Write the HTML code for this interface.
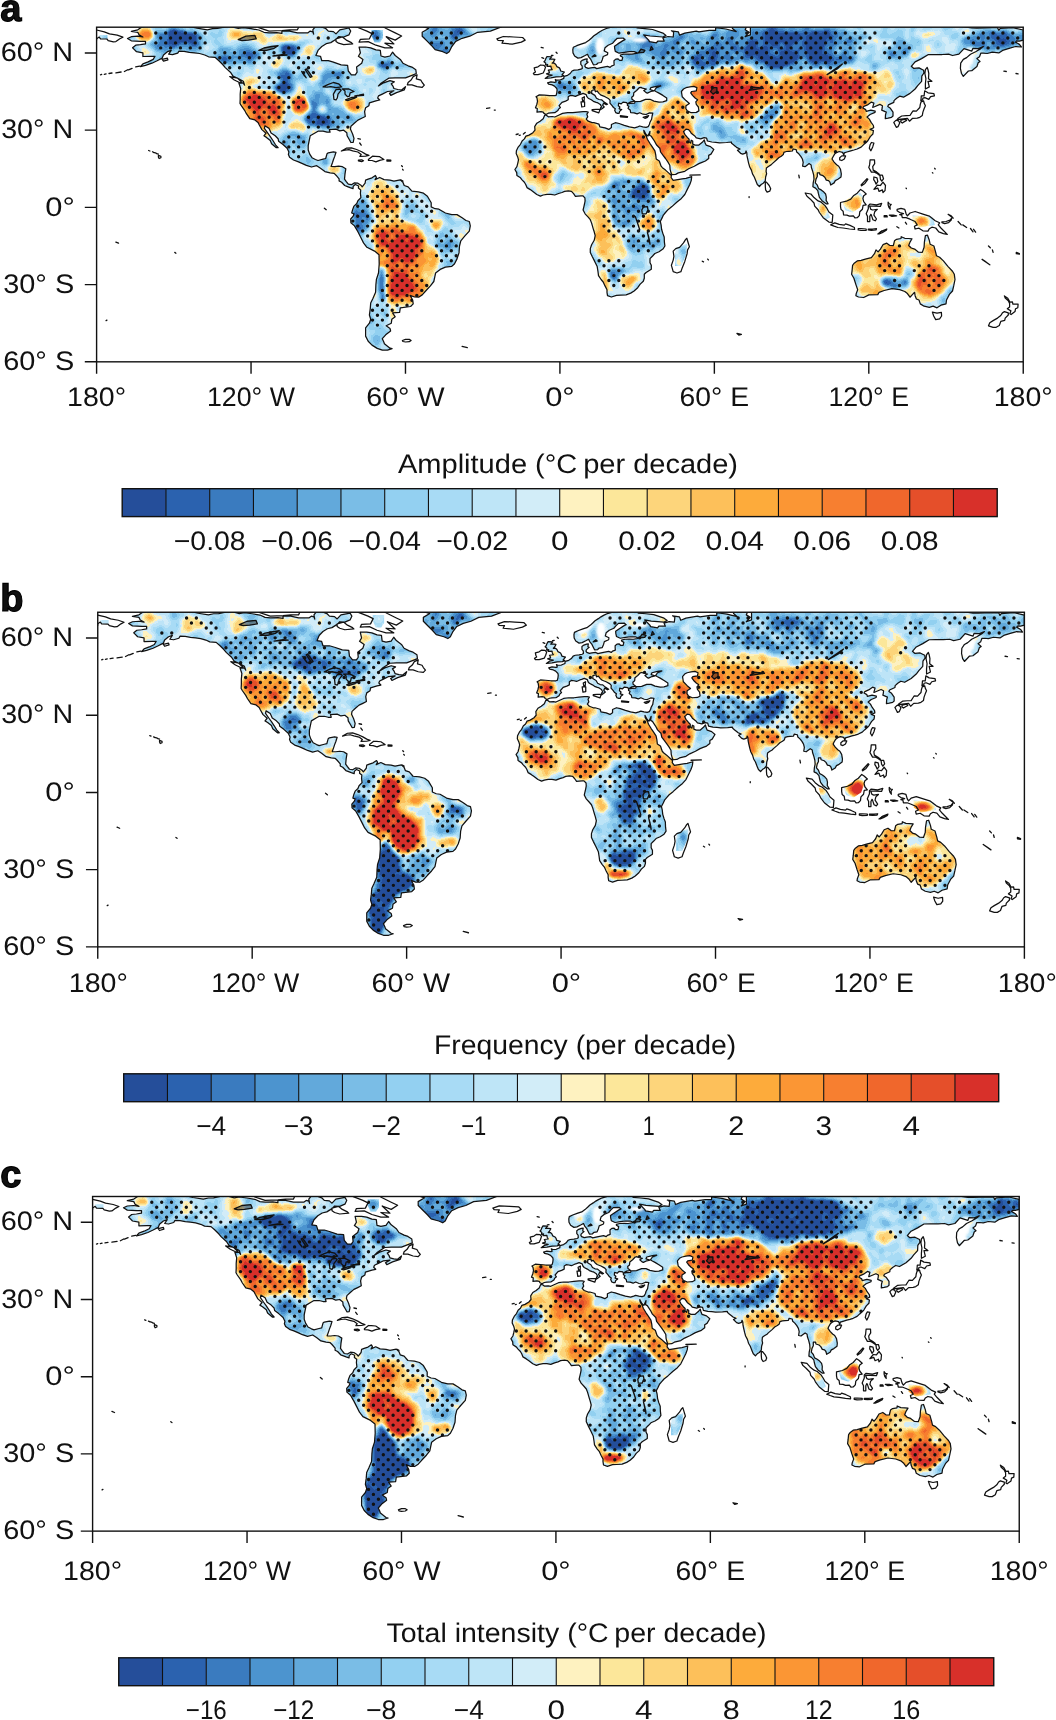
<!DOCTYPE html><html><head><meta charset="utf-8"><title>fig</title><style>html,body{margin:0;padding:0;background:#fff}svg{display:block}text{font-family:"Liberation Sans",sans-serif;fill:#111;text-rendering:geometricPrecision}</style></head><body>
<svg width="1056" height="1720" viewBox="0 0 1056 1720">
<defs>
<path id="landp" d="M60.5,-3.3 L72.1,-2.1 L82.4,-1.0 L95.2,-0.3 L100.4,1.0 L110.7,2.6 L115.8,1.5 L121.0,1.3 L128.7,-0.3 L133.8,-0.8 L141.6,1.3 L146.7,0.5 L154.4,1.5 L162.2,2.8 L167.3,5.1 L172.5,5.7 L180.2,5.4 L185.3,6.2 L185.3,3.6 L193.0,3.9 L200.8,5.7 L211.1,5.7 L213.6,3.9 L216.2,4.6 L217.0,6.9 L216.2,2.6 L221.4,-3.9 L225.2,0.0 L229.1,1.3 L231.7,3.9 L236.8,4.4 L239.4,6.7 L243.2,2.6 L252.3,0.8 L254.1,3.9 L252.3,7.7 L247.1,9.8 L242.0,9.5 L239.4,12.1 L234.2,15.4 L229.6,16.5 L225.2,19.3 L221.4,23.2 L219.3,28.3 L223.9,29.1 L225.2,33.5 L231.7,33.5 L236.8,35.0 L244.5,37.6 L251.0,38.1 L251.7,43.8 L254.8,47.6 L258.7,47.6 L260.5,45.0 L260.0,39.9 L265.1,36.0 L266.4,32.2 L261.8,29.1 L263.8,25.7 L262.5,19.8 L269.0,19.8 L274.1,20.6 L279.3,22.7 L283.7,23.2 L284.4,28.8 L288.3,29.9 L293.4,28.8 L296.0,25.0 L298.6,28.3 L303.7,32.2 L306.3,36.0 L311.5,38.6 L315.3,39.9 L319.2,42.5 L319.7,46.3 L316.6,47.6 L308.9,50.7 L298.6,50.7 L292.1,51.0 L284.4,56.1 L281.9,58.7 L287.0,55.6 L293.4,53.5 L297.8,54.6 L294.7,56.6 L296.5,59.2 L297.3,61.3 L301.2,62.3 L305.0,62.8 L308.9,59.5 L307.6,62.8 L299.9,65.4 L294.2,68.2 L292.9,66.2 L297.3,63.6 L290.9,64.3 L285.7,66.9 L281.9,68.7 L281.1,70.8 L283.1,72.8 L279.3,73.6 L272.8,75.7 L272.3,78.5 L269.0,80.6 L268.0,84.4 L268.7,89.3 L265.1,91.1 L261.3,92.9 L257.4,96.3 L254.3,99.1 L253.8,101.9 L256.1,107.1 L257.4,111.2 L256.6,115.1 L254.3,115.3 L252.8,112.5 L250.5,108.6 L250.2,105.5 L247.1,103.0 L243.2,103.7 L239.4,101.9 L235.5,102.2 L232.7,102.4 L233.5,105.0 L230.4,105.0 L226.5,104.0 L221.4,104.0 L218.8,105.5 L213.6,108.6 L212.6,113.3 L211.6,118.4 L211.6,122.8 L213.1,126.9 L215.4,130.5 L218.8,132.3 L221.4,133.3 L226.5,132.0 L229.1,131.3 L230.4,126.6 L231.7,125.6 L236.8,124.6 L239.4,125.1 L238.1,129.2 L236.8,132.6 L236.0,135.1 L234.5,139.3 L238.1,139.5 L242.0,139.0 L245.8,139.5 L249.2,141.6 L248.4,146.7 L247.9,151.9 L249.7,154.4 L251.7,157.0 L254.8,157.5 L257.9,155.7 L261.3,156.0 L264.3,158.0 L265.6,159.6 L268.5,156.0 L269.0,152.9 L271.6,151.9 L275.4,150.6 L278.8,148.3 L279.8,150.1 L278.5,152.4 L283.1,150.3 L287.5,152.4 L293.4,152.9 L297.3,153.9 L303.7,152.6 L306.3,155.0 L307.6,158.3 L311.5,159.6 L315.3,164.0 L321.8,164.7 L326.9,166.0 L330.8,169.1 L334.6,175.5 L334.6,179.7 L338.5,181.5 L342.3,182.0 L348.8,185.8 L355.2,187.4 L360.4,187.4 L365.5,190.5 L369.4,193.3 L372.7,194.3 L373.7,198.7 L372.7,203.9 L368.1,209.0 L364.2,213.6 L362.9,218.8 L362.4,225.7 L360.4,231.7 L357.8,236.8 L355.2,239.1 L348.8,239.9 L343.6,242.2 L339.0,245.8 L338.2,249.7 L337.2,254.3 L333.8,258.7 L329.5,263.3 L325.6,267.7 L322.0,270.0 L317.9,269.8 L313.5,268.2 L316.1,272.8 L316.6,276.7 L314.0,279.3 L303.7,280.6 L303.0,285.2 L296.0,285.7 L298.6,289.6 L295.2,292.1 L294.7,296.0 L289.6,298.6 L293.4,301.2 L294.0,303.7 L289.1,307.6 L285.7,311.5 L287.3,315.1 L287.8,316.6 L293.4,321.0 L295.5,321.5 L290.9,323.0 L285.7,323.0 L280.6,321.2 L275.4,317.9 L271.6,314.0 L269.0,308.9 L269.0,303.7 L269.0,300.6 L272.8,296.0 L274.1,292.1 L272.8,287.8 L273.6,281.9 L274.1,275.9 L276.2,271.6 L279.0,265.1 L279.3,257.4 L279.8,252.3 L281.9,245.8 L282.6,236.8 L282.4,227.5 L278.0,223.9 L270.3,220.1 L266.9,215.7 L264.6,211.1 L261.3,204.6 L257.9,198.7 L254.3,195.6 L254.1,191.8 L256.6,188.9 L257.4,186.6 L255.1,185.8 L256.1,182.2 L257.4,178.9 L260.2,176.3 L261.3,173.5 L264.3,170.4 L263.8,166.0 L264.1,162.7 L261.8,160.9 L262.0,158.8 L258.7,157.3 L256.6,159.1 L256.4,161.4 L253.5,160.4 L250.2,159.1 L248.1,158.3 L245.0,155.0 L242.5,153.7 L242.5,151.6 L239.4,148.0 L237.6,146.2 L233.5,145.7 L228.3,144.4 L223.9,141.1 L220.1,138.5 L214.9,139.8 L209.8,138.2 L205.9,136.4 L201.3,134.4 L196.9,132.8 L193.0,130.0 L191.8,127.2 L192.3,124.8 L190.5,121.0 L186.1,117.1 L182.0,114.0 L181.5,111.5 L178.6,108.6 L174.5,105.8 L172.5,101.2 L168.3,98.6 L167.8,101.2 L171.2,106.0 L173.7,109.4 L176.3,113.3 L178.9,117.6 L181.5,120.5 L179.7,120.5 L175.0,116.6 L173.7,113.3 L169.9,110.2 L167.3,108.6 L169.4,106.0 L165.3,102.4 L162.7,97.8 L161.4,95.2 L158.3,92.7 L153.2,91.4 L149.8,86.5 L148.0,83.1 L144.7,78.5 L143.4,76.2 L143.6,72.1 L143.6,66.9 L144.1,61.3 L142.3,55.9 L146.7,55.9 L148.0,57.9 L146.7,54.1 L142.1,51.5 L136.4,48.9 L133.8,45.0 L128.7,40.4 L126.1,37.3 L122.3,33.5 L118.4,30.1 L112.0,29.6 L108.1,27.8 L103.0,26.3 L97.8,25.7 L92.7,25.2 L87.5,24.2 L82.4,23.9 L81.1,26.0 L75.9,27.5 L72.1,27.0 L74.6,23.2 L70.8,24.5 L66.9,27.8 L65.6,30.9 L60.5,33.5 L55.3,36.0 L48.9,38.1 L43.8,39.4 L46.3,36.6 L51.5,34.7 L56.6,32.2 L58.4,29.1 L54.1,29.1 L46.3,29.3 L46.3,25.7 L39.9,24.5 L37.3,21.9 L36.0,20.6 L39.1,18.0 L43.8,17.5 L48.9,16.7 L48.9,14.2 L43.8,14.2 L34.7,13.6 L30.9,11.3 L34.7,9.5 L41.2,9.0 L46.3,9.8 L42.5,7.7 L41.2,5.1 L34.7,4.1 L41.2,2.6 L45.0,0.0 L51.5,-1.5ZM305.0,8.8 L298.6,12.9 L289.6,9.5 L297.3,16.7 L288.3,16.0 L296.0,20.6 L288.3,20.6 L279.3,18.0 L271.6,14.4 L262.5,14.9 L263.8,12.1 L272.8,11.6 L275.4,6.4 L270.3,3.9 L261.3,0.3 L257.4,-1.3 L244.5,-3.9 L244.5,-9.0 L257.4,-10.3 L270.3,-7.2 L283.1,-2.6 L289.6,1.3 L298.6,5.7ZM239.4,11.6 L245.8,9.8 L249.7,12.9 L254.8,15.4 L256.1,16.7 L247.1,17.5 L242.0,16.0 L239.4,14.2ZM162.2,0.5 L167.3,2.1 L172.5,3.9 L185.3,3.3 L193.0,2.6 L200.8,2.6 L202.1,0.0 L200.8,-7.7 L159.6,-7.7ZM350.1,26.3 L346.2,24.5 L338.5,22.4 L334.6,18.0 L330.8,14.2 L325.6,9.0 L325.6,5.1 L332.0,1.3 L324.3,-1.3 L324.3,-12.9 L406.7,-12.9 L406.7,-1.3 L404.1,0.0 L393.8,3.9 L381.0,5.1 L373.2,9.0 L365.5,11.1 L359.1,14.2 L355.2,19.3 L352.6,24.5ZM400.3,11.6 L406.7,9.3 L417.0,9.8 L426.0,10.3 L428.6,12.9 L424.7,14.9 L415.7,17.0 L405.4,16.0 L406.7,13.4 L401.5,13.1ZM529.5,-2.8 L543.1,-0.8 L540.5,0.8 L548.3,1.5 L556.0,2.3 L566.3,5.9 L569.4,8.2 L566.3,9.8 L553.4,8.8 L547.0,7.7 L552.1,12.9 L552.9,14.4 L559.8,15.7 L561.1,13.9 L567.6,13.9 L566.3,10.8 L571.4,9.3 L576.6,9.8 L577.1,5.1 L574.8,3.6 L581.7,4.6 L583.0,8.0 L588.2,5.9 L599.7,3.9 L602.3,4.6 L612.6,3.1 L619.0,3.1 L619.0,0.5 L629.3,1.8 L633.2,2.8 L639.6,4.4 L635.8,1.3 L635.8,-2.6 L638.4,-6.4 L649.9,-7.2 L650.7,-2.6 L648.6,2.6 L652.5,5.1 L648.6,9.5 L653.8,7.7 L653.8,0.0 L656.4,-5.1 L664.1,-5.1 L670.5,-9.0 L687.3,-10.3 L687.3,-12.9 L720.7,-16.7 L731.0,-19.3 L754.2,-15.4 L754.2,-9.8 L767.1,-8.2 L779.9,-8.5 L790.2,-6.4 L797.9,-2.6 L805.7,-3.9 L823.7,-6.4 L826.3,-6.9 L849.4,-4.4 L854.6,-2.3 L875.2,0.8 L880.3,1.0 L895.8,0.5 L900.9,0.5 L902.2,3.1 L903.5,1.3 L916.3,0.5 L926.6,2.8 L926.6,12.9 L922.8,13.9 L920.2,13.6 L918.9,14.9 L922.8,17.2 L924.8,19.8 L918.9,19.3 L912.5,21.1 L906.0,23.2 L902.2,25.7 L895.8,25.0 L890.6,26.3 L886.7,26.0 L884.2,26.0 L882.9,29.6 L880.3,31.4 L883.4,34.2 L881.6,35.5 L880.3,39.4 L875.2,43.5 L871.8,43.8 L866.7,49.2 L864.9,46.3 L863.8,41.2 L864.1,36.0 L866.7,32.2 L870.0,30.4 L873.9,27.0 L879.0,24.5 L884.2,21.4 L886.7,19.3 L881.6,21.4 L876.4,21.1 L875.2,23.9 L867.4,21.4 L862.3,27.0 L855.9,28.3 L852.0,27.0 L845.6,27.3 L837.8,27.3 L831.4,27.5 L825.0,31.4 L818.5,34.7 L814.7,39.1 L817.2,41.2 L822.4,40.7 L827.0,43.0 L827.3,45.8 L825.2,48.9 L825.0,54.1 L821.1,58.4 L818.5,61.8 L813.4,66.2 L806.9,70.0 L803.1,69.0 L800.0,71.0 L797.4,73.4 L797.2,75.2 L791.8,77.7 L791.2,79.3 L793.8,81.1 L796.4,84.9 L796.4,88.8 L794.9,90.1 L791.5,90.9 L788.7,91.4 L788.9,87.5 L789.7,84.9 L785.1,82.9 L785.6,80.8 L785.8,78.5 L783.3,77.2 L777.3,79.8 L776.1,80.1 L777.3,75.9 L774.8,74.9 L770.9,77.7 L767.1,79.3 L766.3,80.8 L769.1,82.4 L769.6,84.2 L774.3,82.9 L778.6,83.9 L778.4,85.2 L773.5,87.3 L770.4,89.8 L772.7,91.9 L774.5,95.2 L776.8,98.3 L777.1,100.6 L773.5,102.2 L776.8,103.5 L776.3,106.8 L773.7,109.4 L771.4,113.3 L769.6,115.3 L767.1,117.4 L764.5,119.9 L760.6,121.8 L757.3,122.8 L754.2,123.6 L750.3,124.8 L747.7,125.6 L747.2,127.9 L745.9,125.1 L742.6,124.3 L740.0,125.4 L738.0,126.9 L736.2,130.0 L735.4,131.8 L737.5,134.9 L740.0,137.5 L742.1,139.0 L743.9,142.1 L744.7,146.7 L744.4,149.8 L741.3,152.1 L738.7,153.4 L737.5,155.7 L734.1,157.8 L733.3,155.0 L732.0,153.4 L729.7,152.9 L728.2,150.1 L726.4,148.5 L723.3,147.5 L723.0,145.7 L720.7,145.7 L720.7,149.3 L719.4,151.9 L718.7,155.7 L720.7,158.0 L722.0,161.4 L724.6,162.7 L726.6,164.2 L729.0,166.8 L729.7,169.9 L729.5,173.2 L731.5,176.6 L729.5,176.6 L725.4,173.5 L722.8,170.1 L721.7,166.0 L721.2,163.4 L718.9,160.9 L716.3,159.6 L716.6,155.7 L717.4,151.9 L717.1,148.0 L716.1,144.1 L714.8,140.3 L714.5,137.7 L712.5,136.4 L710.4,138.0 L708.4,139.5 L706.0,139.0 L706.6,135.1 L705.8,131.8 L704.2,129.2 L702.2,126.6 L700.1,124.8 L699.6,122.5 L696.5,121.8 L695.8,123.8 L692.4,124.1 L689.8,124.3 L687.3,125.1 L686.7,127.4 L684.7,129.0 L682.1,130.5 L679.5,133.1 L675.7,136.4 L674.4,137.7 L671.8,139.3 L669.8,140.8 L669.5,144.1 L670.0,146.5 L669.0,149.8 L668.7,153.7 L666.7,156.0 L664.6,157.3 L662.8,159.3 L660.7,157.3 L659.5,154.4 L657.7,149.8 L655.9,146.7 L654.8,142.9 L653.0,139.5 L652.0,135.9 L651.0,131.5 L650.4,128.7 L650.2,125.6 L649.4,123.8 L648.9,125.9 L646.1,126.9 L644.0,126.1 L640.9,123.0 L643.5,121.8 L640.4,120.5 L638.9,119.2 L636.6,117.4 L635.0,116.1 L634.7,114.8 L629.9,115.3 L622.9,115.6 L619.3,115.1 L615.2,114.8 L610.8,113.8 L610.0,110.9 L607.5,110.4 L604.1,111.7 L599.7,110.7 L598.5,109.1 L594.6,106.0 L594.1,105.0 L592.0,102.4 L589.4,101.9 L588.2,103.2 L586.9,104.2 L588.2,107.1 L590.7,110.2 L592.5,112.0 L592.5,114.5 L594.1,115.8 L594.6,113.0 L596.1,113.8 L596.1,116.9 L598.5,117.9 L602.3,117.9 L605.7,115.1 L607.7,112.7 L608.5,115.8 L609.5,117.9 L613.9,119.4 L617.2,122.3 L614.4,126.9 L612.1,128.2 L612.1,131.3 L608.8,133.8 L605.4,135.1 L602.3,136.4 L597.7,139.0 L592.0,141.6 L588.2,144.1 L581.7,145.7 L579.1,147.2 L575.3,147.5 L574.5,145.9 L573.5,142.1 L573.2,138.0 L571.4,134.9 L568.9,131.3 L566.3,127.9 L564.0,124.8 L563.2,121.0 L559.8,117.6 L557.8,113.8 L554.7,109.1 L552.9,108.1 L553.4,104.2 L551.9,107.6 L551.4,108.9 L549.5,107.3 L547.2,103.2 L547.5,105.5 L549.5,108.6 L550.8,112.0 L553.4,116.3 L555.0,118.7 L558.3,123.6 L559.1,127.4 L559.6,131.8 L562.7,133.8 L564.5,139.0 L565.8,140.5 L568.9,142.9 L572.5,146.2 L574.8,148.3 L574.5,150.3 L576.6,153.2 L581.2,152.4 L585.6,151.6 L589.4,151.1 L595.1,149.5 L594.6,153.4 L593.3,157.0 L590.7,162.2 L588.2,167.3 L584.8,171.2 L580.4,174.8 L575.3,179.4 L571.4,182.5 L568.9,185.3 L566.8,187.9 L565.5,190.7 L563.7,194.3 L564.5,197.7 L565.0,202.1 L566.3,206.4 L567.6,209.8 L567.8,214.9 L568.3,218.8 L566.3,221.9 L562.4,224.5 L558.3,226.3 L556.0,228.8 L553.4,231.4 L553.4,235.5 L554.7,238.1 L554.7,242.0 L549.5,245.3 L547.7,247.1 L547.7,251.0 L546.7,254.1 L543.6,256.9 L541.1,260.5 L537.5,263.8 L534.1,265.9 L529.5,267.7 L523.8,268.0 L519.9,268.2 L514.8,269.8 L510.9,268.5 L510.4,265.1 L510.4,262.5 L508.4,258.7 L506.6,254.8 L504.5,252.3 L501.9,248.4 L501.4,244.5 L500.6,239.4 L498.1,234.2 L495.5,229.1 L493.7,225.2 L493.7,221.4 L495.0,217.5 L497.6,213.1 L498.6,208.5 L497.6,204.6 L496.8,202.1 L495.0,195.9 L493.7,192.5 L491.6,190.0 L488.5,186.6 L486.5,182.8 L487.3,179.4 L488.0,176.3 L488.5,173.7 L488.3,170.7 L486.2,168.6 L484.4,168.6 L481.3,168.9 L478.8,169.1 L477.0,166.5 L474.9,164.2 L471.8,163.7 L468.0,164.2 L465.4,165.3 L462.0,166.3 L458.2,167.8 L454.3,167.1 L450.4,167.1 L446.6,167.8 L443.8,168.9 L440.2,167.3 L436.3,164.2 L433.7,162.4 L430.4,160.4 L429.1,157.3 L427.8,155.0 L425.2,152.4 L423.9,150.6 L420.3,148.3 L420.1,145.4 L418.3,142.3 L420.3,139.5 L421.1,136.4 L421.9,132.6 L421.1,129.7 L419.6,126.4 L419.8,123.6 L421.6,119.9 L423.9,117.1 L425.5,113.8 L427.8,111.7 L429.3,108.9 L432.4,107.9 L436.3,105.5 L438.4,103.0 L438.1,99.4 L440.2,96.0 L443.5,94.0 L446.6,91.6 L448.1,88.0 L449.7,88.0 L451.7,89.6 L455.6,89.3 L458.2,89.8 L462.0,88.0 L465.9,86.2 L471.0,85.5 L476.2,85.5 L481.3,84.9 L486.5,84.4 L489.6,84.4 L491.6,84.9 L490.3,87.0 L491.1,89.6 L489.6,91.9 L491.6,94.0 L495.5,95.5 L497.3,95.5 L502.4,97.0 L503.2,99.6 L508.4,100.6 L512.2,102.2 L514.8,100.4 L514.8,97.3 L518.7,95.5 L522.5,96.3 L527.7,98.1 L532.8,99.6 L538.0,100.6 L541.1,99.6 L543.1,98.8 L546.2,99.6 L549.5,100.1 L551.6,99.4 L552.9,97.0 L553.4,95.0 L555.0,92.1 L555.5,88.8 L556.2,86.0 L552.9,85.7 L549.5,87.3 L546.5,87.0 L543.1,85.5 L540.5,86.7 L537.5,85.7 L534.1,85.5 L533.6,82.9 L531.5,81.3 L532.3,79.0 L530.8,78.2 L531.0,76.7 L534.1,76.2 L538.0,75.9 L538.5,74.4 L543.9,74.1 L549.0,72.1 L553.4,72.1 L557.3,73.9 L562.4,74.9 L566.3,74.6 L570.1,73.4 L570.1,70.8 L566.3,68.2 L562.4,65.9 L559.3,64.3 L557.8,63.3 L559.8,60.5 L561.9,59.7 L564.2,58.7 L559.8,59.2 L554.2,60.5 L553.4,62.3 L557.3,63.6 L554.2,64.3 L550.8,65.9 L549.5,65.4 L547.2,63.3 L549.8,61.8 L545.7,61.0 L544.4,60.2 L542.6,60.5 L540.0,63.3 L537.2,65.6 L536.9,68.5 L535.1,70.0 L535.4,72.1 L538.0,73.9 L534.1,74.6 L532.0,75.9 L530.8,77.0 L530.2,75.4 L526.4,74.9 L524.6,76.7 L522.0,75.9 L521.7,78.5 L523.3,79.8 L522.5,81.6 L525.1,82.4 L523.8,83.4 L523.0,84.2 L522.5,86.2 L521.0,86.2 L519.2,85.5 L518.1,83.1 L518.7,81.6 L516.9,80.3 L515.3,78.2 L513.3,75.9 L513.5,73.1 L512.2,71.6 L508.4,69.5 L504.5,68.0 L502.4,66.2 L500.6,63.8 L498.8,64.6 L498.3,62.5 L495.2,63.3 L495.0,66.2 L498.3,68.2 L499.9,71.0 L502.4,72.3 L505.0,72.6 L507.6,74.9 L510.9,77.0 L509.7,77.5 L507.1,75.9 L506.0,78.0 L507.6,79.8 L505.8,81.3 L503.7,82.6 L504.0,80.6 L505.0,79.8 L503.7,77.2 L501.4,75.7 L499.6,75.2 L496.8,74.1 L494.7,72.6 L491.6,71.0 L490.3,69.5 L489.6,67.4 L486.5,66.2 L483.9,67.2 L482.1,67.7 L478.8,69.2 L476.2,68.5 L473.6,68.2 L471.6,69.5 L471.6,71.3 L471.6,72.6 L469.0,73.9 L465.4,75.2 L462.5,78.5 L463.8,80.3 L462.0,81.9 L461.3,83.4 L458.2,85.5 L454.3,85.7 L451.7,86.0 L449.4,87.3 L447.4,86.2 L446.6,84.9 L444.3,84.4 L440.4,84.9 L440.7,81.3 L438.9,80.6 L440.2,77.2 L440.9,74.1 L440.4,70.8 L439.4,69.5 L442.7,67.7 L447.9,68.0 L453.0,68.5 L458.2,68.5 L459.5,68.2 L460.2,65.6 L460.5,62.8 L460.2,61.3 L457.9,58.9 L455.6,57.7 L452.0,56.9 L451.0,55.6 L454.3,54.6 L458.2,55.1 L459.5,54.8 L458.7,52.3 L460.2,53.0 L463.6,52.8 L467.2,51.2 L467.4,49.2 L471.0,48.1 L473.6,46.3 L475.4,43.8 L477.5,43.0 L481.3,42.7 L484.4,42.0 L485.7,41.2 L485.5,38.6 L484.2,37.1 L484.2,34.2 L485.5,33.2 L488.8,31.9 L490.6,31.7 L490.1,34.5 L491.4,35.0 L489.6,36.6 L488.5,37.6 L488.3,39.1 L489.1,40.2 L491.6,41.2 L494.2,40.7 L498.1,40.2 L500.1,41.4 L504.5,40.4 L510.9,39.1 L513.5,40.2 L514.8,38.9 L517.6,37.8 L517.4,35.5 L517.4,33.5 L519.2,31.9 L521.5,31.7 L523.0,33.2 L525.4,33.2 L526.1,30.1 L523.8,28.8 L523.8,27.8 L527.2,27.0 L531.5,26.8 L535.4,27.0 L541.1,26.0 L537.5,24.5 L532.8,24.5 L527.7,25.2 L522.5,26.0 L518.7,24.2 L518.1,21.4 L517.9,19.0 L521.2,16.7 L526.4,13.4 L528.4,12.4 L526.4,10.8 L520.7,11.1 L518.1,13.6 L516.1,16.0 L511.5,18.0 L508.4,20.6 L507.6,23.7 L511.2,25.5 L510.9,27.5 L506.6,29.3 L505.8,32.2 L504.5,35.3 L501.4,35.8 L499.9,37.3 L496.8,37.6 L495.8,35.5 L494.2,32.2 L492.1,29.6 L490.9,27.0 L488.5,28.3 L484.4,30.4 L481.3,30.9 L478.0,28.8 L476.4,25.7 L476.2,22.4 L476.7,20.1 L480.1,18.5 L485.2,16.7 L489.1,15.4 L492.4,13.1 L495.0,10.8 L497.3,8.5 L500.6,6.4 L503.2,4.6 L505.8,3.1 L509.7,1.3 L514.8,0.0 L522.5,-1.5ZM0.0,2.8 L7.7,4.6 L12.9,6.7 L20.6,8.0 L26.3,10.0 L23.2,11.6 L19.3,14.4 L16.7,14.7 L11.6,13.4 L10.3,11.8 L3.9,11.6 L2.6,9.8 L0.0,11.6 L0.0,12.9 L-2.6,12.9 L-2.6,2.8ZM448.6,51.2 L454.3,50.7 L459.5,49.7 L464.6,49.4 L466.9,48.4 L465.4,47.6 L467.7,44.8 L464.1,43.8 L463.6,42.2 L462.8,40.7 L460.2,39.4 L459.2,37.3 L457.7,36.0 L455.6,36.0 L456.9,34.7 L458.2,32.2 L454.3,31.7 L453.0,31.9 L455.1,29.6 L450.4,29.3 L449.2,31.4 L448.4,33.5 L447.4,34.5 L449.2,36.0 L448.9,37.8 L451.0,37.3 L450.4,39.1 L454.3,38.9 L454.6,40.7 L455.6,42.5 L451.7,43.0 L452.5,44.3 L452.8,45.6 L449.9,46.6 L452.5,47.4 L455.6,47.9 L454.3,48.4 L451.7,48.9ZM437.6,47.4 L441.4,47.4 L446.6,45.8 L447.9,43.0 L448.9,39.9 L447.4,38.1 L444.0,37.8 L441.4,39.6 L437.6,40.7 L438.1,43.0 L438.9,44.8 L436.8,46.1ZM800.3,92.7 L804.4,91.9 L810.8,91.1 L812.9,94.0 L816.0,91.1 L820.6,90.9 L823.2,90.1 L825.7,88.3 L826.3,84.9 L827.5,81.6 L828.8,78.5 L827.5,75.9 L827.0,73.6 L824.5,74.6 L823.7,77.2 L823.2,80.3 L819.8,83.9 L816.5,83.7 L815.2,85.5 L813.4,88.3 L809.5,88.5 L805.1,88.8 L801.3,91.4ZM800.3,92.9 L802.3,94.0 L803.1,95.8 L801.5,99.4 L799.7,100.1 L798.5,97.8 L797.2,95.2 L799.0,93.4ZM804.4,92.9 L808.8,91.9 L810.0,93.2 L808.2,94.2 L805.7,95.8 L804.1,94.5ZM824.2,73.4 L824.5,71.3 L824.7,68.7 L827.5,68.7 L828.1,63.6 L831.4,65.6 L837.3,66.4 L837.8,68.7 L834.0,69.5 L832.2,72.1 L828.3,70.5 L826.3,71.0 L826.0,72.6ZM828.8,61.8 L832.7,59.7 L831.4,54.1 L835.3,54.1 L831.9,51.5 L832.2,46.3 L831.4,42.5 L830.6,40.2 L828.8,42.5 L828.3,46.3 L829.3,51.5 L828.8,56.6ZM774.8,115.3 L777.3,115.8 L776.1,119.7 L774.3,123.6 L772.7,121.0 L773.5,117.6ZM743.1,130.5 L745.2,128.7 L749.0,128.7 L747.7,131.8 L745.2,133.3 L743.1,132.6ZM668.7,155.0 L669.8,155.0 L672.6,158.3 L674.1,161.6 L673.1,164.0 L670.5,165.0 L669.0,162.7 L668.7,159.1ZM773.5,132.6 L777.9,132.6 L778.1,136.4 L776.1,139.5 L776.6,142.9 L779.9,144.7 L782.5,146.7 L782.8,148.0 L779.9,145.9 L777.3,144.7 L774.8,144.9 L773.7,142.9 L772.2,140.3 L773.0,137.7ZM777.3,162.2 L780.7,158.0 L783.8,158.3 L786.4,155.0 L788.9,158.3 L788.4,163.4 L786.4,165.3 L785.8,162.7 L782.5,164.2 L781.2,160.9ZM783.3,148.0 L785.8,148.0 L786.9,151.6 L785.1,153.9 L783.8,151.9ZM777.3,149.8 L780.4,150.6 L781.2,154.4 L779.4,156.8 L778.4,154.4 L777.1,152.4ZM765.0,158.6 L768.3,156.2 L771.2,152.1 L770.4,151.4 L767.1,155.0 L764.5,157.8ZM743.9,179.4 L743.9,175.3 L749.8,174.0 L754.2,171.9 L756.8,168.6 L760.6,166.0 L764.0,162.2 L766.3,163.7 L769.6,166.8 L767.1,168.6 L766.3,171.2 L767.1,174.5 L769.6,177.6 L766.5,178.1 L765.8,182.0 L763.2,184.6 L762.7,188.4 L760.6,190.5 L758.3,190.7 L756.8,188.7 L752.9,188.9 L750.3,187.9 L747.0,187.6 L746.5,184.0 L744.4,182.2ZM708.6,165.8 L714.3,166.8 L717.4,170.4 L721.5,173.7 L724.6,175.0 L728.4,178.4 L730.5,181.5 L732.3,184.8 L736.2,187.9 L735.6,195.1 L732.3,194.9 L726.6,190.5 L722.8,185.3 L721.5,182.5 L718.1,178.9 L717.4,175.8 L713.5,171.7 L710.4,169.1ZM734.1,197.7 L738.2,195.6 L742.6,197.2 L747.7,197.9 L749.0,196.7 L753.4,198.2 L757.8,200.3 L758.0,202.3 L752.9,201.8 L746.5,200.8 L741.3,200.3 L737.5,199.0ZM771.7,178.4 L773.5,176.8 L779.9,177.6 L785.1,176.1 L783.8,179.2 L777.3,178.9 L773.0,178.9 L774.3,182.2 L776.1,182.8 L780.7,182.2 L778.1,184.6 L777.3,187.9 L779.9,191.8 L778.6,193.6 L776.3,192.5 L774.8,187.9 L774.3,187.1 L773.2,189.2 L773.2,194.3 L770.9,194.3 L770.9,189.2 L769.6,186.6 L771.7,181.5ZM761.6,201.5 L764.5,201.5 L769.6,201.8 L769.6,203.1 L764.5,203.3 L761.6,202.8ZM771.7,201.8 L776.1,201.8 L779.9,201.5 L779.4,202.8 L774.8,203.1 L771.7,202.8ZM781.2,206.7 L785.1,203.9 L790.2,201.8 L789.7,203.1 L785.6,205.4 L782.5,206.7ZM791.5,175.0 L792.8,176.8 L794.6,177.1 L793.3,178.9 L793.6,182.0 L792.3,180.2 L791.5,177.6ZM800.5,182.2 L804.4,181.2 L808.2,182.2 L809.5,186.6 L810.8,188.7 L813.4,185.8 L818.5,184.3 L826.3,186.9 L832.7,188.9 L838.6,193.6 L843.0,195.6 L841.7,197.7 L844.3,200.8 L850.7,207.2 L846.8,206.4 L842.2,204.6 L839.1,200.8 L835.3,200.0 L832.7,201.5 L831.4,203.9 L826.3,203.6 L822.4,201.0 L818.5,201.8 L817.8,199.0 L820.6,197.7 L818.5,194.3 L813.4,192.0 L809.5,190.5 L805.7,190.5 L805.1,187.9 L803.1,187.4 L806.9,186.4 L803.1,185.3 L800.5,183.5ZM845.3,194.6 L849.4,194.3 L853.3,193.0 L855.1,191.0 L854.6,192.8 L852.0,195.4 L848.1,196.4 L845.3,195.4ZM756.0,238.1 L757.3,236.3 L760.6,233.7 L764.5,233.2 L769.6,231.7 L774.8,230.4 L777.9,226.5 L779.4,222.7 L781.5,224.7 L783.8,221.9 L786.4,217.5 L790.2,216.0 L793.3,218.3 L796.7,218.5 L797.9,213.6 L800.0,212.1 L804.4,211.3 L804.6,209.5 L808.2,211.1 L812.1,211.3 L815.4,211.6 L813.4,214.9 L812.1,218.3 L814.7,220.8 L818.0,221.9 L821.9,225.0 L825.7,225.2 L827.5,220.1 L827.8,214.9 L828.8,208.5 L830.9,208.0 L832.7,213.1 L833.5,217.0 L837.3,218.8 L839.1,225.2 L839.9,228.6 L843.0,230.1 L846.8,233.7 L851.5,239.4 L855.9,244.0 L857.7,247.1 L858.4,252.3 L857.1,258.7 L855.9,263.8 L852.8,267.2 L849.9,272.8 L849.4,276.7 L844.3,278.0 L840.4,280.6 L836.5,279.0 L832.7,280.1 L827.5,279.0 L823.7,276.7 L822.4,272.8 L819.8,271.8 L818.5,268.5 L818.0,265.1 L816.0,267.2 L813.4,270.0 L810.8,266.4 L808.2,264.3 L803.1,262.5 L795.4,261.5 L787.6,263.3 L782.5,265.1 L781.2,267.4 L772.2,267.7 L767.1,270.3 L761.9,269.8 L759.3,268.5 L759.6,266.4 L761.1,262.5 L759.3,257.4 L757.3,251.0 L755.0,247.1 L755.5,243.2ZM835.8,284.9 L840.4,286.0 L844.8,285.2 L845.0,288.8 L843.0,291.6 L839.1,292.4 L837.1,288.8ZM907.8,268.7 L911.2,271.0 L913.3,274.9 L915.8,274.6 L916.3,277.0 L921.5,277.0 L921.2,280.6 L918.9,281.6 L918.4,284.4 L914.5,287.3 L913.3,286.5 L914.3,283.7 L910.7,281.6 L913.0,279.8 L913.0,276.2 L911.7,273.6 L908.6,270.8ZM907.8,284.4 L911.7,285.7 L911.7,287.8 L908.6,290.9 L908.1,293.2 L904.2,294.2 L902.7,298.3 L899.6,300.1 L896.5,300.1 L891.9,298.6 L893.2,295.5 L896.5,293.4 L900.9,290.9 L904.2,288.3 L906.0,285.5ZM590.2,211.1 L592.8,219.6 L591.0,222.7 L590.5,226.5 L588.2,234.2 L585.6,240.7 L584.3,244.5 L580.4,245.8 L576.6,244.5 L574.8,238.1 L576.6,232.9 L577.3,229.1 L576.6,223.9 L579.1,221.4 L583.0,220.1 L586.9,215.7 L588.9,212.4ZM244.8,123.8 L249.7,121.0 L254.8,120.7 L260.0,122.3 L265.1,124.6 L269.0,126.9 L272.3,128.2 L269.0,129.0 L263.3,129.2 L264.6,127.2 L261.3,124.8 L256.1,123.6 L252.3,122.5 L248.4,123.0ZM271.8,132.3 L275.9,129.0 L278.8,129.2 L283.1,129.5 L287.3,132.3 L283.1,133.1 L279.3,134.6 L275.4,133.3 L271.8,133.1ZM261.8,132.8 L265.1,132.6 L266.9,133.6 L265.1,134.4 L261.8,133.6ZM290.3,132.6 L294.2,132.8 L294.2,133.8 L290.3,133.8ZM310.7,57.7 L315.3,57.7 L320.5,59.5 L325.6,60.2 L327.7,57.9 L325.6,55.3 L324.3,53.0 L319.7,51.7 L320.5,47.6 L316.6,49.4 L314.5,52.8 L311.5,55.3ZM133.1,49.4 L141.1,51.0 L145.4,55.3 L142.9,55.3 L137.7,52.8ZM305.8,313.3 L308.9,312.2 L312.7,312.2 L314.5,313.3 L312.7,314.5 L308.9,314.8 L306.3,314.3ZM65.6,32.2 L70.8,30.9 L71.3,32.7 L66.9,34.0ZM495.5,82.4 L503.5,81.9 L502.2,85.7 L495.5,83.4ZM484.4,74.6 L488.0,74.6 L488.0,79.3 L485.2,79.8ZM485.5,70.8 L487.8,69.5 L487.5,73.4 L486.0,73.4ZM523.8,88.5 L531.0,89.3 L530.8,90.1 L523.8,89.6ZM546.5,90.1 L552.1,88.5 L550.8,90.1 L548.3,91.1ZM61.8,128.2 L64.3,129.2 L64.3,130.5 L62.5,131.3 L61.8,129.7Z"/>
<path id="waterp" d="M589.4,60.5 L586.9,61.8 L584.8,64.3 L585.6,69.5 L589.4,73.4 L592.8,76.2 L589.4,78.5 L589.2,81.3 L590.7,83.7 L594.6,85.5 L599.7,85.2 L602.3,83.7 L601.8,79.8 L599.7,77.2 L599.2,74.6 L601.0,72.6 L598.5,70.8 L595.9,68.2 L594.1,65.6 L595.1,64.3 L599.7,63.6 L600.3,60.5 L597.2,59.2 L593.3,59.7Z"/>
<path id="lakes" d="M141.6,12.4 L149.3,9.0 L158.3,8.2 L159.6,11.6 L151.9,12.9 L145.4,13.4ZM162.2,23.2 L167.3,20.8 L175.0,19.3 L181.5,18.5 L177.6,21.1 L169.9,23.2ZM176.3,28.8 L185.3,27.5 L190.5,27.8ZM208.5,42.5 L211.1,46.3 L213.6,50.2 L215.4,49.4 L212.4,45.0 L209.8,41.7ZM205.1,44.3 L207.7,48.4 L209.5,50.5ZM248.9,72.6 L254.8,70.3 L260.0,70.0 L257.4,71.3 L251.0,73.4ZM258.2,68.7 L262.5,68.0 L266.9,66.9 L266.9,68.2 L261.3,68.7ZM730.5,47.4 L734.9,45.0 L741.3,41.2 L745.7,36.8ZM652.5,63.1 L656.4,60.0 L661.5,60.5 L666.7,61.0ZM613.9,64.3 L616.5,60.5 L620.3,60.5 L620.3,64.3 L616.5,66.9ZM541.8,25.7 L544.4,21.9 L548.3,23.2 L547.0,25.2ZM553.4,23.2 L554.7,19.3 L556.5,21.9ZM495.5,29.6 L498.1,27.5 L499.4,28.8Z"/>
<path id="lakes2" d="M226.5,59.7 L231.7,57.1 L236.8,55.3 L242.0,56.6 L245.0,59.7 L239.4,60.5 L234.2,59.5 L230.4,60.0ZM237.3,72.1 L236.8,66.9 L239.4,62.5 L243.2,61.8 L244.5,63.1 L241.4,66.9 L240.7,70.8 L239.4,72.8ZM245.8,61.8 L252.3,61.8 L257.4,64.3 L253.5,65.6 L252.8,69.0 L251.0,69.5 L248.4,66.9 L248.4,63.8ZM545.2,182.8 L547.0,179.7 L550.8,179.4 L551.4,182.8 L549.5,186.6 L545.7,186.6ZM538.7,189.2 L540.0,193.0 L541.8,198.2 L543.1,202.6ZM550.8,205.1 L552.1,209.8 L552.9,213.6 L553.4,217.0ZM39.1,39.6 L43.0,38.9ZM31.9,42.7 L35.5,41.2ZM27.8,44.3 L31.1,42.5ZM19.3,45.6 L24.5,44.8ZM12.4,46.3 L15.4,45.8ZM7.7,47.1 L9.5,46.6ZM3.9,47.6 L5.1,47.1ZM907.3,44.0 L909.7,44.3ZM919.4,46.3 L921.5,46.6ZM57.9,125.4 L59.5,125.9ZM55.9,124.6 L57.4,125.4ZM52.0,123.3 L53.3,123.8ZM60.0,126.4 L61.8,126.9ZM227.8,181.0 L229.6,182.5ZM885.5,232.2 L889.3,234.7 L893.2,237.6ZM919.7,225.2 L922.8,226.3 L922.8,227.0 L919.7,226.5ZM891.9,218.8 L893.7,220.6ZM895.8,222.7 L896.5,225.2ZM873.9,201.3 L876.4,204.6ZM877.0,202.1 L879.0,204.9ZM866.2,197.7 L870.0,200.3ZM861.5,194.3 L864.6,197.7ZM640.4,306.3 L644.8,307.1 L642.2,307.9ZM605.7,234.0 L606.9,234.7ZM611.1,231.9 L611.8,232.7ZM397.7,82.9 L398.7,82.9ZM390.0,81.1 L393.3,80.6ZM419.6,107.3 L421.6,106.8ZM422.7,108.1 L423.7,107.9ZM426.8,106.8 L428.6,105.3ZM444.5,20.1 L446.6,20.6ZM459.5,25.0 L460.5,26.0ZM454.8,28.3 L456.4,28.1ZM445.3,30.4 L447.1,31.1ZM305.0,138.5 L305.8,139.3ZM306.0,142.1 L306.6,142.9ZM304.5,152.9 L306.3,153.9ZM263.1,115.8 L264.6,117.9ZM261.3,111.5 L263.8,112.0ZM78.2,225.2 L79.3,226.0ZM19.3,214.9 L21.9,216.0ZM10.3,292.9 L9.5,293.4ZM365.5,319.2 L370.7,320.5ZM593.3,148.0 L603.6,147.7ZM702.2,148.0 L702.7,150.6ZM652.5,169.4 L652.5,170.4ZM838.1,141.1 L838.6,141.8ZM835.8,145.4 L836.3,145.9ZM809.5,160.9 L809.8,161.4ZM792.8,187.9 L796.7,187.9 L800.0,188.7 L795.4,189.2ZM787.6,188.4 L790.2,188.4 L790.7,189.7 L787.6,189.7ZM783.3,205.4 L785.1,204.1ZM800.3,199.5 L802.3,200.8ZM808.8,195.1 L810.0,196.9ZM851.5,187.1 L854.6,188.7 L856.6,191.0Z"/>
<clipPath id="land"><path d="M60.5,-3.3 L72.1,-2.1 L82.4,-1.0 L95.2,-0.3 L100.4,1.0 L110.7,2.6 L115.8,1.5 L121.0,1.3 L128.7,-0.3 L133.8,-0.8 L141.6,1.3 L146.7,0.5 L154.4,1.5 L162.2,2.8 L167.3,5.1 L172.5,5.7 L180.2,5.4 L185.3,6.2 L185.3,3.6 L193.0,3.9 L200.8,5.7 L211.1,5.7 L213.6,3.9 L216.2,4.6 L217.0,6.9 L216.2,2.6 L221.4,-3.9 L225.2,0.0 L229.1,1.3 L231.7,3.9 L236.8,4.4 L239.4,6.7 L243.2,2.6 L252.3,0.8 L254.1,3.9 L252.3,7.7 L247.1,9.8 L242.0,9.5 L239.4,12.1 L234.2,15.4 L229.6,16.5 L225.2,19.3 L221.4,23.2 L219.3,28.3 L223.9,29.1 L225.2,33.5 L231.7,33.5 L236.8,35.0 L244.5,37.6 L251.0,38.1 L251.7,43.8 L254.8,47.6 L258.7,47.6 L260.5,45.0 L260.0,39.9 L265.1,36.0 L266.4,32.2 L261.8,29.1 L263.8,25.7 L262.5,19.8 L269.0,19.8 L274.1,20.6 L279.3,22.7 L283.7,23.2 L284.4,28.8 L288.3,29.9 L293.4,28.8 L296.0,25.0 L298.6,28.3 L303.7,32.2 L306.3,36.0 L311.5,38.6 L315.3,39.9 L319.2,42.5 L319.7,46.3 L316.6,47.6 L308.9,50.7 L298.6,50.7 L292.1,51.0 L284.4,56.1 L281.9,58.7 L287.0,55.6 L293.4,53.5 L297.8,54.6 L294.7,56.6 L296.5,59.2 L297.3,61.3 L301.2,62.3 L305.0,62.8 L308.9,59.5 L307.6,62.8 L299.9,65.4 L294.2,68.2 L292.9,66.2 L297.3,63.6 L290.9,64.3 L285.7,66.9 L281.9,68.7 L281.1,70.8 L283.1,72.8 L279.3,73.6 L272.8,75.7 L272.3,78.5 L269.0,80.6 L268.0,84.4 L268.7,89.3 L265.1,91.1 L261.3,92.9 L257.4,96.3 L254.3,99.1 L253.8,101.9 L256.1,107.1 L257.4,111.2 L256.6,115.1 L254.3,115.3 L252.8,112.5 L250.5,108.6 L250.2,105.5 L247.1,103.0 L243.2,103.7 L239.4,101.9 L235.5,102.2 L232.7,102.4 L233.5,105.0 L230.4,105.0 L226.5,104.0 L221.4,104.0 L218.8,105.5 L213.6,108.6 L212.6,113.3 L211.6,118.4 L211.6,122.8 L213.1,126.9 L215.4,130.5 L218.8,132.3 L221.4,133.3 L226.5,132.0 L229.1,131.3 L230.4,126.6 L231.7,125.6 L236.8,124.6 L239.4,125.1 L238.1,129.2 L236.8,132.6 L236.0,135.1 L234.5,139.3 L238.1,139.5 L242.0,139.0 L245.8,139.5 L249.2,141.6 L248.4,146.7 L247.9,151.9 L249.7,154.4 L251.7,157.0 L254.8,157.5 L257.9,155.7 L261.3,156.0 L264.3,158.0 L265.6,159.6 L268.5,156.0 L269.0,152.9 L271.6,151.9 L275.4,150.6 L278.8,148.3 L279.8,150.1 L278.5,152.4 L283.1,150.3 L287.5,152.4 L293.4,152.9 L297.3,153.9 L303.7,152.6 L306.3,155.0 L307.6,158.3 L311.5,159.6 L315.3,164.0 L321.8,164.7 L326.9,166.0 L330.8,169.1 L334.6,175.5 L334.6,179.7 L338.5,181.5 L342.3,182.0 L348.8,185.8 L355.2,187.4 L360.4,187.4 L365.5,190.5 L369.4,193.3 L372.7,194.3 L373.7,198.7 L372.7,203.9 L368.1,209.0 L364.2,213.6 L362.9,218.8 L362.4,225.7 L360.4,231.7 L357.8,236.8 L355.2,239.1 L348.8,239.9 L343.6,242.2 L339.0,245.8 L338.2,249.7 L337.2,254.3 L333.8,258.7 L329.5,263.3 L325.6,267.7 L322.0,270.0 L317.9,269.8 L313.5,268.2 L316.1,272.8 L316.6,276.7 L314.0,279.3 L303.7,280.6 L303.0,285.2 L296.0,285.7 L298.6,289.6 L295.2,292.1 L294.7,296.0 L289.6,298.6 L293.4,301.2 L294.0,303.7 L289.1,307.6 L285.7,311.5 L287.3,315.1 L287.8,316.6 L293.4,321.0 L295.5,321.5 L290.9,323.0 L285.7,323.0 L280.6,321.2 L275.4,317.9 L271.6,314.0 L269.0,308.9 L269.0,303.7 L269.0,300.6 L272.8,296.0 L274.1,292.1 L272.8,287.8 L273.6,281.9 L274.1,275.9 L276.2,271.6 L279.0,265.1 L279.3,257.4 L279.8,252.3 L281.9,245.8 L282.6,236.8 L282.4,227.5 L278.0,223.9 L270.3,220.1 L266.9,215.7 L264.6,211.1 L261.3,204.6 L257.9,198.7 L254.3,195.6 L254.1,191.8 L256.6,188.9 L257.4,186.6 L255.1,185.8 L256.1,182.2 L257.4,178.9 L260.2,176.3 L261.3,173.5 L264.3,170.4 L263.8,166.0 L264.1,162.7 L261.8,160.9 L262.0,158.8 L258.7,157.3 L256.6,159.1 L256.4,161.4 L253.5,160.4 L250.2,159.1 L248.1,158.3 L245.0,155.0 L242.5,153.7 L242.5,151.6 L239.4,148.0 L237.6,146.2 L233.5,145.7 L228.3,144.4 L223.9,141.1 L220.1,138.5 L214.9,139.8 L209.8,138.2 L205.9,136.4 L201.3,134.4 L196.9,132.8 L193.0,130.0 L191.8,127.2 L192.3,124.8 L190.5,121.0 L186.1,117.1 L182.0,114.0 L181.5,111.5 L178.6,108.6 L174.5,105.8 L172.5,101.2 L168.3,98.6 L167.8,101.2 L171.2,106.0 L173.7,109.4 L176.3,113.3 L178.9,117.6 L181.5,120.5 L179.7,120.5 L175.0,116.6 L173.7,113.3 L169.9,110.2 L167.3,108.6 L169.4,106.0 L165.3,102.4 L162.7,97.8 L161.4,95.2 L158.3,92.7 L153.2,91.4 L149.8,86.5 L148.0,83.1 L144.7,78.5 L143.4,76.2 L143.6,72.1 L143.6,66.9 L144.1,61.3 L142.3,55.9 L146.7,55.9 L148.0,57.9 L146.7,54.1 L142.1,51.5 L136.4,48.9 L133.8,45.0 L128.7,40.4 L126.1,37.3 L122.3,33.5 L118.4,30.1 L112.0,29.6 L108.1,27.8 L103.0,26.3 L97.8,25.7 L92.7,25.2 L87.5,24.2 L82.4,23.9 L81.1,26.0 L75.9,27.5 L72.1,27.0 L74.6,23.2 L70.8,24.5 L66.9,27.8 L65.6,30.9 L60.5,33.5 L55.3,36.0 L48.9,38.1 L43.8,39.4 L46.3,36.6 L51.5,34.7 L56.6,32.2 L58.4,29.1 L54.1,29.1 L46.3,29.3 L46.3,25.7 L39.9,24.5 L37.3,21.9 L36.0,20.6 L39.1,18.0 L43.8,17.5 L48.9,16.7 L48.9,14.2 L43.8,14.2 L34.7,13.6 L30.9,11.3 L34.7,9.5 L41.2,9.0 L46.3,9.8 L42.5,7.7 L41.2,5.1 L34.7,4.1 L41.2,2.6 L45.0,0.0 L51.5,-1.5ZM350.1,26.3 L346.2,24.5 L338.5,22.4 L334.6,18.0 L330.8,14.2 L325.6,9.0 L325.6,5.1 L332.0,1.3 L324.3,-1.3 L324.3,-12.9 L406.7,-12.9 L406.7,-1.3 L404.1,0.0 L393.8,3.9 L381.0,5.1 L373.2,9.0 L365.5,11.1 L359.1,14.2 L355.2,19.3 L352.6,24.5ZM529.5,-2.8 L543.1,-0.8 L540.5,0.8 L548.3,1.5 L556.0,2.3 L566.3,5.9 L569.4,8.2 L566.3,9.8 L553.4,8.8 L547.0,7.7 L552.1,12.9 L552.9,14.4 L559.8,15.7 L561.1,13.9 L567.6,13.9 L566.3,10.8 L571.4,9.3 L576.6,9.8 L577.1,5.1 L574.8,3.6 L581.7,4.6 L583.0,8.0 L588.2,5.9 L599.7,3.9 L602.3,4.6 L612.6,3.1 L619.0,3.1 L619.0,0.5 L629.3,1.8 L633.2,2.8 L639.6,4.4 L635.8,1.3 L635.8,-2.6 L638.4,-6.4 L649.9,-7.2 L650.7,-2.6 L648.6,2.6 L652.5,5.1 L648.6,9.5 L653.8,7.7 L653.8,0.0 L656.4,-5.1 L664.1,-5.1 L670.5,-9.0 L687.3,-10.3 L687.3,-12.9 L720.7,-16.7 L731.0,-19.3 L754.2,-15.4 L754.2,-9.8 L767.1,-8.2 L779.9,-8.5 L790.2,-6.4 L797.9,-2.6 L805.7,-3.9 L823.7,-6.4 L826.3,-6.9 L849.4,-4.4 L854.6,-2.3 L875.2,0.8 L880.3,1.0 L895.8,0.5 L900.9,0.5 L902.2,3.1 L903.5,1.3 L916.3,0.5 L926.6,2.8 L926.6,12.9 L922.8,13.9 L920.2,13.6 L918.9,14.9 L922.8,17.2 L924.8,19.8 L918.9,19.3 L912.5,21.1 L906.0,23.2 L902.2,25.7 L895.8,25.0 L890.6,26.3 L886.7,26.0 L884.2,26.0 L882.9,29.6 L880.3,31.4 L883.4,34.2 L881.6,35.5 L880.3,39.4 L875.2,43.5 L871.8,43.8 L866.7,49.2 L864.9,46.3 L863.8,41.2 L864.1,36.0 L866.7,32.2 L870.0,30.4 L873.9,27.0 L879.0,24.5 L884.2,21.4 L886.7,19.3 L881.6,21.4 L876.4,21.1 L875.2,23.9 L867.4,21.4 L862.3,27.0 L855.9,28.3 L852.0,27.0 L845.6,27.3 L837.8,27.3 L831.4,27.5 L825.0,31.4 L818.5,34.7 L814.7,39.1 L817.2,41.2 L822.4,40.7 L827.0,43.0 L827.3,45.8 L825.2,48.9 L825.0,54.1 L821.1,58.4 L818.5,61.8 L813.4,66.2 L806.9,70.0 L803.1,69.0 L800.0,71.0 L797.4,73.4 L797.2,75.2 L791.8,77.7 L791.2,79.3 L793.8,81.1 L796.4,84.9 L796.4,88.8 L794.9,90.1 L791.5,90.9 L788.7,91.4 L788.9,87.5 L789.7,84.9 L785.1,82.9 L785.6,80.8 L785.8,78.5 L783.3,77.2 L777.3,79.8 L776.1,80.1 L777.3,75.9 L774.8,74.9 L770.9,77.7 L767.1,79.3 L766.3,80.8 L769.1,82.4 L769.6,84.2 L774.3,82.9 L778.6,83.9 L778.4,85.2 L773.5,87.3 L770.4,89.8 L772.7,91.9 L774.5,95.2 L776.8,98.3 L777.1,100.6 L773.5,102.2 L776.8,103.5 L776.3,106.8 L773.7,109.4 L771.4,113.3 L769.6,115.3 L767.1,117.4 L764.5,119.9 L760.6,121.8 L757.3,122.8 L754.2,123.6 L750.3,124.8 L747.7,125.6 L747.2,127.9 L745.9,125.1 L742.6,124.3 L740.0,125.4 L738.0,126.9 L736.2,130.0 L735.4,131.8 L737.5,134.9 L740.0,137.5 L742.1,139.0 L743.9,142.1 L744.7,146.7 L744.4,149.8 L741.3,152.1 L738.7,153.4 L737.5,155.7 L734.1,157.8 L733.3,155.0 L732.0,153.4 L729.7,152.9 L728.2,150.1 L726.4,148.5 L723.3,147.5 L723.0,145.7 L720.7,145.7 L720.7,149.3 L719.4,151.9 L718.7,155.7 L720.7,158.0 L722.0,161.4 L724.6,162.7 L726.6,164.2 L729.0,166.8 L729.7,169.9 L729.5,173.2 L731.5,176.6 L729.5,176.6 L725.4,173.5 L722.8,170.1 L721.7,166.0 L721.2,163.4 L718.9,160.9 L716.3,159.6 L716.6,155.7 L717.4,151.9 L717.1,148.0 L716.1,144.1 L714.8,140.3 L714.5,137.7 L712.5,136.4 L710.4,138.0 L708.4,139.5 L706.0,139.0 L706.6,135.1 L705.8,131.8 L704.2,129.2 L702.2,126.6 L700.1,124.8 L699.6,122.5 L696.5,121.8 L695.8,123.8 L692.4,124.1 L689.8,124.3 L687.3,125.1 L686.7,127.4 L684.7,129.0 L682.1,130.5 L679.5,133.1 L675.7,136.4 L674.4,137.7 L671.8,139.3 L669.8,140.8 L669.5,144.1 L670.0,146.5 L669.0,149.8 L668.7,153.7 L666.7,156.0 L664.6,157.3 L662.8,159.3 L660.7,157.3 L659.5,154.4 L657.7,149.8 L655.9,146.7 L654.8,142.9 L653.0,139.5 L652.0,135.9 L651.0,131.5 L650.4,128.7 L650.2,125.6 L649.4,123.8 L648.9,125.9 L646.1,126.9 L644.0,126.1 L640.9,123.0 L643.5,121.8 L640.4,120.5 L638.9,119.2 L636.6,117.4 L635.0,116.1 L634.7,114.8 L629.9,115.3 L622.9,115.6 L619.3,115.1 L615.2,114.8 L610.8,113.8 L610.0,110.9 L607.5,110.4 L604.1,111.7 L599.7,110.7 L598.5,109.1 L594.6,106.0 L594.1,105.0 L592.0,102.4 L589.4,101.9 L588.2,103.2 L586.9,104.2 L588.2,107.1 L590.7,110.2 L592.5,112.0 L592.5,114.5 L594.1,115.8 L594.6,113.0 L596.1,113.8 L596.1,116.9 L598.5,117.9 L602.3,117.9 L605.7,115.1 L607.7,112.7 L608.5,115.8 L609.5,117.9 L613.9,119.4 L617.2,122.3 L614.4,126.9 L612.1,128.2 L612.1,131.3 L608.8,133.8 L605.4,135.1 L602.3,136.4 L597.7,139.0 L592.0,141.6 L588.2,144.1 L581.7,145.7 L579.1,147.2 L575.3,147.5 L574.5,145.9 L573.5,142.1 L573.2,138.0 L571.4,134.9 L568.9,131.3 L566.3,127.9 L564.0,124.8 L563.2,121.0 L559.8,117.6 L557.8,113.8 L554.7,109.1 L552.9,108.1 L553.4,104.2 L551.9,107.6 L551.4,108.9 L549.5,107.3 L547.2,103.2 L547.5,105.5 L549.5,108.6 L550.8,112.0 L553.4,116.3 L555.0,118.7 L558.3,123.6 L559.1,127.4 L559.6,131.8 L562.7,133.8 L564.5,139.0 L565.8,140.5 L568.9,142.9 L572.5,146.2 L574.8,148.3 L574.5,150.3 L576.6,153.2 L581.2,152.4 L585.6,151.6 L589.4,151.1 L595.1,149.5 L594.6,153.4 L593.3,157.0 L590.7,162.2 L588.2,167.3 L584.8,171.2 L580.4,174.8 L575.3,179.4 L571.4,182.5 L568.9,185.3 L566.8,187.9 L565.5,190.7 L563.7,194.3 L564.5,197.7 L565.0,202.1 L566.3,206.4 L567.6,209.8 L567.8,214.9 L568.3,218.8 L566.3,221.9 L562.4,224.5 L558.3,226.3 L556.0,228.8 L553.4,231.4 L553.4,235.5 L554.7,238.1 L554.7,242.0 L549.5,245.3 L547.7,247.1 L547.7,251.0 L546.7,254.1 L543.6,256.9 L541.1,260.5 L537.5,263.8 L534.1,265.9 L529.5,267.7 L523.8,268.0 L519.9,268.2 L514.8,269.8 L510.9,268.5 L510.4,265.1 L510.4,262.5 L508.4,258.7 L506.6,254.8 L504.5,252.3 L501.9,248.4 L501.4,244.5 L500.6,239.4 L498.1,234.2 L495.5,229.1 L493.7,225.2 L493.7,221.4 L495.0,217.5 L497.6,213.1 L498.6,208.5 L497.6,204.6 L496.8,202.1 L495.0,195.9 L493.7,192.5 L491.6,190.0 L488.5,186.6 L486.5,182.8 L487.3,179.4 L488.0,176.3 L488.5,173.7 L488.3,170.7 L486.2,168.6 L484.4,168.6 L481.3,168.9 L478.8,169.1 L477.0,166.5 L474.9,164.2 L471.8,163.7 L468.0,164.2 L465.4,165.3 L462.0,166.3 L458.2,167.8 L454.3,167.1 L450.4,167.1 L446.6,167.8 L443.8,168.9 L440.2,167.3 L436.3,164.2 L433.7,162.4 L430.4,160.4 L429.1,157.3 L427.8,155.0 L425.2,152.4 L423.9,150.6 L420.3,148.3 L420.1,145.4 L418.3,142.3 L420.3,139.5 L421.1,136.4 L421.9,132.6 L421.1,129.7 L419.6,126.4 L419.8,123.6 L421.6,119.9 L423.9,117.1 L425.5,113.8 L427.8,111.7 L429.3,108.9 L432.4,107.9 L436.3,105.5 L438.4,103.0 L438.1,99.4 L440.2,96.0 L443.5,94.0 L446.6,91.6 L448.1,88.0 L449.7,88.0 L451.7,89.6 L455.6,89.3 L458.2,89.8 L462.0,88.0 L465.9,86.2 L471.0,85.5 L476.2,85.5 L481.3,84.9 L486.5,84.4 L489.6,84.4 L491.6,84.9 L490.3,87.0 L491.1,89.6 L489.6,91.9 L491.6,94.0 L495.5,95.5 L497.3,95.5 L502.4,97.0 L503.2,99.6 L508.4,100.6 L512.2,102.2 L514.8,100.4 L514.8,97.3 L518.7,95.5 L522.5,96.3 L527.7,98.1 L532.8,99.6 L538.0,100.6 L541.1,99.6 L543.1,98.8 L546.2,99.6 L549.5,100.1 L551.6,99.4 L552.9,97.0 L553.4,95.0 L555.0,92.1 L555.5,88.8 L556.2,86.0 L552.9,85.7 L549.5,87.3 L546.5,87.0 L543.1,85.5 L540.5,86.7 L537.5,85.7 L534.1,85.5 L533.6,82.9 L531.5,81.3 L532.3,79.0 L530.8,78.2 L531.0,76.7 L534.1,76.2 L538.0,75.9 L538.5,74.4 L543.9,74.1 L549.0,72.1 L553.4,72.1 L557.3,73.9 L562.4,74.9 L566.3,74.6 L570.1,73.4 L570.1,70.8 L566.3,68.2 L562.4,65.9 L559.3,64.3 L557.8,63.3 L559.8,60.5 L561.9,59.7 L564.2,58.7 L559.8,59.2 L554.2,60.5 L553.4,62.3 L557.3,63.6 L554.2,64.3 L550.8,65.9 L549.5,65.4 L547.2,63.3 L549.8,61.8 L545.7,61.0 L544.4,60.2 L542.6,60.5 L540.0,63.3 L537.2,65.6 L536.9,68.5 L535.1,70.0 L535.4,72.1 L538.0,73.9 L534.1,74.6 L532.0,75.9 L530.8,77.0 L530.2,75.4 L526.4,74.9 L524.6,76.7 L522.0,75.9 L521.7,78.5 L523.3,79.8 L522.5,81.6 L525.1,82.4 L523.8,83.4 L523.0,84.2 L522.5,86.2 L521.0,86.2 L519.2,85.5 L518.1,83.1 L518.7,81.6 L516.9,80.3 L515.3,78.2 L513.3,75.9 L513.5,73.1 L512.2,71.6 L508.4,69.5 L504.5,68.0 L502.4,66.2 L500.6,63.8 L498.8,64.6 L498.3,62.5 L495.2,63.3 L495.0,66.2 L498.3,68.2 L499.9,71.0 L502.4,72.3 L505.0,72.6 L507.6,74.9 L510.9,77.0 L509.7,77.5 L507.1,75.9 L506.0,78.0 L507.6,79.8 L505.8,81.3 L503.7,82.6 L504.0,80.6 L505.0,79.8 L503.7,77.2 L501.4,75.7 L499.6,75.2 L496.8,74.1 L494.7,72.6 L491.6,71.0 L490.3,69.5 L489.6,67.4 L486.5,66.2 L483.9,67.2 L482.1,67.7 L478.8,69.2 L476.2,68.5 L473.6,68.2 L471.6,69.5 L471.6,71.3 L471.6,72.6 L469.0,73.9 L465.4,75.2 L462.5,78.5 L463.8,80.3 L462.0,81.9 L461.3,83.4 L458.2,85.5 L454.3,85.7 L451.7,86.0 L449.4,87.3 L447.4,86.2 L446.6,84.9 L444.3,84.4 L440.4,84.9 L440.7,81.3 L438.9,80.6 L440.2,77.2 L440.9,74.1 L440.4,70.8 L439.4,69.5 L442.7,67.7 L447.9,68.0 L453.0,68.5 L458.2,68.5 L459.5,68.2 L460.2,65.6 L460.5,62.8 L460.2,61.3 L457.9,58.9 L455.6,57.7 L452.0,56.9 L451.0,55.6 L454.3,54.6 L458.2,55.1 L459.5,54.8 L458.7,52.3 L460.2,53.0 L463.6,52.8 L467.2,51.2 L467.4,49.2 L471.0,48.1 L473.6,46.3 L475.4,43.8 L477.5,43.0 L481.3,42.7 L484.4,42.0 L485.7,41.2 L485.5,38.6 L484.2,37.1 L484.2,34.2 L485.5,33.2 L488.8,31.9 L490.6,31.7 L490.1,34.5 L491.4,35.0 L489.6,36.6 L488.5,37.6 L488.3,39.1 L489.1,40.2 L491.6,41.2 L494.2,40.7 L498.1,40.2 L500.1,41.4 L504.5,40.4 L510.9,39.1 L513.5,40.2 L514.8,38.9 L517.6,37.8 L517.4,35.5 L517.4,33.5 L519.2,31.9 L521.5,31.7 L523.0,33.2 L525.4,33.2 L526.1,30.1 L523.8,28.8 L523.8,27.8 L527.2,27.0 L531.5,26.8 L535.4,27.0 L541.1,26.0 L537.5,24.5 L532.8,24.5 L527.7,25.2 L522.5,26.0 L518.7,24.2 L518.1,21.4 L517.9,19.0 L521.2,16.7 L526.4,13.4 L528.4,12.4 L526.4,10.8 L520.7,11.1 L518.1,13.6 L516.1,16.0 L511.5,18.0 L508.4,20.6 L507.6,23.7 L511.2,25.5 L510.9,27.5 L506.6,29.3 L505.8,32.2 L504.5,35.3 L501.4,35.8 L499.9,37.3 L496.8,37.6 L495.8,35.5 L494.2,32.2 L492.1,29.6 L490.9,27.0 L488.5,28.3 L484.4,30.4 L481.3,30.9 L478.0,28.8 L476.4,25.7 L476.2,22.4 L476.7,20.1 L480.1,18.5 L485.2,16.7 L489.1,15.4 L492.4,13.1 L495.0,10.8 L497.3,8.5 L500.6,6.4 L503.2,4.6 L505.8,3.1 L509.7,1.3 L514.8,0.0 L522.5,-1.5ZM448.6,51.2 L454.3,50.7 L459.5,49.7 L464.6,49.4 L466.9,48.4 L465.4,47.6 L467.7,44.8 L464.1,43.8 L463.6,42.2 L462.8,40.7 L460.2,39.4 L459.2,37.3 L457.7,36.0 L455.6,36.0 L456.9,34.7 L458.2,32.2 L454.3,31.7 L453.0,31.9 L455.1,29.6 L450.4,29.3 L449.2,31.4 L448.4,33.5 L447.4,34.5 L449.2,36.0 L448.9,37.8 L451.0,37.3 L450.4,39.1 L454.3,38.9 L454.6,40.7 L455.6,42.5 L451.7,43.0 L452.5,44.3 L452.8,45.6 L449.9,46.6 L452.5,47.4 L455.6,47.9 L454.3,48.4 L451.7,48.9ZM756.0,238.1 L757.3,236.3 L760.6,233.7 L764.5,233.2 L769.6,231.7 L774.8,230.4 L777.9,226.5 L779.4,222.7 L781.5,224.7 L783.8,221.9 L786.4,217.5 L790.2,216.0 L793.3,218.3 L796.7,218.5 L797.9,213.6 L800.0,212.1 L804.4,211.3 L804.6,209.5 L808.2,211.1 L812.1,211.3 L815.4,211.6 L813.4,214.9 L812.1,218.3 L814.7,220.8 L818.0,221.9 L821.9,225.0 L825.7,225.2 L827.5,220.1 L827.8,214.9 L828.8,208.5 L830.9,208.0 L832.7,213.1 L833.5,217.0 L837.3,218.8 L839.1,225.2 L839.9,228.6 L843.0,230.1 L846.8,233.7 L851.5,239.4 L855.9,244.0 L857.7,247.1 L858.4,252.3 L857.1,258.7 L855.9,263.8 L852.8,267.2 L849.9,272.8 L849.4,276.7 L844.3,278.0 L840.4,280.6 L836.5,279.0 L832.7,280.1 L827.5,279.0 L823.7,276.7 L822.4,272.8 L819.8,271.8 L818.5,268.5 L818.0,265.1 L816.0,267.2 L813.4,270.0 L810.8,266.4 L808.2,264.3 L803.1,262.5 L795.4,261.5 L787.6,263.3 L782.5,265.1 L781.2,267.4 L772.2,267.7 L767.1,270.3 L761.9,269.8 L759.3,268.5 L759.6,266.4 L761.1,262.5 L759.3,257.4 L757.3,251.0 L755.0,247.1 L755.5,243.2ZM274.9,2.8 L286.4,2.8 L286.4,10.8 L283.4,15.3 L277.9,15.3 L274.9,8.8ZM2.4,7.8 L10.9,7.8 L10.9,11.6 L2.4,11.6ZM745.9,175.3 L753.4,170.3 L763.4,165.3 L767.1,170.3 L763.4,180.3 L755.9,185.3 L748.4,182.8ZM720.9,175.3 L728.4,177.8 L733.4,190.3 L728.4,192.8 L723.4,185.3ZM815.9,187.8 L835.9,190.3 L838.4,197.8 L823.4,200.3 L815.9,195.3ZM579.4,220.3 L590.9,216.6 L589.4,227.8 L584.4,238.8 L578.4,238.8 L578.4,227.8ZM589.4,60.5 L586.9,61.8 L584.8,64.3 L585.6,69.5 L589.4,73.4 L592.8,76.2 L589.4,78.5 L589.2,81.3 L590.7,83.7 L594.6,85.5 L599.7,85.2 L602.3,83.7 L601.8,79.8 L599.7,77.2 L599.2,74.6 L601.0,72.6 L598.5,70.8 L595.9,68.2 L594.1,65.6 L595.1,64.3 L599.7,63.6 L600.3,60.5 L597.2,59.2 L593.3,59.7Z" clip-rule="evenodd"/></clipPath>
<clipPath id="box"><rect x="0" y="0" width="926.64" height="334.62"/></clipPath>
<filter id="cm" filterUnits="userSpaceOnUse" x="-20" y="-20" width="967" height="375" color-interpolation-filters="sRGB"><feGaussianBlur stdDeviation="1.9" result="bl"/><feTurbulence type="fractalNoise" baseFrequency="0.07" numOctaves="2" seed="4" result="nz"/><feColorMatrix in="nz" type="matrix" values="1 0 0 0 0 1 0 0 0 0 1 0 0 0 0 0 0 0 0 1" result="ng"/><feComposite in="bl" in2="ng" operator="arithmetic" k1="0" k2="1.12" k3="0.45" k4="-0.2850"/><feComponentTransfer><feFuncR type="discrete" tableValues="0.145 0.169 0.227 0.298 0.384 0.478 0.576 0.659 0.745 0.824 0.996 0.988 0.992 0.992 0.992 0.984 0.969 0.941 0.898 0.847"/><feFuncG type="discrete" tableValues="0.306 0.384 0.482 0.580 0.663 0.741 0.816 0.859 0.898 0.929 0.949 0.906 0.835 0.753 0.671 0.588 0.498 0.404 0.310 0.188"/><feFuncB type="discrete" tableValues="0.604 0.686 0.749 0.812 0.859 0.902 0.945 0.961 0.969 0.973 0.753 0.604 0.482 0.353 0.231 0.204 0.188 0.173 0.165 0.165"/></feComponentTransfer></filter>
<filter id="wb" filterUnits="userSpaceOnUse" x="-20" y="-20" width="970" height="380"><feGaussianBlur stdDeviation="1.2"/></filter>
<pattern id="st" patternUnits="userSpaceOnUse" x="65.78" y="3.57" width="9.66" height="9.90"><circle cx="2.42" cy="2.48" r="1.55" fill="#111"/><circle cx="7.25" cy="7.43" r="1.55" fill="#111"/></pattern>
</defs>
<g transform="translate(96.6,27.2)">
<g clip-path="url(#box)">
<g clip-path="url(#land)">
<g filter="url(#cm)">
<rect x="-30" y="-30" width="987" height="395" fill="rgb(106,106,106)"/>
<path fill="rgb(153,153,153)" d="M418.4,115.3 L440.9,96.5 L460.9,90.8 L488.4,91.5 L508.4,102.8 L548.4,105.3 L558.4,117.8 L573.4,145.3 L588.4,157.8 L578.4,167.8 L563.4,160.3 L543.4,147.8 L513.4,147.8 L503.4,160.3 L485.9,167.8 L458.4,162.8 L440.9,167.8 L423.4,147.8Z"/>
<ellipse cx="78.4" cy="14.1" rx="32.5" ry="12.5" fill="rgb(70,70,70)"/>
<ellipse cx="48.4" cy="7.8" rx="8.8" ry="6.2" fill="rgb(178,178,178)"/>
<ellipse cx="80.9" cy="10.3" rx="18.8" ry="7.5" fill="rgb(19,19,19)"/>
<ellipse cx="150.9" cy="7.8" rx="17.5" ry="5.0" fill="rgb(178,178,178)"/>
<ellipse cx="183.4" cy="11.6" rx="22.5" ry="3.8" fill="rgb(153,153,153)"/>
<ellipse cx="213.4" cy="22.8" rx="5.0" ry="6.2" fill="rgb(153,153,153)"/>
<ellipse cx="140.9" cy="27.8" rx="25.0" ry="10.0" fill="rgb(57,57,57)"/>
<ellipse cx="153.4" cy="27.8" rx="6.2" ry="5.0" fill="rgb(32,32,32)"/>
<ellipse cx="133.4" cy="30.3" rx="7.5" ry="5.5" fill="rgb(45,45,45)"/>
<ellipse cx="193.4" cy="22.8" rx="10.0" ry="6.2" fill="rgb(32,32,32)"/>
<ellipse cx="178.4" cy="37.8" rx="5.0" ry="3.0" fill="rgb(159,159,159)"/>
<ellipse cx="188.4" cy="47.8" rx="7.5" ry="6.2" fill="rgb(32,32,32)"/>
<ellipse cx="188.4" cy="60.3" rx="10.0" ry="6.2" fill="rgb(19,19,19)"/>
<ellipse cx="158.4" cy="55.3" rx="12.5" ry="2.5" fill="rgb(159,159,159)"/>
<ellipse cx="165.9" cy="80.3" rx="22.5" ry="17.5" fill="rgb(191,191,191)"/>
<ellipse cx="158.4" cy="72.8" rx="13.8" ry="11.2" fill="rgb(238,238,238)"/>
<ellipse cx="203.4" cy="77.8" rx="7.0" ry="5.5" fill="rgb(242,242,242)"/>
<ellipse cx="173.4" cy="95.3" rx="12.5" ry="7.5" fill="rgb(198,198,198)"/>
<ellipse cx="200.9" cy="100.3" rx="10.0" ry="6.2" fill="rgb(159,159,159)"/>
<ellipse cx="218.4" cy="72.8" rx="15.0" ry="12.5" fill="rgb(64,64,64)"/>
<ellipse cx="230.9" cy="90.3" rx="25.0" ry="11.2" fill="rgb(64,64,64)"/>
<ellipse cx="220.9" cy="92.8" rx="12.5" ry="7.5" fill="rgb(19,19,19)"/>
<ellipse cx="258.4" cy="77.8" rx="11.2" ry="8.8" fill="rgb(153,153,153)"/>
<ellipse cx="258.4" cy="77.8" rx="7.0" ry="5.5" fill="rgb(185,185,185)"/>
<ellipse cx="225.9" cy="81.5" rx="5.0" ry="3.8" fill="rgb(159,159,159)"/>
<ellipse cx="233.4" cy="52.8" rx="15.0" ry="10.0" fill="rgb(64,64,64)"/>
<ellipse cx="240.9" cy="47.8" rx="6.2" ry="4.0" fill="rgb(38,38,38)"/>
<ellipse cx="218.4" cy="50.3" rx="6.2" ry="3.0" fill="rgb(159,159,159)"/>
<ellipse cx="288.4" cy="37.8" rx="8.8" ry="3.8" fill="rgb(19,19,19)"/>
<ellipse cx="270.9" cy="42.8" rx="7.5" ry="3.8" fill="rgb(159,159,159)"/>
<ellipse cx="279.6" cy="7.8" rx="5.0" ry="6.2" fill="rgb(26,26,26)"/>
<ellipse cx="195.9" cy="115.3" rx="12.5" ry="12.5" fill="rgb(76,76,76)"/>
<ellipse cx="169.7" cy="105.3" rx="3.0" ry="5.0" fill="rgb(159,159,159)"/>
<ellipse cx="228.4" cy="135.3" rx="4.0" ry="4.0" fill="rgb(51,51,51)"/>
<ellipse cx="238.4" cy="142.8" rx="6.0" ry="3.0" fill="rgb(178,178,178)"/>
<ellipse cx="283.4" cy="165.3" rx="11.2" ry="13.8" fill="rgb(153,153,153)"/>
<ellipse cx="292.1" cy="176.6" rx="6.2" ry="6.2" fill="rgb(191,191,191)"/>
<ellipse cx="264.6" cy="190.3" rx="8.8" ry="17.5" fill="rgb(51,51,51)"/>
<ellipse cx="260.9" cy="184.1" rx="5.0" ry="6.2" fill="rgb(32,32,32)"/>
<ellipse cx="315.9" cy="190.3" rx="12.5" ry="10.0" fill="rgb(89,89,89)"/>
<ellipse cx="305.9" cy="235.3" rx="27.5" ry="42.5" fill="rgb(185,185,185)"/>
<ellipse cx="330.9" cy="232.8" rx="10.0" ry="15.0" fill="rgb(159,159,159)"/>
<ellipse cx="339.6" cy="197.8" rx="5.5" ry="5.5" fill="rgb(185,185,185)"/>
<ellipse cx="350.9" cy="212.8" rx="12.5" ry="12.5" fill="rgb(76,76,76)"/>
<ellipse cx="300.9" cy="212.8" rx="20.0" ry="12.0" fill="rgb(242,242,242)" transform="rotate(-25 300.9 212.8)"/>
<ellipse cx="309.6" cy="227.8" rx="13.8" ry="10.0" fill="rgb(242,242,242)"/>
<ellipse cx="300.9" cy="242.8" rx="8.0" ry="10.5" fill="rgb(238,238,238)"/>
<ellipse cx="303.4" cy="260.3" rx="13.8" ry="11.2" fill="rgb(242,242,242)"/>
<ellipse cx="284.6" cy="257.8" rx="3.8" ry="15.0" fill="rgb(38,38,38)"/>
<ellipse cx="280.9" cy="297.8" rx="10.0" ry="20.0" fill="rgb(89,89,89)"/>
<ellipse cx="295.9" cy="282.8" rx="3.8" ry="7.5" fill="rgb(166,166,166)"/>
<ellipse cx="578.4" cy="22.8" rx="55.0" ry="17.5" fill="rgb(64,64,64)"/>
<ellipse cx="603.4" cy="36.5" rx="10.0" ry="6.2" fill="rgb(26,26,26)"/>
<ellipse cx="660.9" cy="12.8" rx="7.5" ry="12.5" fill="rgb(26,26,26)"/>
<ellipse cx="508.4" cy="17.8" rx="20.0" ry="15.0" fill="rgb(96,96,96)"/>
<ellipse cx="508.4" cy="57.3" rx="28.8" ry="9.5" fill="rgb(171,171,171)"/>
<ellipse cx="517.1" cy="65.8" rx="5.5" ry="5.5" fill="rgb(210,210,210)"/>
<ellipse cx="495.9" cy="51.5" rx="7.5" ry="5.0" fill="rgb(185,185,185)"/>
<ellipse cx="538.4" cy="49.0" rx="15.0" ry="10.0" fill="rgb(159,159,159)"/>
<ellipse cx="470.9" cy="59.0" rx="12.5" ry="5.0" fill="rgb(57,57,57)"/>
<ellipse cx="450.9" cy="75.3" rx="11.2" ry="7.5" fill="rgb(153,153,153)"/>
<ellipse cx="445.9" cy="75.3" rx="6.2" ry="6.2" fill="rgb(185,185,185)"/>
<ellipse cx="457.1" cy="39.0" rx="3.8" ry="6.2" fill="rgb(166,166,166)"/>
<ellipse cx="553.4" cy="77.8" rx="10.0" ry="6.2" fill="rgb(153,153,153)"/>
<ellipse cx="553.4" cy="77.8" rx="5.0" ry="3.8" fill="rgb(185,185,185)"/>
<ellipse cx="563.4" cy="56.5" rx="10.0" ry="3.8" fill="rgb(64,64,64)"/>
<ellipse cx="478.4" cy="110.3" rx="28.8" ry="18.8" fill="rgb(191,191,191)"/>
<ellipse cx="473.4" cy="95.8" rx="12.5" ry="6.2" fill="rgb(236,236,236)"/>
<ellipse cx="530.9" cy="115.3" rx="20.0" ry="12.5" fill="rgb(191,191,191)"/>
<ellipse cx="538.4" cy="107.8" rx="6.2" ry="3.8" fill="rgb(230,230,230)"/>
<ellipse cx="435.9" cy="120.3" rx="10.5" ry="10.5" fill="rgb(64,64,64)"/>
<ellipse cx="468.4" cy="137.8" rx="31.2" ry="10.0" fill="rgb(153,153,153)"/>
<ellipse cx="440.9" cy="142.8" rx="15.0" ry="6.2" fill="rgb(191,191,191)" transform="rotate(30 440.9 142.8)"/>
<ellipse cx="470.9" cy="150.3" rx="17.5" ry="7.5" fill="rgb(102,102,102)"/>
<ellipse cx="498.4" cy="140.3" rx="10.0" ry="7.5" fill="rgb(185,185,185)"/>
<ellipse cx="523.4" cy="137.8" rx="15.0" ry="10.0" fill="rgb(149,149,149)"/>
<ellipse cx="563.4" cy="152.8" rx="10.0" ry="10.0" fill="rgb(178,178,178)"/>
<ellipse cx="533.4" cy="170.3" rx="27.5" ry="18.8" fill="rgb(57,57,57)"/>
<ellipse cx="543.4" cy="165.3" rx="8.8" ry="6.2" fill="rgb(26,26,26)"/>
<ellipse cx="498.4" cy="187.8" rx="7.5" ry="12.5" fill="rgb(153,153,153)"/>
<ellipse cx="550.9" cy="195.3" rx="7.5" ry="10.0" fill="rgb(185,185,185)"/>
<ellipse cx="575.9" cy="110.3" rx="22.5" ry="27.5" fill="rgb(185,185,185)" transform="rotate(-20 575.9 110.3)"/>
<ellipse cx="573.4" cy="105.3" rx="12.5" ry="9.5" fill="rgb(236,236,236)" transform="rotate(-30 573.4 105.3)"/>
<ellipse cx="585.9" cy="130.3" rx="8.8" ry="8.8" fill="rgb(242,242,242)"/>
<ellipse cx="618.4" cy="102.8" rx="20.0" ry="10.0" fill="rgb(83,83,83)"/>
<ellipse cx="603.4" cy="122.8" rx="10.0" ry="7.5" fill="rgb(102,102,102)"/>
<ellipse cx="635.9" cy="65.3" rx="40.0" ry="22.5" fill="rgb(191,191,191)"/>
<ellipse cx="628.4" cy="70.3" rx="25.0" ry="12.5" fill="rgb(236,236,236)"/>
<ellipse cx="658.4" cy="65.3" rx="12.5" ry="10.0" fill="rgb(236,236,236)"/>
<ellipse cx="643.4" cy="42.8" rx="10.0" ry="10.0" fill="rgb(191,191,191)"/>
<ellipse cx="653.4" cy="97.8" rx="12.5" ry="10.0" fill="rgb(166,166,166)"/>
<ellipse cx="640.9" cy="115.3" rx="10.0" ry="7.5" fill="rgb(76,76,76)"/>
<ellipse cx="525.9" cy="177.8" rx="25.0" ry="22.5" fill="rgb(64,64,64)"/>
<ellipse cx="543.4" cy="165.3" rx="10.0" ry="7.5" fill="rgb(19,19,19)"/>
<ellipse cx="550.9" cy="196.6" rx="8.8" ry="7.5" fill="rgb(185,185,185)"/>
<ellipse cx="563.4" cy="162.8" rx="10.0" ry="8.8" fill="rgb(178,178,178)"/>
<ellipse cx="503.4" cy="185.3" rx="10.0" ry="15.0" fill="rgb(153,153,153)"/>
<ellipse cx="545.9" cy="215.3" rx="17.5" ry="12.5" fill="rgb(76,76,76)"/>
<ellipse cx="515.9" cy="225.3" rx="15.0" ry="8.8" fill="rgb(153,153,153)"/>
<ellipse cx="520.9" cy="246.6" rx="10.0" ry="7.5" fill="rgb(57,57,57)"/>
<ellipse cx="530.9" cy="252.8" rx="8.8" ry="6.2" fill="rgb(178,178,178)"/>
<ellipse cx="508.4" cy="255.3" rx="3.8" ry="10.0" fill="rgb(191,191,191)"/>
<ellipse cx="585.9" cy="222.8" rx="3.8" ry="5.0" fill="rgb(64,64,64)"/>
<ellipse cx="582.1" cy="235.3" rx="3.0" ry="3.8" fill="rgb(178,178,178)"/>
<ellipse cx="690.9" cy="20.3" rx="90.0" ry="23.8" fill="rgb(57,57,57)"/>
<ellipse cx="678.4" cy="20.3" rx="27.5" ry="17.5" fill="rgb(19,19,19)"/>
<ellipse cx="720.9" cy="25.3" rx="15.0" ry="12.5" fill="rgb(26,26,26)"/>
<ellipse cx="613.4" cy="30.3" rx="15.0" ry="10.0" fill="rgb(32,32,32)"/>
<ellipse cx="808.4" cy="30.3" rx="50.0" ry="25.0" fill="rgb(102,102,102)"/>
<ellipse cx="828.4" cy="7.8" rx="12.5" ry="3.8" fill="rgb(153,153,153)"/>
<ellipse cx="775.9" cy="14.1" rx="10.0" ry="2.5" fill="rgb(153,153,153)"/>
<ellipse cx="818.4" cy="27.8" rx="7.5" ry="2.5" fill="rgb(153,153,153)"/>
<ellipse cx="635.9" cy="65.3" rx="42.5" ry="25.0" fill="rgb(191,191,191)"/>
<ellipse cx="625.9" cy="67.8" rx="25.0" ry="12.5" fill="rgb(236,236,236)"/>
<ellipse cx="640.9" cy="52.8" rx="10.0" ry="10.0" fill="rgb(217,217,217)"/>
<ellipse cx="728.4" cy="65.3" rx="50.0" ry="22.5" fill="rgb(198,198,198)"/>
<ellipse cx="733.4" cy="60.3" rx="32.5" ry="12.5" fill="rgb(238,238,238)"/>
<ellipse cx="720.9" cy="97.8" rx="50.0" ry="25.0" fill="rgb(191,191,191)"/>
<ellipse cx="733.4" cy="107.8" rx="7.5" ry="10.0" fill="rgb(213,213,213)"/>
<ellipse cx="660.9" cy="97.8" rx="15.0" ry="10.0" fill="rgb(83,83,83)"/>
<ellipse cx="670.9" cy="87.8" rx="15.0" ry="7.5" fill="rgb(51,51,51)" transform="rotate(-30 670.9 87.8)"/>
<ellipse cx="675.9" cy="122.8" rx="20.0" ry="10.0" fill="rgb(191,191,191)"/>
<ellipse cx="663.4" cy="140.3" rx="10.0" ry="15.0" fill="rgb(153,153,153)"/>
<ellipse cx="768.4" cy="105.3" rx="10.0" ry="15.0" fill="rgb(159,159,159)"/>
<ellipse cx="783.4" cy="55.3" rx="15.0" ry="12.5" fill="rgb(153,153,153)"/>
<ellipse cx="728.4" cy="142.8" rx="12.5" ry="12.5" fill="rgb(159,159,159)"/>
<ellipse cx="730.9" cy="145.3" rx="5.0" ry="5.0" fill="rgb(185,185,185)"/>
<ellipse cx="755.9" cy="176.6" rx="8.8" ry="7.5" fill="rgb(172,172,172)"/>
<ellipse cx="725.9" cy="182.8" rx="3.8" ry="6.2" fill="rgb(178,178,178)"/>
<ellipse cx="825.9" cy="195.3" rx="7.5" ry="5.0" fill="rgb(178,178,178)"/>
<ellipse cx="623.4" cy="97.8" rx="20.0" ry="12.5" fill="rgb(89,89,89)"/>
<ellipse cx="805.9" cy="245.3" rx="52.5" ry="32.5" fill="rgb(153,153,153)"/>
<ellipse cx="790.9" cy="235.3" rx="17.5" ry="12.5" fill="rgb(187,187,187)"/>
<ellipse cx="833.4" cy="252.8" rx="12.5" ry="16.2" fill="rgb(208,208,208)" transform="rotate(40 833.4 252.8)"/>
<ellipse cx="798.4" cy="255.3" rx="15.0" ry="6.2" fill="rgb(51,51,51)"/>
<ellipse cx="760.9" cy="252.8" rx="5.0" ry="7.5" fill="rgb(76,76,76)"/>
<ellipse cx="813.4" cy="245.3" rx="6.2" ry="7.5" fill="rgb(102,102,102)"/>
<ellipse cx="818.4" cy="227.8" rx="7.5" ry="3.8" fill="rgb(115,115,115)"/>
<path fill="rgb(32,32,32)" d="M60.9,9.1 L68.4,5.3 L100.9,4.8 L107.2,10.3 L103.4,19.1 L83.4,21.6 L68.4,19.1Z"/>
<path fill="rgb(13,13,13)" d="M74.7,7.3 L97.2,6.8 L100.4,13.3 L80.9,16.6 L73.4,12.8Z"/>
<path fill="rgb(210,210,210)" d="M145.9,69.0 L150.9,63.3 L163.4,62.3 L174.7,67.3 L184.7,70.3 L186.4,81.5 L182.2,91.5 L173.4,97.3 L163.4,94.8 L155.9,85.8 L148.9,79.0Z"/>
<path fill="rgb(242,242,242)" d="M147.9,70.3 L158.4,65.8 L167.2,69.0 L169.7,77.8 L161.4,83.3 L153.4,80.8Z"/>
<path fill="rgb(254,254,254)" d="M194.7,71.5 L208.4,69.0 L213.4,80.3 L207.2,86.5 L195.9,84.0Z"/>
<path fill="rgb(19,19,19)" d="M212.2,89.0 L225.9,86.5 L233.4,94.0 L225.9,100.3 L214.7,97.8Z"/>
<path fill="rgb(19,19,19)" d="M180.9,57.8 L193.4,56.5 L195.9,64.0 L185.9,66.5Z"/>
<path fill="rgb(191,191,191)" d="M277.1,200.3 L285.9,196.6 L308.4,197.8 L328.4,210.3 L333.4,227.8 L328.4,242.8 L333.4,257.8 L323.4,270.3 L305.9,279.1 L290.9,275.3 L285.9,262.8 L289.6,242.8 L288.4,227.8 L278.4,217.8Z"/>
<path fill="rgb(242,242,242)" d="M280.9,205.3 L285.9,200.8 L303.4,202.3 L313.4,207.8 L325.9,214.1 L327.1,222.8 L320.9,232.8 L310.9,236.6 L303.4,232.8 L298.4,240.3 L303.4,247.8 L313.4,252.8 L320.9,259.1 L313.4,267.8 L303.4,272.8 L293.4,267.8 L289.6,257.8 L294.6,247.8 L293.4,235.3 L295.9,225.3 L288.4,220.3 L282.1,214.1Z"/>
<path fill="rgb(191,191,191)" d="M457.1,92.8 L487.1,91.5 L489.6,102.8 L503.4,115.3 L498.4,122.8 L478.4,127.8 L465.9,117.8 L457.1,105.3Z"/>
<path fill="rgb(236,236,236)" d="M461.4,91.5 L485.9,90.8 L485.9,97.8 L478.4,100.8 L465.9,99.8 L460.9,96.5Z"/>
<path fill="rgb(191,191,191)" d="M510.9,107.8 L533.4,105.3 L549.6,107.8 L549.6,127.8 L533.4,132.8 L518.4,127.8 L510.9,117.8Z"/>
<path fill="rgb(230,230,230)" d="M530.9,105.8 L545.9,105.8 L544.6,111.5 L533.4,111.5Z"/>
<path fill="rgb(191,191,191)" d="M553.4,97.8 L568.4,87.8 L585.9,95.3 L589.6,110.3 L599.6,120.3 L599.6,135.3 L588.4,144.1 L575.9,137.8 L570.9,122.8 L558.4,110.3Z"/>
<path fill="rgb(238,238,238)" d="M560.9,96.5 L570.9,92.8 L582.1,100.3 L584.6,112.8 L593.4,120.3 L595.9,132.8 L588.4,140.3 L579.6,135.3 L575.9,120.3 L565.9,107.8Z"/>
<path fill="rgb(191,191,191)" d="M595.9,70.3 L613.4,54.0 L635.9,37.8 L655.9,39.0 L658.4,51.5 L667.4,51.5 L667.4,87.8 L653.4,92.8 L628.4,91.5 L610.9,85.3 L598.4,77.8Z"/>
<path fill="rgb(238,238,238)" d="M603.4,67.8 L615.9,57.8 L628.4,54.0 L643.4,42.8 L650.9,45.3 L649.6,57.8 L667.4,57.8 L667.4,80.3 L653.4,82.8 L643.4,86.5 L628.4,85.3 L615.9,80.3 L605.9,75.3Z"/>
<path fill="rgb(173,173,173)" d="M483.4,49.0 L503.4,46.5 L520.9,47.8 L523.4,59.0 L520.9,71.5 L510.9,69.0 L498.4,62.8 L485.9,59.0Z"/>
<path fill="rgb(32,32,32)" d="M593.4,30.3 L610.9,27.8 L618.4,35.3 L610.9,42.8 L598.4,41.5Z"/>
<path fill="rgb(19,19,19)" d="M655.9,5.3 L685.9,4.1 L733.4,4.1 L738.4,17.8 L733.4,32.8 L720.9,37.8 L708.4,27.8 L698.4,35.3 L685.9,40.3 L673.4,35.3 L660.9,27.8 L653.4,17.8Z"/>
<path fill="rgb(32,32,32)" d="M603.4,27.8 L618.4,25.3 L628.4,32.8 L618.4,40.3 L603.4,40.3Z"/>
<path fill="rgb(191,191,191)" d="M603.4,50.3 L628.4,42.8 L645.9,35.3 L653.4,47.8 L675.9,55.3 L678.4,72.8 L658.4,82.8 L653.4,92.8 L633.4,92.8 L613.4,87.8 L603.4,87.8Z"/>
<path fill="rgb(238,238,238)" d="M603.4,57.8 L618.4,55.3 L633.4,47.8 L643.4,42.8 L649.6,47.8 L645.9,57.8 L665.9,60.3 L668.4,70.3 L653.4,75.3 L643.4,82.8 L628.4,85.3 L613.4,80.3 L603.4,80.3Z"/>
<path fill="rgb(189,189,189)" d="M685.9,60.3 L698.4,50.3 L720.9,45.3 L753.4,42.8 L778.4,46.5 L778.4,70.3 L768.4,80.3 L773.4,97.8 L770.9,115.3 L753.4,120.3 L738.4,125.3 L720.9,122.8 L703.4,122.8 L685.9,115.3 L678.4,105.3 L688.4,92.8 L690.9,77.8Z"/>
<path fill="rgb(238,238,238)" d="M703.4,51.5 L720.9,47.8 L743.4,51.5 L763.4,52.8 L768.4,62.8 L763.4,71.5 L743.4,72.8 L723.4,69.0 L705.9,62.8Z"/>
<path fill="rgb(191,191,191)" d="M660.9,115.3 L678.4,110.3 L695.9,117.8 L685.9,127.8 L670.9,135.3 L659.6,130.3Z"/>
<path fill="rgb(51,51,51)" d="M660.9,90.3 L678.4,81.5 L685.9,85.3 L673.4,96.5 L663.4,97.8Z"/>
<path fill="rgb(210,210,210)" d="M825.9,240.3 L838.4,242.8 L848.4,252.8 L843.4,265.3 L833.4,267.8 L825.9,255.3Z"/>
<path fill="rgb(187,187,187)" d="M778.4,227.8 L800.9,217.8 L805.9,225.3 L805.9,242.8 L788.4,247.8 L778.4,242.8Z"/>
<path fill="rgb(254,254,254)" d="M460.4,90.8 L487.1,90.3 L487.1,98.3 L478.4,101.8 L465.9,100.8 L459.9,96.8Z"/>
<ellipse cx="578.4" cy="82.8" rx="12.5" ry="11.2" fill="rgb(178,178,178)"/>
<path fill="rgb(166,166,166)" d="M278.4,160.3 L295.9,157.8 L303.4,172.8 L303.4,197.8 L285.9,200.3 L278.4,187.8 L275.9,172.8Z"/>
<ellipse cx="292.1" cy="176.6" rx="7.0" ry="7.5" fill="rgb(198,198,198)"/>
<path fill="rgb(159,159,159)" d="M327.1,219.1 L339.6,222.8 L343.4,232.8 L338.4,247.8 L329.6,257.8 L324.6,247.8 L329.6,232.8Z"/>
<path fill="rgb(32,32,32)" d="M282.1,240.3 L287.9,240.3 L289.1,272.8 L283.4,275.3 L280.9,257.8Z"/>
<path fill="rgb(153,153,153)" d="M492.1,180.3 L505.9,176.6 L514.6,187.8 L518.4,202.8 L528.4,217.8 L527.1,227.8 L518.4,235.3 L503.4,232.8 L497.1,217.8 L496.4,202.8Z"/>
<ellipse cx="708.4" cy="81.5" rx="10.0" ry="5.5" fill="rgb(166,166,166)"/>
<ellipse cx="755.9" cy="85.3" rx="8.8" ry="10.0" fill="rgb(166,166,166)"/>
<ellipse cx="698.4" cy="109.0" rx="7.5" ry="4.5" fill="rgb(166,166,166)"/>
<ellipse cx="733.4" cy="107.8" rx="7.0" ry="11.2" fill="rgb(214,214,214)"/>
<ellipse cx="743.4" cy="80.3" rx="10.0" ry="6.2" fill="rgb(198,198,198)"/>
<ellipse cx="350.4" cy="12.8" rx="26.0" ry="16.0" fill="rgb(57,57,57)"/>
<ellipse cx="898.4" cy="12.8" rx="32.0" ry="10.0" fill="rgb(45,45,45)"/>
<ellipse cx="903.4" cy="10.8" rx="14.0" ry="6.0" fill="rgb(32,32,32)"/>
<ellipse cx="803.4" cy="22.8" rx="12.0" ry="10.0" fill="rgb(57,57,57)" transform="rotate(-40 803.4 22.8)"/>
<ellipse cx="13.4" cy="10.8" rx="8.0" ry="4.0" fill="rgb(76,76,76)"/>
</g>
<g fill="#fff" filter="url(#wb)">
<ellipse cx="487.1" cy="16.6" rx="8.8" ry="3.5" transform="rotate(-30 487.1 16.6)"/>
<ellipse cx="503.4" cy="19.1" rx="4.5" ry="8.8"/>
<ellipse cx="512.1" cy="31.6" rx="5.5" ry="8.8"/>
<ellipse cx="543.4" cy="12.8" rx="7.5" ry="2.5"/>
<ellipse cx="869.4" cy="32.8" rx="7.0" ry="13.0" transform="rotate(25 869.4 32.8)"/>
<ellipse cx="871.4" cy="47.8" rx="4.0" ry="8.0" transform="rotate(10 871.4 47.8)"/>
</g>
<path d="M59.2,5.8h.01M69.1,5.8h.01M78.9,5.8h.01M88.8,5.8h.01M98.6,5.8h.01M108.5,5.8h.01M275.9,5.8h.01M335.0,5.8h.01M344.9,5.8h.01M354.7,5.8h.01M364.6,5.8h.01M522.2,5.8h.01M532.0,5.8h.01M541.9,5.8h.01M650.2,5.8h.01M660.1,5.8h.01M669.9,5.8h.01M679.8,5.8h.01M689.6,5.8h.01M699.5,5.8h.01M709.3,5.8h.01M719.2,5.8h.01M729.0,5.8h.01M738.9,5.8h.01M748.7,5.8h.01M758.6,5.8h.01M768.4,5.8h.01M778.3,5.8h.01M866.9,5.8h.01M876.8,5.8h.01M886.6,5.8h.01M896.5,5.8h.01M906.3,5.8h.01M916.2,5.8h.01M64.1,10.8h.01M74.0,10.8h.01M83.8,10.8h.01M93.7,10.8h.01M103.5,10.8h.01M221.7,10.8h.01M231.6,10.8h.01M280.8,10.8h.01M339.9,10.8h.01M349.8,10.8h.01M359.6,10.8h.01M615.7,10.8h.01M625.6,10.8h.01M635.4,10.8h.01M645.3,10.8h.01M655.1,10.8h.01M665.0,10.8h.01M674.8,10.8h.01M684.7,10.8h.01M694.5,10.8h.01M704.4,10.8h.01M714.2,10.8h.01M724.1,10.8h.01M733.9,10.8h.01M743.8,10.8h.01M753.6,10.8h.01M763.5,10.8h.01M773.3,10.8h.01M871.8,10.8h.01M881.7,10.8h.01M891.5,10.8h.01M901.4,10.8h.01M911.2,10.8h.01M921.1,10.8h.01M59.2,15.7h.01M69.1,15.7h.01M78.9,15.7h.01M88.8,15.7h.01M98.6,15.7h.01M108.5,15.7h.01M335.0,15.7h.01M344.9,15.7h.01M354.7,15.7h.01M581.3,15.7h.01M591.1,15.7h.01M601.0,15.7h.01M610.8,15.7h.01M620.7,15.7h.01M630.5,15.7h.01M640.4,15.7h.01M650.2,15.7h.01M660.1,15.7h.01M669.9,15.7h.01M679.8,15.7h.01M689.6,15.7h.01M699.5,15.7h.01M709.3,15.7h.01M719.2,15.7h.01M729.0,15.7h.01M738.9,15.7h.01M748.7,15.7h.01M758.6,15.7h.01M768.4,15.7h.01M788.1,15.7h.01M798.0,15.7h.01M807.8,15.7h.01M876.8,15.7h.01M886.6,15.7h.01M896.5,15.7h.01M906.3,15.7h.01M916.2,15.7h.01M64.1,20.7h.01M74.0,20.7h.01M83.8,20.7h.01M93.7,20.7h.01M103.5,20.7h.01M192.2,20.7h.01M202.0,20.7h.01M349.8,20.7h.01M576.3,20.7h.01M586.2,20.7h.01M596.0,20.7h.01M605.9,20.7h.01M615.7,20.7h.01M625.6,20.7h.01M635.4,20.7h.01M645.3,20.7h.01M655.1,20.7h.01M665.0,20.7h.01M674.8,20.7h.01M684.7,20.7h.01M694.5,20.7h.01M704.4,20.7h.01M714.2,20.7h.01M724.1,20.7h.01M733.9,20.7h.01M743.8,20.7h.01M753.6,20.7h.01M763.5,20.7h.01M793.0,20.7h.01M802.9,20.7h.01M812.7,20.7h.01M891.5,20.7h.01M901.4,20.7h.01M118.3,25.6h.01M128.2,25.6h.01M138.0,25.6h.01M147.9,25.6h.01M157.7,25.6h.01M167.6,25.6h.01M177.4,25.6h.01M187.3,25.6h.01M197.1,25.6h.01M571.4,25.6h.01M581.3,25.6h.01M591.1,25.6h.01M601.0,25.6h.01M610.8,25.6h.01M620.7,25.6h.01M630.5,25.6h.01M640.4,25.6h.01M650.2,25.6h.01M660.1,25.6h.01M669.9,25.6h.01M679.8,25.6h.01M689.6,25.6h.01M699.5,25.6h.01M709.3,25.6h.01M719.2,25.6h.01M729.0,25.6h.01M738.9,25.6h.01M748.7,25.6h.01M758.6,25.6h.01M788.1,25.6h.01M798.0,25.6h.01M807.8,25.6h.01M123.2,30.6h.01M133.1,30.6h.01M142.9,30.6h.01M152.8,30.6h.01M162.6,30.6h.01M172.5,30.6h.01M182.3,30.6h.01M192.2,30.6h.01M202.0,30.6h.01M211.9,30.6h.01M556.6,30.6h.01M566.5,30.6h.01M576.3,30.6h.01M586.2,30.6h.01M596.0,30.6h.01M605.9,30.6h.01M615.7,30.6h.01M625.6,30.6h.01M635.4,30.6h.01M645.3,30.6h.01M655.1,30.6h.01M665.0,30.6h.01M674.8,30.6h.01M684.7,30.6h.01M694.5,30.6h.01M704.4,30.6h.01M714.2,30.6h.01M724.1,30.6h.01M733.9,30.6h.01M743.8,30.6h.01M753.6,30.6h.01M793.0,30.6h.01M802.9,30.6h.01M128.2,35.5h.01M138.0,35.5h.01M147.9,35.5h.01M157.7,35.5h.01M167.6,35.5h.01M177.4,35.5h.01M197.1,35.5h.01M207.0,35.5h.01M216.8,35.5h.01M285.8,35.5h.01M295.6,35.5h.01M551.7,35.5h.01M561.6,35.5h.01M571.4,35.5h.01M581.3,35.5h.01M591.1,35.5h.01M601.0,35.5h.01M610.8,35.5h.01M620.7,35.5h.01M630.5,35.5h.01M640.4,35.5h.01M660.1,35.5h.01M669.9,35.5h.01M679.8,35.5h.01M689.6,35.5h.01M699.5,35.5h.01M709.3,35.5h.01M719.2,35.5h.01M729.0,35.5h.01M738.9,35.5h.01M748.7,35.5h.01M133.1,40.5h.01M142.9,40.5h.01M202.0,40.5h.01M211.9,40.5h.01M290.7,40.5h.01M300.5,40.5h.01M556.6,40.5h.01M566.5,40.5h.01M576.3,40.5h.01M586.2,40.5h.01M596.0,40.5h.01M605.9,40.5h.01M615.7,40.5h.01M625.6,40.5h.01M635.4,40.5h.01M645.3,40.5h.01M665.0,40.5h.01M674.8,40.5h.01M684.7,40.5h.01M694.5,40.5h.01M704.4,40.5h.01M714.2,40.5h.01M724.1,40.5h.01M733.9,40.5h.01M197.1,45.4h.01M207.0,45.4h.01M216.8,45.4h.01M236.5,45.4h.01M246.4,45.4h.01M551.7,45.4h.01M561.6,45.4h.01M571.4,45.4h.01M581.3,45.4h.01M591.1,45.4h.01M601.0,45.4h.01M610.8,45.4h.01M620.7,45.4h.01M630.5,45.4h.01M640.4,45.4h.01M650.2,45.4h.01M660.1,45.4h.01M738.9,45.4h.01M748.7,45.4h.01M758.6,45.4h.01M768.4,45.4h.01M778.3,45.4h.01M162.6,50.4h.01M172.5,50.4h.01M182.3,50.4h.01M192.2,50.4h.01M241.4,50.4h.01M251.3,50.4h.01M477.8,50.4h.01M487.7,50.4h.01M497.5,50.4h.01M507.4,50.4h.01M517.2,50.4h.01M527.1,50.4h.01M536.9,50.4h.01M615.7,50.4h.01M625.6,50.4h.01M635.4,50.4h.01M645.3,50.4h.01M655.1,50.4h.01M665.0,50.4h.01M704.4,50.4h.01M714.2,50.4h.01M724.1,50.4h.01M733.9,50.4h.01M743.8,50.4h.01M753.6,50.4h.01M763.5,50.4h.01M773.3,50.4h.01M167.6,55.3h.01M177.4,55.3h.01M187.3,55.3h.01M463.1,55.3h.01M472.9,55.3h.01M482.8,55.3h.01M492.6,55.3h.01M502.5,55.3h.01M512.3,55.3h.01M522.2,55.3h.01M532.0,55.3h.01M541.9,55.3h.01M610.8,55.3h.01M620.7,55.3h.01M630.5,55.3h.01M640.4,55.3h.01M650.2,55.3h.01M660.1,55.3h.01M669.9,55.3h.01M679.8,55.3h.01M689.6,55.3h.01M699.5,55.3h.01M709.3,55.3h.01M719.2,55.3h.01M729.0,55.3h.01M738.9,55.3h.01M748.7,55.3h.01M758.6,55.3h.01M768.4,55.3h.01M778.3,55.3h.01M152.8,60.3h.01M162.6,60.3h.01M172.5,60.3h.01M182.3,60.3h.01M192.2,60.3h.01M468.0,60.3h.01M477.8,60.3h.01M487.7,60.3h.01M497.5,60.3h.01M507.4,60.3h.01M517.2,60.3h.01M527.1,60.3h.01M536.9,60.3h.01M605.9,60.3h.01M615.7,60.3h.01M625.6,60.3h.01M635.4,60.3h.01M645.3,60.3h.01M655.1,60.3h.01M665.0,60.3h.01M674.8,60.3h.01M684.7,60.3h.01M694.5,60.3h.01M704.4,60.3h.01M714.2,60.3h.01M724.1,60.3h.01M733.9,60.3h.01M743.8,60.3h.01M753.6,60.3h.01M763.5,60.3h.01M773.3,60.3h.01M147.9,65.2h.01M157.7,65.2h.01M167.6,65.2h.01M177.4,65.2h.01M187.3,65.2h.01M207.0,65.2h.01M463.1,65.2h.01M472.9,65.2h.01M482.8,65.2h.01M492.6,65.2h.01M512.3,65.2h.01M522.2,65.2h.01M532.0,65.2h.01M610.8,65.2h.01M620.7,65.2h.01M630.5,65.2h.01M640.4,65.2h.01M650.2,65.2h.01M660.1,65.2h.01M669.9,65.2h.01M679.8,65.2h.01M689.6,65.2h.01M699.5,65.2h.01M709.3,65.2h.01M719.2,65.2h.01M729.0,65.2h.01M738.9,65.2h.01M748.7,65.2h.01M758.6,65.2h.01M768.4,65.2h.01M778.3,65.2h.01M152.8,70.2h.01M162.6,70.2h.01M172.5,70.2h.01M182.3,70.2h.01M192.2,70.2h.01M202.0,70.2h.01M517.2,70.2h.01M605.9,70.2h.01M615.7,70.2h.01M625.6,70.2h.01M635.4,70.2h.01M645.3,70.2h.01M655.1,70.2h.01M665.0,70.2h.01M674.8,70.2h.01M684.7,70.2h.01M694.5,70.2h.01M704.4,70.2h.01M714.2,70.2h.01M724.1,70.2h.01M733.9,70.2h.01M743.8,70.2h.01M753.6,70.2h.01M763.5,70.2h.01M773.3,70.2h.01M147.9,75.1h.01M157.7,75.1h.01M167.6,75.1h.01M177.4,75.1h.01M187.3,75.1h.01M197.1,75.1h.01M207.0,75.1h.01M581.3,75.1h.01M610.8,75.1h.01M620.7,75.1h.01M630.5,75.1h.01M640.4,75.1h.01M650.2,75.1h.01M660.1,75.1h.01M669.9,75.1h.01M679.8,75.1h.01M689.6,75.1h.01M699.5,75.1h.01M709.3,75.1h.01M719.2,75.1h.01M729.0,75.1h.01M738.9,75.1h.01M748.7,75.1h.01M758.6,75.1h.01M768.4,75.1h.01M152.8,80.1h.01M162.6,80.1h.01M172.5,80.1h.01M182.3,80.1h.01M192.2,80.1h.01M202.0,80.1h.01M261.1,80.1h.01M576.3,80.1h.01M586.2,80.1h.01M605.9,80.1h.01M615.7,80.1h.01M625.6,80.1h.01M635.4,80.1h.01M645.3,80.1h.01M655.1,80.1h.01M665.0,80.1h.01M674.8,80.1h.01M684.7,80.1h.01M694.5,80.1h.01M704.4,80.1h.01M714.2,80.1h.01M724.1,80.1h.01M733.9,80.1h.01M743.8,80.1h.01M753.6,80.1h.01M763.5,80.1h.01M157.7,85.0h.01M167.6,85.0h.01M177.4,85.0h.01M187.3,85.0h.01M571.4,85.0h.01M581.3,85.0h.01M591.1,85.0h.01M620.7,85.0h.01M630.5,85.0h.01M640.4,85.0h.01M650.2,85.0h.01M660.1,85.0h.01M669.9,85.0h.01M679.8,85.0h.01M689.6,85.0h.01M699.5,85.0h.01M709.3,85.0h.01M719.2,85.0h.01M729.0,85.0h.01M738.9,85.0h.01M748.7,85.0h.01M758.6,85.0h.01M162.6,90.0h.01M172.5,90.0h.01M182.3,90.0h.01M211.9,90.0h.01M221.7,90.0h.01M231.6,90.0h.01M241.4,90.0h.01M251.3,90.0h.01M566.5,90.0h.01M576.3,90.0h.01M586.2,90.0h.01M596.0,90.0h.01M615.7,90.0h.01M625.6,90.0h.01M635.4,90.0h.01M645.3,90.0h.01M655.1,90.0h.01M665.0,90.0h.01M674.8,90.0h.01M684.7,90.0h.01M694.5,90.0h.01M704.4,90.0h.01M714.2,90.0h.01M724.1,90.0h.01M733.9,90.0h.01M743.8,90.0h.01M753.6,90.0h.01M763.5,90.0h.01M167.6,94.9h.01M177.4,94.9h.01M187.3,94.9h.01M216.8,94.9h.01M226.7,94.9h.01M236.5,94.9h.01M246.4,94.9h.01M463.1,94.9h.01M472.9,94.9h.01M482.8,94.9h.01M561.6,94.9h.01M571.4,94.9h.01M581.3,94.9h.01M591.1,94.9h.01M650.2,94.9h.01M660.1,94.9h.01M669.9,94.9h.01M679.8,94.9h.01M689.6,94.9h.01M699.5,94.9h.01M709.3,94.9h.01M719.2,94.9h.01M729.0,94.9h.01M738.9,94.9h.01M748.7,94.9h.01M758.6,94.9h.01M211.9,99.9h.01M221.7,99.9h.01M231.6,99.9h.01M241.4,99.9h.01M251.3,99.9h.01M458.1,99.9h.01M468.0,99.9h.01M477.8,99.9h.01M487.7,99.9h.01M556.6,99.9h.01M566.5,99.9h.01M576.3,99.9h.01M586.2,99.9h.01M645.3,99.9h.01M655.1,99.9h.01M665.0,99.9h.01M674.8,99.9h.01M684.7,99.9h.01M694.5,99.9h.01M704.4,99.9h.01M714.2,99.9h.01M724.1,99.9h.01M733.9,99.9h.01M743.8,99.9h.01M753.6,99.9h.01M763.5,99.9h.01M463.1,104.8h.01M472.9,104.8h.01M482.8,104.8h.01M492.6,104.8h.01M561.6,104.8h.01M571.4,104.8h.01M581.3,104.8h.01M650.2,104.8h.01M660.1,104.8h.01M669.9,104.8h.01M679.8,104.8h.01M689.6,104.8h.01M699.5,104.8h.01M709.3,104.8h.01M719.2,104.8h.01M729.0,104.8h.01M738.9,104.8h.01M748.7,104.8h.01M758.6,104.8h.01M768.4,104.8h.01M192.2,109.8h.01M202.0,109.8h.01M458.1,109.8h.01M468.0,109.8h.01M477.8,109.8h.01M487.7,109.8h.01M497.5,109.8h.01M527.1,109.8h.01M536.9,109.8h.01M546.8,109.8h.01M566.5,109.8h.01M576.3,109.8h.01M586.2,109.8h.01M655.1,109.8h.01M665.0,109.8h.01M674.8,109.8h.01M684.7,109.8h.01M694.5,109.8h.01M704.4,109.8h.01M714.2,109.8h.01M724.1,109.8h.01M733.9,109.8h.01M743.8,109.8h.01M753.6,109.8h.01M763.5,109.8h.01M187.3,114.7h.01M197.1,114.7h.01M207.0,114.7h.01M433.5,114.7h.01M443.4,114.7h.01M463.1,114.7h.01M472.9,114.7h.01M482.8,114.7h.01M492.6,114.7h.01M502.5,114.7h.01M512.3,114.7h.01M522.2,114.7h.01M532.0,114.7h.01M541.9,114.7h.01M571.4,114.7h.01M581.3,114.7h.01M591.1,114.7h.01M669.9,114.7h.01M679.8,114.7h.01M689.6,114.7h.01M699.5,114.7h.01M709.3,114.7h.01M719.2,114.7h.01M729.0,114.7h.01M738.9,114.7h.01M748.7,114.7h.01M758.6,114.7h.01M768.4,114.7h.01M192.2,119.7h.01M202.0,119.7h.01M428.6,119.7h.01M438.4,119.7h.01M448.3,119.7h.01M468.0,119.7h.01M477.8,119.7h.01M487.7,119.7h.01M497.5,119.7h.01M507.4,119.7h.01M517.2,119.7h.01M527.1,119.7h.01M536.9,119.7h.01M546.8,119.7h.01M576.3,119.7h.01M586.2,119.7h.01M596.0,119.7h.01M665.0,119.7h.01M674.8,119.7h.01M684.7,119.7h.01M694.5,119.7h.01M704.4,119.7h.01M714.2,119.7h.01M724.1,119.7h.01M733.9,119.7h.01M743.8,119.7h.01M753.6,119.7h.01M197.1,124.6h.01M207.0,124.6h.01M433.5,124.6h.01M443.4,124.6h.01M472.9,124.6h.01M482.8,124.6h.01M492.6,124.6h.01M502.5,124.6h.01M512.3,124.6h.01M522.2,124.6h.01M532.0,124.6h.01M541.9,124.6h.01M581.3,124.6h.01M591.1,124.6h.01M669.9,124.6h.01M679.8,124.6h.01M709.3,124.6h.01M719.2,124.6h.01M729.0,124.6h.01M738.9,124.6h.01M202.0,129.6h.01M477.8,129.6h.01M487.7,129.6h.01M497.5,129.6h.01M507.4,129.6h.01M517.2,129.6h.01M527.1,129.6h.01M536.9,129.6h.01M546.8,129.6h.01M576.3,129.6h.01M586.2,129.6h.01M596.0,129.6h.01M665.0,129.6h.01M674.8,129.6h.01M433.5,134.5h.01M443.4,134.5h.01M453.2,134.5h.01M482.8,134.5h.01M492.6,134.5h.01M502.5,134.5h.01M512.3,134.5h.01M522.2,134.5h.01M532.0,134.5h.01M541.9,134.5h.01M581.3,134.5h.01M591.1,134.5h.01M669.9,134.5h.01M438.4,139.5h.01M448.3,139.5h.01M487.7,139.5h.01M497.5,139.5h.01M507.4,139.5h.01M517.2,139.5h.01M433.5,144.4h.01M443.4,144.4h.01M453.2,144.4h.01M492.6,144.4h.01M502.5,144.4h.01M438.4,149.4h.01M448.3,149.4h.01M556.6,149.4h.01M566.5,149.4h.01M532.0,154.3h.01M541.9,154.3h.01M551.7,154.3h.01M561.6,154.3h.01M571.4,154.3h.01M280.8,159.3h.01M290.7,159.3h.01M300.5,159.3h.01M517.2,159.3h.01M527.1,159.3h.01M536.9,159.3h.01M546.8,159.3h.01M556.6,159.3h.01M566.5,159.3h.01M576.3,159.3h.01M275.9,164.2h.01M285.8,164.2h.01M295.6,164.2h.01M305.5,164.2h.01M512.3,164.2h.01M522.2,164.2h.01M532.0,164.2h.01M541.9,164.2h.01M551.7,164.2h.01M561.6,164.2h.01M571.4,164.2h.01M271.0,169.2h.01M280.8,169.2h.01M290.7,169.2h.01M300.5,169.2h.01M310.4,169.2h.01M320.2,169.2h.01M507.4,169.2h.01M517.2,169.2h.01M527.1,169.2h.01M536.9,169.2h.01M546.8,169.2h.01M556.6,169.2h.01M566.5,169.2h.01M266.1,174.1h.01M275.9,174.1h.01M285.8,174.1h.01M295.6,174.1h.01M305.5,174.1h.01M315.3,174.1h.01M325.2,174.1h.01M512.3,174.1h.01M522.2,174.1h.01M532.0,174.1h.01M541.9,174.1h.01M551.7,174.1h.01M561.6,174.1h.01M261.1,179.1h.01M271.0,179.1h.01M280.8,179.1h.01M290.7,179.1h.01M300.5,179.1h.01M310.4,179.1h.01M320.2,179.1h.01M330.1,179.1h.01M507.4,179.1h.01M517.2,179.1h.01M527.1,179.1h.01M536.9,179.1h.01M546.8,179.1h.01M556.6,179.1h.01M266.1,184.0h.01M275.9,184.0h.01M285.8,184.0h.01M295.6,184.0h.01M315.3,184.0h.01M325.2,184.0h.01M335.0,184.0h.01M512.3,184.0h.01M522.2,184.0h.01M532.0,184.0h.01M541.9,184.0h.01M551.7,184.0h.01M561.6,184.0h.01M261.1,189.0h.01M271.0,189.0h.01M280.8,189.0h.01M290.7,189.0h.01M300.5,189.0h.01M330.1,189.0h.01M507.4,189.0h.01M517.2,189.0h.01M527.1,189.0h.01M536.9,189.0h.01M546.8,189.0h.01M556.6,189.0h.01M256.2,193.9h.01M266.1,193.9h.01M275.9,193.9h.01M285.8,193.9h.01M295.6,193.9h.01M305.5,193.9h.01M335.0,193.9h.01M512.3,193.9h.01M522.2,193.9h.01M532.0,193.9h.01M541.9,193.9h.01M551.7,193.9h.01M561.6,193.9h.01M261.1,198.9h.01M271.0,198.9h.01M280.8,198.9h.01M290.7,198.9h.01M300.5,198.9h.01M507.4,198.9h.01M517.2,198.9h.01M527.1,198.9h.01M536.9,198.9h.01M546.8,198.9h.01M556.6,198.9h.01M266.1,203.8h.01M275.9,203.8h.01M285.8,203.8h.01M295.6,203.8h.01M305.5,203.8h.01M354.7,203.8h.01M512.3,203.8h.01M522.2,203.8h.01M532.0,203.8h.01M541.9,203.8h.01M551.7,203.8h.01M561.6,203.8h.01M271.0,208.8h.01M280.8,208.8h.01M290.7,208.8h.01M300.5,208.8h.01M310.4,208.8h.01M320.2,208.8h.01M339.9,208.8h.01M349.8,208.8h.01M359.6,208.8h.01M517.2,208.8h.01M527.1,208.8h.01M536.9,208.8h.01M546.8,208.8h.01M556.6,208.8h.01M275.9,213.7h.01M285.8,213.7h.01M295.6,213.7h.01M305.5,213.7h.01M315.3,213.7h.01M325.2,213.7h.01M344.9,213.7h.01M354.7,213.7h.01M532.0,213.7h.01M541.9,213.7h.01M551.7,213.7h.01M561.6,213.7h.01M280.8,218.7h.01M290.7,218.7h.01M300.5,218.7h.01M310.4,218.7h.01M320.2,218.7h.01M339.9,218.7h.01M349.8,218.7h.01M359.6,218.7h.01M536.9,218.7h.01M546.8,218.7h.01M556.6,218.7h.01M802.9,218.7h.01M285.8,223.6h.01M295.6,223.6h.01M305.5,223.6h.01M315.3,223.6h.01M325.2,223.6h.01M344.9,223.6h.01M354.7,223.6h.01M541.9,223.6h.01M551.7,223.6h.01M788.1,223.6h.01M798.0,223.6h.01M290.7,228.6h.01M300.5,228.6h.01M310.4,228.6h.01M320.2,228.6h.01M339.9,228.6h.01M349.8,228.6h.01M359.6,228.6h.01M783.2,228.6h.01M793.0,228.6h.01M802.9,228.6h.01M295.6,233.5h.01M305.5,233.5h.01M315.3,233.5h.01M344.9,233.5h.01M354.7,233.5h.01M502.5,233.5h.01M512.3,233.5h.01M522.2,233.5h.01M788.1,233.5h.01M798.0,233.5h.01M290.7,238.5h.01M300.5,238.5h.01M310.4,238.5h.01M320.2,238.5h.01M507.4,238.5h.01M517.2,238.5h.01M527.1,238.5h.01M783.2,238.5h.01M793.0,238.5h.01M802.9,238.5h.01M822.6,238.5h.01M832.4,238.5h.01M295.6,243.4h.01M305.5,243.4h.01M315.3,243.4h.01M512.3,243.4h.01M522.2,243.4h.01M788.1,243.4h.01M798.0,243.4h.01M817.7,243.4h.01M827.5,243.4h.01M837.4,243.4h.01M290.7,248.4h.01M300.5,248.4h.01M310.4,248.4h.01M320.2,248.4h.01M517.2,248.4h.01M527.1,248.4h.01M822.6,248.4h.01M832.4,248.4h.01M842.3,248.4h.01M295.6,253.3h.01M305.5,253.3h.01M315.3,253.3h.01M325.2,253.3h.01M512.3,253.3h.01M522.2,253.3h.01M798.0,253.3h.01M827.5,253.3h.01M837.4,253.3h.01M847.2,253.3h.01M290.7,258.3h.01M300.5,258.3h.01M310.4,258.3h.01M320.2,258.3h.01M330.1,258.3h.01M517.2,258.3h.01M527.1,258.3h.01M802.9,258.3h.01M832.4,258.3h.01M842.3,258.3h.01M285.8,263.2h.01M295.6,263.2h.01M305.5,263.2h.01M315.3,263.2h.01M325.2,263.2h.01M837.4,263.2h.01M290.7,268.2h.01M300.5,268.2h.01M310.4,268.2h.01M320.2,268.2h.01M285.8,273.1h.01M295.6,273.1h.01M305.5,273.1h.01M315.3,273.1h.01M280.8,278.1h.01M290.7,278.1h.01M300.5,278.1h.01M310.4,278.1h.01M275.9,283.0h.01M285.8,283.0h.01M295.6,283.0h.01M280.8,288.0h.01M290.7,288.0h.01M275.9,292.9h.01M285.8,292.9h.01M280.8,297.9h.01" fill="none" stroke="#111" stroke-width="3.4" stroke-linecap="round"/>
</g>
<use href="#landp" fill="none" stroke="#111" stroke-width="1.25" stroke-linejoin="round"/>
<use href="#waterp" fill="#fff" stroke="#111" stroke-width="1.25" stroke-linejoin="round"/>
<use href="#lakes" fill="#111" fill-opacity="0.45" stroke="#111" stroke-width="1.3" stroke-linejoin="round" stroke-linecap="round"/>
<use href="#lakes2" fill="none" stroke="#111" stroke-width="1.3" stroke-linejoin="round" stroke-linecap="round"/>
</g>
<rect x="0" y="0" width="926.64" height="334.62" fill="none" stroke="#111" stroke-width="1.4"/>
<path d="M-11.8,25.74H0M-11.8,102.96H0M-11.8,180.18H0M-11.8,257.40H0M-11.8,334.62H0M0.00,334.62v12M154.44,334.62v12M308.88,334.62v12M463.32,334.62v12M617.76,334.62v12M772.20,334.62v12M926.64,334.62v12" stroke="#111" stroke-width="1.4" fill="none"/>
</g>
<text x="0.7" y="61.1" font-size="26.8" textLength="72.5" lengthAdjust="spacingAndGlyphs">60° N</text>
<text x="1.2" y="138.4" font-size="26.8" textLength="72" lengthAdjust="spacingAndGlyphs">30° N</text>
<text x="45.3" y="215.6" font-size="26.8" textLength="29.5" lengthAdjust="spacingAndGlyphs">0°</text>
<text x="3.2" y="292.8" font-size="26.8" textLength="71" lengthAdjust="spacingAndGlyphs">30° S</text>
<text x="3.2" y="370.0" font-size="26.8" textLength="71" lengthAdjust="spacingAndGlyphs">60° S</text>
<text x="67.1" y="405.7" font-size="26.8" textLength="59" lengthAdjust="spacingAndGlyphs">180°</text>
<text x="207.0" y="405.7" font-size="26.8" textLength="88" lengthAdjust="spacingAndGlyphs">120° W</text>
<text x="366.2" y="405.7" font-size="26.8" textLength="78.5" lengthAdjust="spacingAndGlyphs">60° W</text>
<text x="545.2" y="405.7" font-size="26.8" textLength="29.5" lengthAdjust="spacingAndGlyphs">0°</text>
<text x="679.6" y="405.7" font-size="26.8" textLength="69.5" lengthAdjust="spacingAndGlyphs">60° E</text>
<text x="828.5" y="405.7" font-size="26.8" textLength="80.5" lengthAdjust="spacingAndGlyphs">120° E</text>
<text x="993.7" y="405.7" font-size="26.8" textLength="59" lengthAdjust="spacingAndGlyphs">180°</text>
<text x="0.2" y="21" font-size="38" font-weight="bold" fill="#000" stroke="#000" stroke-width="1.2">a</text>
<rect x="122.20" y="488.7" width="43.75" height="27.9" fill="#254e9a"/>
<rect x="165.95" y="488.7" width="43.75" height="27.9" fill="#2b62af"/>
<rect x="209.70" y="488.7" width="43.75" height="27.9" fill="#3a7bbf"/>
<rect x="253.45" y="488.7" width="43.75" height="27.9" fill="#4c94cf"/>
<rect x="297.20" y="488.7" width="43.75" height="27.9" fill="#62a9db"/>
<rect x="340.95" y="488.7" width="43.75" height="27.9" fill="#7abde6"/>
<rect x="384.70" y="488.7" width="43.75" height="27.9" fill="#93d0f1"/>
<rect x="428.45" y="488.7" width="43.75" height="27.9" fill="#a8dbf5"/>
<rect x="472.20" y="488.7" width="43.75" height="27.9" fill="#bee5f7"/>
<rect x="515.95" y="488.7" width="43.75" height="27.9" fill="#d2edf8"/>
<rect x="559.70" y="488.7" width="43.75" height="27.9" fill="#fef2c0"/>
<rect x="603.45" y="488.7" width="43.75" height="27.9" fill="#fce79a"/>
<rect x="647.20" y="488.7" width="43.75" height="27.9" fill="#fdd57b"/>
<rect x="690.95" y="488.7" width="43.75" height="27.9" fill="#fdc05a"/>
<rect x="734.70" y="488.7" width="43.75" height="27.9" fill="#fdab3b"/>
<rect x="778.45" y="488.7" width="43.75" height="27.9" fill="#fb9634"/>
<rect x="822.20" y="488.7" width="43.75" height="27.9" fill="#f77f30"/>
<rect x="865.95" y="488.7" width="43.75" height="27.9" fill="#f0672c"/>
<rect x="909.70" y="488.7" width="43.75" height="27.9" fill="#e54f2a"/>
<rect x="953.45" y="488.7" width="43.75" height="27.9" fill="#d8302a"/>
<path d="M165.95,488.7v27.9M209.70,488.7v27.9M253.45,488.7v27.9M297.20,488.7v27.9M340.95,488.7v27.9M384.70,488.7v27.9M428.45,488.7v27.9M472.20,488.7v27.9M515.95,488.7v27.9M559.70,488.7v27.9M603.45,488.7v27.9M647.20,488.7v27.9M690.95,488.7v27.9M734.70,488.7v27.9M778.45,488.7v27.9M822.20,488.7v27.9M865.95,488.7v27.9M909.70,488.7v27.9M953.45,488.7v27.9" stroke="#111" stroke-width="1.1" fill="none"/>
<rect x="122.2" y="488.7" width="875.0" height="27.9" fill="none" stroke="#111" stroke-width="1.4"/>
<text x="173.7" y="549.8" font-size="26.8" textLength="72" lengthAdjust="spacingAndGlyphs">−0.08</text>
<text x="261.2" y="549.8" font-size="26.8" textLength="72" lengthAdjust="spacingAndGlyphs">−0.06</text>
<text x="348.4" y="549.8" font-size="26.8" textLength="72.5" lengthAdjust="spacingAndGlyphs">−0.04</text>
<text x="436.2" y="549.8" font-size="26.8" textLength="72" lengthAdjust="spacingAndGlyphs">−0.02</text>
<text x="551.0" y="549.8" font-size="26.8" textLength="17.5" lengthAdjust="spacingAndGlyphs">0</text>
<text x="618.2" y="549.8" font-size="26.8" textLength="58" lengthAdjust="spacingAndGlyphs">0.02</text>
<text x="705.5" y="549.8" font-size="26.8" textLength="58.5" lengthAdjust="spacingAndGlyphs">0.04</text>
<text x="793.2" y="549.8" font-size="26.8" textLength="58" lengthAdjust="spacingAndGlyphs">0.06</text>
<text x="880.7" y="549.8" font-size="26.8" textLength="58" lengthAdjust="spacingAndGlyphs">0.08</text>
<text x="398" y="472.8" font-size="26.8" textLength="340" lengthAdjust="spacingAndGlyphs">Amplitude (°C per decade)</text>
<g transform="translate(97.75,612.25)">
<g clip-path="url(#box)">
<g clip-path="url(#land)">
<g filter="url(#cm)">
<rect x="-30" y="-30" width="987" height="395" fill="rgb(106,106,106)"/>
<path fill="rgb(159,159,159)" d="M418.2,115.2 L440.8,96.5 L460.8,90.8 L488.2,91.5 L508.2,102.8 L548.2,105.2 L558.2,117.8 L573.2,145.2 L588.2,157.8 L578.2,167.8 L563.2,160.2 L543.2,147.8 L513.2,147.8 L503.2,160.2 L485.8,167.8 L458.2,162.8 L440.8,167.8 L423.2,147.8Z"/>
<ellipse cx="55.8" cy="5.2" rx="10.0" ry="3.8" fill="rgb(153,153,153)"/>
<ellipse cx="93.2" cy="11.5" rx="10.0" ry="7.5" fill="rgb(159,159,159)"/>
<ellipse cx="143.2" cy="15.2" rx="7.5" ry="10.0" fill="rgb(159,159,159)"/>
<ellipse cx="147.0" cy="21.5" rx="3.0" ry="2.5" fill="rgb(185,185,185)"/>
<ellipse cx="188.2" cy="10.2" rx="15.0" ry="5.0" fill="rgb(153,153,153)"/>
<ellipse cx="215.8" cy="21.5" rx="6.2" ry="6.2" fill="rgb(153,153,153)"/>
<ellipse cx="183.2" cy="35.2" rx="62.5" ry="20.0" fill="rgb(76,76,76)"/>
<ellipse cx="138.2" cy="32.8" rx="15.0" ry="10.0" fill="rgb(70,70,70)"/>
<ellipse cx="213.2" cy="52.8" rx="17.5" ry="10.0" fill="rgb(38,38,38)"/>
<ellipse cx="245.8" cy="55.2" rx="25.0" ry="8.8" fill="rgb(45,45,45)"/>
<ellipse cx="283.2" cy="40.2" rx="12.5" ry="7.5" fill="rgb(51,51,51)"/>
<ellipse cx="168.2" cy="77.8" rx="25.0" ry="18.8" fill="rgb(185,185,185)"/>
<ellipse cx="152.0" cy="71.5" rx="6.2" ry="7.5" fill="rgb(236,236,236)"/>
<ellipse cx="173.2" cy="84.0" rx="7.5" ry="5.0" fill="rgb(204,204,204)"/>
<ellipse cx="208.2" cy="87.8" rx="10.0" ry="12.5" fill="rgb(159,159,159)"/>
<ellipse cx="205.8" cy="77.8" rx="5.0" ry="6.2" fill="rgb(198,198,198)"/>
<ellipse cx="203.2" cy="122.8" rx="10.0" ry="10.0" fill="rgb(76,76,76)"/>
<ellipse cx="193.2" cy="110.2" rx="10.0" ry="10.0" fill="rgb(45,45,45)"/>
<ellipse cx="205.8" cy="112.8" rx="5.0" ry="3.0" fill="rgb(153,153,153)"/>
<ellipse cx="258.2" cy="77.8" rx="7.5" ry="5.0" fill="rgb(147,147,147)"/>
<ellipse cx="268.2" cy="26.5" rx="5.0" ry="3.8" fill="rgb(153,153,153)"/>
<ellipse cx="230.8" cy="139.0" rx="3.5" ry="2.0" fill="rgb(217,217,217)"/>
<ellipse cx="298.2" cy="202.8" rx="27.5" ry="35.0" fill="rgb(185,185,185)"/>
<ellipse cx="290.8" cy="176.5" rx="8.8" ry="11.2" fill="rgb(236,236,236)"/>
<ellipse cx="295.8" cy="207.8" rx="20.0" ry="13.8" fill="rgb(242,242,242)" transform="rotate(35 295.8 207.8)"/>
<ellipse cx="308.2" cy="225.2" rx="12.5" ry="11.2" fill="rgb(242,242,242)"/>
<ellipse cx="318.2" cy="185.2" rx="15.0" ry="6.2" fill="rgb(172,172,172)"/>
<ellipse cx="339.5" cy="197.8" rx="6.2" ry="7.5" fill="rgb(185,185,185)"/>
<ellipse cx="318.2" cy="200.2" rx="12.5" ry="6.2" fill="rgb(108,108,108)"/>
<ellipse cx="260.8" cy="190.2" rx="7.5" ry="10.0" fill="rgb(38,38,38)"/>
<ellipse cx="269.5" cy="167.8" rx="6.2" ry="6.2" fill="rgb(64,64,64)"/>
<ellipse cx="313.2" cy="167.8" rx="7.5" ry="3.8" fill="rgb(45,45,45)"/>
<ellipse cx="348.2" cy="215.2" rx="12.5" ry="10.0" fill="rgb(76,76,76)"/>
<ellipse cx="358.2" cy="200.2" rx="10.0" ry="7.5" fill="rgb(38,38,38)"/>
<ellipse cx="350.8" cy="230.2" rx="10.0" ry="6.2" fill="rgb(178,178,178)"/>
<ellipse cx="313.2" cy="250.2" rx="17.5" ry="12.5" fill="rgb(83,83,83)"/>
<ellipse cx="310.8" cy="270.2" rx="10.0" ry="7.5" fill="rgb(45,45,45)"/>
<ellipse cx="288.2" cy="262.8" rx="11.2" ry="30.0" fill="rgb(19,19,19)"/>
<ellipse cx="280.8" cy="297.8" rx="10.0" ry="22.5" fill="rgb(19,19,19)"/>
<ellipse cx="558.2" cy="25.2" rx="30.0" ry="12.5" fill="rgb(76,76,76)"/>
<ellipse cx="640.8" cy="20.2" rx="30.0" ry="15.0" fill="rgb(83,83,83)"/>
<ellipse cx="663.2" cy="12.8" rx="5.0" ry="10.0" fill="rgb(51,51,51)"/>
<ellipse cx="553.2" cy="42.8" rx="25.0" ry="7.5" fill="rgb(153,153,153)"/>
<ellipse cx="473.2" cy="57.8" rx="12.5" ry="6.2" fill="rgb(147,147,147)"/>
<ellipse cx="513.2" cy="55.2" rx="32.5" ry="12.5" fill="rgb(185,185,185)"/>
<ellipse cx="517.0" cy="64.0" rx="6.2" ry="5.0" fill="rgb(210,210,210)"/>
<ellipse cx="448.2" cy="75.2" rx="10.0" ry="7.5" fill="rgb(191,191,191)"/>
<ellipse cx="448.2" cy="75.2" rx="6.2" ry="6.2" fill="rgb(230,230,230)"/>
<ellipse cx="457.0" cy="42.8" rx="2.5" ry="3.0" fill="rgb(191,191,191)"/>
<ellipse cx="485.8" cy="22.8" rx="5.0" ry="3.0" fill="rgb(159,159,159)"/>
<ellipse cx="550.8" cy="77.8" rx="3.0" ry="2.5" fill="rgb(178,178,178)"/>
<ellipse cx="628.2" cy="50.2" rx="50.0" ry="10.0" fill="rgb(153,153,153)"/>
<ellipse cx="628.2" cy="70.2" rx="45.0" ry="15.0" fill="rgb(182,182,182)"/>
<ellipse cx="583.2" cy="82.8" rx="10.0" ry="12.5" fill="rgb(198,198,198)"/>
<ellipse cx="620.8" cy="102.8" rx="22.5" ry="8.8" fill="rgb(64,64,64)"/>
<ellipse cx="658.2" cy="100.2" rx="10.0" ry="10.0" fill="rgb(45,45,45)"/>
<ellipse cx="600.8" cy="122.8" rx="10.0" ry="10.0" fill="rgb(89,89,89)"/>
<ellipse cx="578.2" cy="112.8" rx="20.0" ry="25.0" fill="rgb(191,191,191)" transform="rotate(-20 578.2 112.8)"/>
<ellipse cx="570.8" cy="102.8" rx="11.2" ry="8.8" fill="rgb(236,236,236)"/>
<ellipse cx="580.8" cy="115.2" rx="8.8" ry="10.0" fill="rgb(236,236,236)"/>
<ellipse cx="588.2" cy="130.2" rx="6.2" ry="7.5" fill="rgb(217,217,217)"/>
<ellipse cx="658.2" cy="127.8" rx="10.0" ry="15.0" fill="rgb(204,204,204)"/>
<ellipse cx="475.8" cy="107.8" rx="17.5" ry="15.0" fill="rgb(198,198,198)"/>
<ellipse cx="470.8" cy="96.5" rx="11.2" ry="7.5" fill="rgb(236,236,236)"/>
<ellipse cx="533.2" cy="112.8" rx="12.5" ry="10.0" fill="rgb(185,185,185)"/>
<ellipse cx="520.8" cy="127.8" rx="37.5" ry="13.8" fill="rgb(198,198,198)"/>
<ellipse cx="513.2" cy="134.0" rx="15.0" ry="5.0" fill="rgb(217,217,217)"/>
<ellipse cx="508.2" cy="107.8" rx="12.5" ry="7.5" fill="rgb(102,102,102)"/>
<ellipse cx="438.2" cy="120.2" rx="13.8" ry="8.8" fill="rgb(26,26,26)"/>
<ellipse cx="465.8" cy="137.8" rx="15.0" ry="15.0" fill="rgb(153,153,153)"/>
<ellipse cx="440.8" cy="144.0" rx="11.2" ry="7.5" fill="rgb(217,217,217)"/>
<ellipse cx="488.2" cy="157.8" rx="12.5" ry="10.0" fill="rgb(198,198,198)"/>
<ellipse cx="575.8" cy="160.2" rx="12.5" ry="6.2" fill="rgb(191,191,191)"/>
<ellipse cx="563.2" cy="150.2" rx="6.2" ry="6.2" fill="rgb(223,223,223)"/>
<ellipse cx="535.8" cy="177.8" rx="27.5" ry="30.0" fill="rgb(70,70,70)"/>
<ellipse cx="543.2" cy="165.2" rx="15.0" ry="17.5" fill="rgb(19,19,19)"/>
<ellipse cx="533.2" cy="192.8" rx="12.5" ry="15.0" fill="rgb(38,38,38)"/>
<ellipse cx="505.8" cy="192.8" rx="7.5" ry="12.5" fill="rgb(153,153,153)"/>
<ellipse cx="513.2" cy="170.2" rx="3.8" ry="2.5" fill="rgb(153,153,153)"/>
<ellipse cx="503.2" cy="177.8" rx="7.5" ry="6.2" fill="rgb(76,76,76)"/>
<ellipse cx="553.2" cy="197.8" rx="5.0" ry="6.2" fill="rgb(159,159,159)"/>
<ellipse cx="528.2" cy="207.8" rx="30.0" ry="50.0" fill="rgb(83,83,83)"/>
<ellipse cx="543.2" cy="165.2" rx="12.5" ry="15.0" fill="rgb(19,19,19)"/>
<ellipse cx="530.8" cy="195.2" rx="12.5" ry="15.0" fill="rgb(45,45,45)"/>
<ellipse cx="503.2" cy="192.8" rx="7.5" ry="7.5" fill="rgb(153,153,153)"/>
<ellipse cx="512.0" cy="171.5" rx="3.8" ry="3.8" fill="rgb(147,147,147)"/>
<ellipse cx="552.0" cy="199.0" rx="3.0" ry="3.8" fill="rgb(159,159,159)"/>
<ellipse cx="533.2" cy="227.8" rx="12.5" ry="7.5" fill="rgb(96,96,96)"/>
<ellipse cx="525.8" cy="245.2" rx="15.0" ry="8.8" fill="rgb(26,26,26)"/>
<ellipse cx="520.8" cy="261.5" rx="11.2" ry="3.8" fill="rgb(230,230,230)"/>
<ellipse cx="509.5" cy="254.0" rx="3.8" ry="5.0" fill="rgb(191,191,191)"/>
<ellipse cx="568.2" cy="159.0" rx="10.0" ry="5.0" fill="rgb(204,204,204)"/>
<ellipse cx="584.5" cy="224.0" rx="3.8" ry="6.2" fill="rgb(38,38,38)"/>
<ellipse cx="582.0" cy="237.8" rx="2.0" ry="2.0" fill="rgb(178,178,178)"/>
<ellipse cx="703.2" cy="20.2" rx="105.0" ry="22.5" fill="rgb(83,83,83)"/>
<ellipse cx="690.8" cy="12.8" rx="20.0" ry="10.0" fill="rgb(51,51,51)"/>
<ellipse cx="715.8" cy="22.8" rx="12.5" ry="10.0" fill="rgb(57,57,57)"/>
<ellipse cx="660.8" cy="30.2" rx="15.0" ry="7.5" fill="rgb(64,64,64)"/>
<ellipse cx="815.8" cy="22.8" rx="37.5" ry="20.0" fill="rgb(102,102,102)"/>
<ellipse cx="793.2" cy="30.2" rx="15.0" ry="7.5" fill="rgb(147,147,147)"/>
<ellipse cx="818.2" cy="50.2" rx="7.5" ry="7.5" fill="rgb(147,147,147)"/>
<ellipse cx="640.8" cy="50.2" rx="42.5" ry="10.0" fill="rgb(153,153,153)"/>
<ellipse cx="640.8" cy="70.2" rx="45.0" ry="17.5" fill="rgb(182,182,182)"/>
<ellipse cx="653.2" cy="70.2" rx="12.5" ry="7.5" fill="rgb(198,198,198)"/>
<ellipse cx="725.8" cy="67.8" rx="37.5" ry="20.0" fill="rgb(182,182,182)"/>
<ellipse cx="733.2" cy="102.8" rx="37.5" ry="22.5" fill="rgb(182,182,182)"/>
<ellipse cx="728.2" cy="60.2" rx="7.5" ry="7.5" fill="rgb(210,210,210)"/>
<ellipse cx="733.2" cy="105.2" rx="10.0" ry="12.5" fill="rgb(217,217,217)"/>
<ellipse cx="708.2" cy="75.2" rx="12.5" ry="6.2" fill="rgb(159,159,159)"/>
<ellipse cx="628.2" cy="97.8" rx="27.5" ry="15.0" fill="rgb(70,70,70)"/>
<ellipse cx="653.2" cy="107.8" rx="12.5" ry="6.2" fill="rgb(45,45,45)"/>
<ellipse cx="668.2" cy="97.8" rx="20.0" ry="11.2" fill="rgb(19,19,19)" transform="rotate(-35 668.2 97.8)"/>
<ellipse cx="668.2" cy="125.2" rx="15.0" ry="8.8" fill="rgb(198,198,198)"/>
<ellipse cx="663.2" cy="145.2" rx="6.2" ry="10.0" fill="rgb(153,153,153)"/>
<ellipse cx="660.8" cy="150.2" rx="3.8" ry="3.8" fill="rgb(89,89,89)"/>
<ellipse cx="713.2" cy="132.8" rx="10.0" ry="7.5" fill="rgb(102,102,102)"/>
<ellipse cx="730.8" cy="137.8" rx="10.0" ry="10.0" fill="rgb(153,153,153)"/>
<ellipse cx="795.8" cy="47.8" rx="15.0" ry="12.5" fill="rgb(147,147,147)"/>
<ellipse cx="783.2" cy="57.8" rx="12.5" ry="10.0" fill="rgb(108,108,108)"/>
<ellipse cx="758.2" cy="176.5" rx="10.0" ry="8.8" fill="rgb(191,191,191)"/>
<ellipse cx="758.2" cy="176.5" rx="7.5" ry="6.2" fill="rgb(236,236,236)"/>
<ellipse cx="723.2" cy="177.8" rx="3.0" ry="5.0" fill="rgb(191,191,191)"/>
<ellipse cx="825.8" cy="195.2" rx="11.2" ry="4.5" fill="rgb(185,185,185)"/>
<ellipse cx="825.8" cy="195.2" rx="7.5" ry="3.0" fill="rgb(236,236,236)"/>
<ellipse cx="805.8" cy="245.2" rx="52.5" ry="32.5" fill="rgb(166,166,166)"/>
<ellipse cx="783.2" cy="240.2" rx="12.5" ry="10.0" fill="rgb(191,191,191)"/>
<ellipse cx="830.8" cy="255.2" rx="15.0" ry="12.5" fill="rgb(178,178,178)"/>
<ellipse cx="833.2" cy="225.2" rx="7.5" ry="7.5" fill="rgb(147,147,147)"/>
<ellipse cx="818.2" cy="229.0" rx="10.0" ry="6.2" fill="rgb(115,115,115)"/>
<ellipse cx="840.8" cy="242.8" rx="3.8" ry="7.5" fill="rgb(115,115,115)"/>
<path fill="rgb(163,163,163)" d="M278.2,167.8 L290.8,160.2 L303.2,165.2 L307.0,180.2 L320.8,179.0 L328.2,185.2 L323.2,192.8 L308.2,195.2 L320.8,205.2 L328.2,217.8 L328.2,232.8 L318.2,241.5 L303.2,242.8 L293.2,237.8 L288.2,225.2 L279.5,219.0 L276.2,206.5 L279.5,194.0 L282.0,181.5Z"/>
<path fill="rgb(198,198,198)" d="M282.3,169.9 L281.0,177.4 L281.0,177.9 L281.1,178.5 L283.4,185.3 L281.2,192.8 L275.4,198.7 L275.1,199.0 L274.9,199.3 L274.8,199.7 L274.8,200.1 L274.8,200.5 L276.0,210.5 L276.1,211.0 L276.3,211.5 L276.7,211.8 L284.2,219.3 L284.5,219.6 L284.8,219.8 L285.2,219.9 L293.2,221.9 L292.3,227.4 L292.3,227.8 L292.3,228.3 L292.5,228.8 L296.2,236.3 L296.5,236.6 L296.8,236.9 L297.1,237.2 L297.5,237.4 L305.0,239.9 L305.5,240.0 L305.9,240.0 L306.3,239.9 L316.3,237.4 L316.7,237.3 L317.0,237.1 L317.3,236.8 L324.8,229.3 L325.1,229.0 L325.3,228.6 L325.5,228.1 L325.5,227.7 L325.4,227.2 L322.9,217.2 L322.8,216.8 L322.6,216.4 L315.1,206.4 L314.6,206.0 L304.6,198.5 L304.4,198.3 L297.8,194.6 L300.1,191.6 L300.4,191.0 L304.1,181.0 L304.2,180.6 L304.2,180.2 L304.2,179.8 L301.7,168.5 L301.6,168.1 L301.4,167.7 L301.1,167.4 L300.8,167.1 L300.4,166.9 L291.6,163.2 L291.2,163.0 L290.7,163.0 L290.2,163.1 L289.8,163.2 L289.3,163.5 L283.1,168.5 L282.8,168.8 L282.6,169.1 L282.4,169.5Z"/>
<path fill="rgb(254,254,254)" d="M284.5,170.2 L290.8,165.2 L299.5,169.0 L302.0,180.2 L298.2,190.2 L294.5,195.2 L303.2,200.2 L313.2,207.8 L320.8,217.8 L323.2,227.8 L315.8,235.2 L305.8,237.8 L298.2,235.2 L294.5,227.8 L295.8,220.2 L285.8,217.8 L278.2,210.2 L277.0,200.2 L283.2,194.0 L285.8,185.2 L283.2,177.8Z"/>
<ellipse cx="320.8" cy="186.5" rx="11.2" ry="4.5" fill="rgb(178,178,178)"/>
<ellipse cx="339.5" cy="197.8" rx="5.5" ry="7.0" fill="rgb(185,185,185)"/>
<path fill="rgb(64,64,64)" d="M303.2,242.8 L323.2,240.2 L335.8,247.8 L328.2,262.8 L318.2,272.8 L313.2,262.8 L303.2,257.8Z"/>
<path fill="rgb(15,15,15)" d="M285.8,227.8 L293.2,232.8 L295.8,240.2 L303.2,245.2 L303.2,257.8 L313.2,262.8 L315.8,272.8 L308.2,277.8 L298.2,282.8 L293.2,297.8 L288.2,312.8 L283.2,322.8 L273.2,320.2 L269.5,302.8 L273.2,285.2 L278.2,272.8 L280.8,252.8 L283.2,237.8Z"/>
<path fill="rgb(236,236,236)" d="M147.0,65.2 L155.8,63.2 L159.5,70.2 L157.0,79.0 L150.8,81.5 L146.2,75.2Z"/>
<path fill="rgb(23,23,23)" d="M533.2,152.8 L545.8,147.8 L555.8,157.8 L558.2,172.8 L550.8,182.8 L543.2,187.8 L540.8,202.8 L533.2,212.8 L523.2,212.8 L520.8,197.8 L525.8,182.8 L528.2,167.8Z"/>
<path fill="rgb(70,70,70)" d="M600.8,92.8 L628.2,95.2 L653.2,92.8 L667.2,95.2 L667.2,110.2 L648.2,112.8 L623.2,110.2 L603.2,107.8Z"/>
<path fill="rgb(19,19,19)" d="M648.2,105.2 L660.8,97.8 L673.2,85.2 L683.2,77.8 L689.5,82.8 L685.8,95.2 L678.2,105.2 L665.8,110.2 L653.2,112.8 L645.8,110.2Z"/>
<path fill="rgb(185,185,185)" d="M670.8,57.8 L698.2,52.8 L703.2,70.2 L690.8,79.0 L678.2,77.2 L670.8,70.2Z"/>
<ellipse cx="505.8" cy="107.8" rx="16.2" ry="8.8" fill="rgb(108,108,108)"/>
<ellipse cx="205.8" cy="78.2" rx="5.5" ry="7.0" fill="rgb(210,210,210)"/>
<ellipse cx="350.2" cy="12.8" rx="26.0" ry="16.0" fill="rgb(64,64,64)"/>
<ellipse cx="898.2" cy="12.8" rx="32.0" ry="10.0" fill="rgb(76,76,76)"/>
</g>
<g fill="#fff" filter="url(#wb)">
<ellipse cx="487.0" cy="16.5" rx="8.8" ry="3.5" transform="rotate(-30 487.0 16.5)"/>
<ellipse cx="503.2" cy="19.0" rx="4.5" ry="8.8"/>
<ellipse cx="512.0" cy="31.5" rx="5.5" ry="8.8"/>
<ellipse cx="543.2" cy="12.8" rx="7.5" ry="2.5"/>
<ellipse cx="869.4" cy="32.8" rx="7.0" ry="13.0" transform="rotate(25 869.4 32.8)"/>
<ellipse cx="871.4" cy="47.8" rx="4.0" ry="8.0" transform="rotate(10 871.4 47.8)"/>
</g>
<path d="M88.8,5.8h.01M98.6,5.8h.01M335.0,5.8h.01M344.9,5.8h.01M354.7,5.8h.01M364.6,5.8h.01M512.3,5.8h.01M522.2,5.8h.01M532.0,5.8h.01M541.9,5.8h.01M610.8,5.8h.01M620.7,5.8h.01M630.5,5.8h.01M640.4,5.8h.01M650.2,5.8h.01M660.1,5.8h.01M669.9,5.8h.01M679.8,5.8h.01M689.6,5.8h.01M699.5,5.8h.01M709.3,5.8h.01M719.2,5.8h.01M729.0,5.8h.01M738.9,5.8h.01M748.7,5.8h.01M758.6,5.8h.01M768.4,5.8h.01M847.2,5.8h.01M857.1,5.8h.01M866.9,5.8h.01M876.8,5.8h.01M886.6,5.8h.01M896.5,5.8h.01M906.3,5.8h.01M916.2,5.8h.01M93.7,10.8h.01M103.5,10.8h.01M113.4,10.8h.01M221.7,10.8h.01M231.6,10.8h.01M339.9,10.8h.01M349.8,10.8h.01M359.6,10.8h.01M517.2,10.8h.01M536.9,10.8h.01M546.8,10.8h.01M605.9,10.8h.01M615.7,10.8h.01M625.6,10.8h.01M635.4,10.8h.01M645.3,10.8h.01M655.1,10.8h.01M665.0,10.8h.01M674.8,10.8h.01M684.7,10.8h.01M694.5,10.8h.01M704.4,10.8h.01M714.2,10.8h.01M724.1,10.8h.01M733.9,10.8h.01M743.8,10.8h.01M753.6,10.8h.01M763.5,10.8h.01M773.3,10.8h.01M812.7,10.8h.01M822.6,10.8h.01M852.1,10.8h.01M862.0,10.8h.01M871.8,10.8h.01M881.7,10.8h.01M891.5,10.8h.01M901.4,10.8h.01M911.2,10.8h.01M921.1,10.8h.01M108.5,15.7h.01M118.3,15.7h.01M177.4,15.7h.01M335.0,15.7h.01M344.9,15.7h.01M354.7,15.7h.01M532.0,15.7h.01M541.9,15.7h.01M610.8,15.7h.01M620.7,15.7h.01M630.5,15.7h.01M640.4,15.7h.01M650.2,15.7h.01M660.1,15.7h.01M669.9,15.7h.01M679.8,15.7h.01M689.6,15.7h.01M699.5,15.7h.01M709.3,15.7h.01M719.2,15.7h.01M729.0,15.7h.01M738.9,15.7h.01M748.7,15.7h.01M758.6,15.7h.01M768.4,15.7h.01M807.8,15.7h.01M817.7,15.7h.01M827.5,15.7h.01M876.8,15.7h.01M886.6,15.7h.01M896.5,15.7h.01M906.3,15.7h.01M916.2,15.7h.01M64.1,20.7h.01M74.0,20.7h.01M113.4,20.7h.01M162.6,20.7h.01M172.5,20.7h.01M182.3,20.7h.01M192.2,20.7h.01M349.8,20.7h.01M527.1,20.7h.01M536.9,20.7h.01M546.8,20.7h.01M605.9,20.7h.01M615.7,20.7h.01M625.6,20.7h.01M635.4,20.7h.01M645.3,20.7h.01M655.1,20.7h.01M665.0,20.7h.01M674.8,20.7h.01M684.7,20.7h.01M694.5,20.7h.01M704.4,20.7h.01M714.2,20.7h.01M724.1,20.7h.01M733.9,20.7h.01M743.8,20.7h.01M753.6,20.7h.01M763.5,20.7h.01M812.7,20.7h.01M822.6,20.7h.01M891.5,20.7h.01M901.4,20.7h.01M128.2,25.6h.01M138.0,25.6h.01M147.9,25.6h.01M157.7,25.6h.01M167.6,25.6h.01M177.4,25.6h.01M187.3,25.6h.01M197.1,25.6h.01M541.9,25.6h.01M551.7,25.6h.01M561.6,25.6h.01M571.4,25.6h.01M581.3,25.6h.01M591.1,25.6h.01M610.8,25.6h.01M620.7,25.6h.01M630.5,25.6h.01M640.4,25.6h.01M650.2,25.6h.01M660.1,25.6h.01M669.9,25.6h.01M679.8,25.6h.01M689.6,25.6h.01M699.5,25.6h.01M709.3,25.6h.01M719.2,25.6h.01M729.0,25.6h.01M738.9,25.6h.01M748.7,25.6h.01M758.6,25.6h.01M133.1,30.6h.01M142.9,30.6h.01M152.8,30.6h.01M162.6,30.6h.01M172.5,30.6h.01M182.3,30.6h.01M192.2,30.6h.01M202.0,30.6h.01M536.9,30.6h.01M546.8,30.6h.01M556.6,30.6h.01M566.5,30.6h.01M576.3,30.6h.01M586.2,30.6h.01M605.9,30.6h.01M615.7,30.6h.01M625.6,30.6h.01M635.4,30.6h.01M645.3,30.6h.01M655.1,30.6h.01M665.0,30.6h.01M674.8,30.6h.01M684.7,30.6h.01M694.5,30.6h.01M704.4,30.6h.01M714.2,30.6h.01M724.1,30.6h.01M733.9,30.6h.01M743.8,30.6h.01M753.6,30.6h.01M128.2,35.5h.01M138.0,35.5h.01M147.9,35.5h.01M157.7,35.5h.01M167.6,35.5h.01M177.4,35.5h.01M187.3,35.5h.01M197.1,35.5h.01M207.0,35.5h.01M216.8,35.5h.01M226.7,35.5h.01M275.9,35.5h.01M285.8,35.5h.01M295.6,35.5h.01M541.9,35.5h.01M551.7,35.5h.01M561.6,35.5h.01M571.4,35.5h.01M581.3,35.5h.01M591.1,35.5h.01M650.2,35.5h.01M660.1,35.5h.01M669.9,35.5h.01M679.8,35.5h.01M689.6,35.5h.01M699.5,35.5h.01M709.3,35.5h.01M719.2,35.5h.01M729.0,35.5h.01M738.9,35.5h.01M748.7,35.5h.01M807.8,35.5h.01M133.1,40.5h.01M142.9,40.5h.01M152.8,40.5h.01M162.6,40.5h.01M172.5,40.5h.01M182.3,40.5h.01M192.2,40.5h.01M202.0,40.5h.01M211.9,40.5h.01M221.7,40.5h.01M231.6,40.5h.01M241.4,40.5h.01M261.1,40.5h.01M271.0,40.5h.01M280.8,40.5h.01M290.7,40.5h.01M546.8,40.5h.01M684.7,40.5h.01M694.5,40.5h.01M704.4,40.5h.01M714.2,40.5h.01M724.1,40.5h.01M733.9,40.5h.01M743.8,40.5h.01M802.9,40.5h.01M138.0,45.4h.01M147.9,45.4h.01M157.7,45.4h.01M167.6,45.4h.01M177.4,45.4h.01M187.3,45.4h.01M197.1,45.4h.01M207.0,45.4h.01M216.8,45.4h.01M226.7,45.4h.01M236.5,45.4h.01M246.4,45.4h.01M266.1,45.4h.01M275.9,45.4h.01M285.8,45.4h.01M295.6,45.4h.01M482.8,45.4h.01M492.6,45.4h.01M502.5,45.4h.01M512.3,45.4h.01M522.2,45.4h.01M532.0,45.4h.01M541.9,45.4h.01M630.5,45.4h.01M640.4,45.4h.01M650.2,45.4h.01M689.6,45.4h.01M699.5,45.4h.01M709.3,45.4h.01M719.2,45.4h.01M729.0,45.4h.01M142.9,50.4h.01M152.8,50.4h.01M162.6,50.4h.01M172.5,50.4h.01M182.3,50.4h.01M192.2,50.4h.01M202.0,50.4h.01M211.9,50.4h.01M221.7,50.4h.01M231.6,50.4h.01M241.4,50.4h.01M251.3,50.4h.01M261.1,50.4h.01M271.0,50.4h.01M280.8,50.4h.01M290.7,50.4h.01M487.7,50.4h.01M497.5,50.4h.01M507.4,50.4h.01M517.2,50.4h.01M527.1,50.4h.01M536.9,50.4h.01M546.8,50.4h.01M605.9,50.4h.01M615.7,50.4h.01M625.6,50.4h.01M635.4,50.4h.01M645.3,50.4h.01M655.1,50.4h.01M665.0,50.4h.01M704.4,50.4h.01M714.2,50.4h.01M724.1,50.4h.01M733.9,50.4h.01M743.8,50.4h.01M753.6,50.4h.01M763.5,50.4h.01M177.4,55.3h.01M187.3,55.3h.01M197.1,55.3h.01M207.0,55.3h.01M216.8,55.3h.01M226.7,55.3h.01M236.5,55.3h.01M246.4,55.3h.01M256.2,55.3h.01M266.1,55.3h.01M275.9,55.3h.01M482.8,55.3h.01M492.6,55.3h.01M502.5,55.3h.01M512.3,55.3h.01M522.2,55.3h.01M532.0,55.3h.01M541.9,55.3h.01M551.7,55.3h.01M601.0,55.3h.01M610.8,55.3h.01M620.7,55.3h.01M630.5,55.3h.01M640.4,55.3h.01M650.2,55.3h.01M660.1,55.3h.01M699.5,55.3h.01M709.3,55.3h.01M719.2,55.3h.01M729.0,55.3h.01M738.9,55.3h.01M748.7,55.3h.01M758.6,55.3h.01M152.8,60.3h.01M162.6,60.3h.01M172.5,60.3h.01M182.3,60.3h.01M192.2,60.3h.01M202.0,60.3h.01M211.9,60.3h.01M221.7,60.3h.01M231.6,60.3h.01M241.4,60.3h.01M251.3,60.3h.01M261.1,60.3h.01M271.0,60.3h.01M280.8,60.3h.01M290.7,60.3h.01M487.7,60.3h.01M497.5,60.3h.01M507.4,60.3h.01M517.2,60.3h.01M527.1,60.3h.01M536.9,60.3h.01M546.8,60.3h.01M605.9,60.3h.01M615.7,60.3h.01M625.6,60.3h.01M635.4,60.3h.01M645.3,60.3h.01M655.1,60.3h.01M665.0,60.3h.01M674.8,60.3h.01M684.7,60.3h.01M694.5,60.3h.01M704.4,60.3h.01M714.2,60.3h.01M724.1,60.3h.01M733.9,60.3h.01M743.8,60.3h.01M753.6,60.3h.01M763.5,60.3h.01M147.9,65.2h.01M157.7,65.2h.01M167.6,65.2h.01M177.4,65.2h.01M187.3,65.2h.01M197.1,65.2h.01M207.0,65.2h.01M216.8,65.2h.01M226.7,65.2h.01M236.5,65.2h.01M246.4,65.2h.01M256.2,65.2h.01M266.1,65.2h.01M275.9,65.2h.01M285.8,65.2h.01M492.6,65.2h.01M512.3,65.2h.01M522.2,65.2h.01M532.0,65.2h.01M601.0,65.2h.01M610.8,65.2h.01M620.7,65.2h.01M630.5,65.2h.01M640.4,65.2h.01M650.2,65.2h.01M660.1,65.2h.01M669.9,65.2h.01M679.8,65.2h.01M689.6,65.2h.01M699.5,65.2h.01M709.3,65.2h.01M719.2,65.2h.01M729.0,65.2h.01M738.9,65.2h.01M748.7,65.2h.01M758.6,65.2h.01M152.8,70.2h.01M162.6,70.2h.01M172.5,70.2h.01M182.3,70.2h.01M192.2,70.2h.01M202.0,70.2h.01M211.9,70.2h.01M221.7,70.2h.01M231.6,70.2h.01M241.4,70.2h.01M251.3,70.2h.01M261.1,70.2h.01M271.0,70.2h.01M517.2,70.2h.01M527.1,70.2h.01M605.9,70.2h.01M615.7,70.2h.01M625.6,70.2h.01M635.4,70.2h.01M645.3,70.2h.01M655.1,70.2h.01M665.0,70.2h.01M674.8,70.2h.01M684.7,70.2h.01M694.5,70.2h.01M704.4,70.2h.01M714.2,70.2h.01M724.1,70.2h.01M733.9,70.2h.01M743.8,70.2h.01M753.6,70.2h.01M763.5,70.2h.01M147.9,75.1h.01M157.7,75.1h.01M167.6,75.1h.01M177.4,75.1h.01M187.3,75.1h.01M197.1,75.1h.01M216.8,75.1h.01M226.7,75.1h.01M236.5,75.1h.01M246.4,75.1h.01M256.2,75.1h.01M443.4,75.1h.01M453.2,75.1h.01M581.3,75.1h.01M601.0,75.1h.01M610.8,75.1h.01M620.7,75.1h.01M630.5,75.1h.01M640.4,75.1h.01M650.2,75.1h.01M660.1,75.1h.01M669.9,75.1h.01M679.8,75.1h.01M689.6,75.1h.01M699.5,75.1h.01M709.3,75.1h.01M719.2,75.1h.01M729.0,75.1h.01M738.9,75.1h.01M748.7,75.1h.01M758.6,75.1h.01M152.8,80.1h.01M162.6,80.1h.01M172.5,80.1h.01M182.3,80.1h.01M192.2,80.1h.01M202.0,80.1h.01M211.9,80.1h.01M221.7,80.1h.01M231.6,80.1h.01M241.4,80.1h.01M448.3,80.1h.01M458.1,80.1h.01M576.3,80.1h.01M586.2,80.1h.01M605.9,80.1h.01M615.7,80.1h.01M625.6,80.1h.01M635.4,80.1h.01M645.3,80.1h.01M655.1,80.1h.01M665.0,80.1h.01M674.8,80.1h.01M684.7,80.1h.01M694.5,80.1h.01M704.4,80.1h.01M714.2,80.1h.01M724.1,80.1h.01M733.9,80.1h.01M743.8,80.1h.01M753.6,80.1h.01M763.5,80.1h.01M157.7,85.0h.01M167.6,85.0h.01M177.4,85.0h.01M187.3,85.0h.01M197.1,85.0h.01M207.0,85.0h.01M216.8,85.0h.01M226.7,85.0h.01M236.5,85.0h.01M571.4,85.0h.01M581.3,85.0h.01M591.1,85.0h.01M610.8,85.0h.01M620.7,85.0h.01M630.5,85.0h.01M640.4,85.0h.01M650.2,85.0h.01M660.1,85.0h.01M669.9,85.0h.01M679.8,85.0h.01M689.6,85.0h.01M699.5,85.0h.01M709.3,85.0h.01M719.2,85.0h.01M729.0,85.0h.01M738.9,85.0h.01M748.7,85.0h.01M758.6,85.0h.01M162.6,90.0h.01M172.5,90.0h.01M182.3,90.0h.01M192.2,90.0h.01M202.0,90.0h.01M211.9,90.0h.01M221.7,90.0h.01M231.6,90.0h.01M566.5,90.0h.01M576.3,90.0h.01M586.2,90.0h.01M605.9,90.0h.01M615.7,90.0h.01M625.6,90.0h.01M635.4,90.0h.01M645.3,90.0h.01M655.1,90.0h.01M665.0,90.0h.01M674.8,90.0h.01M684.7,90.0h.01M694.5,90.0h.01M704.4,90.0h.01M714.2,90.0h.01M724.1,90.0h.01M733.9,90.0h.01M743.8,90.0h.01M753.6,90.0h.01M763.5,90.0h.01M177.4,94.9h.01M187.3,94.9h.01M197.1,94.9h.01M207.0,94.9h.01M216.8,94.9h.01M226.7,94.9h.01M236.5,94.9h.01M463.1,94.9h.01M472.9,94.9h.01M482.8,94.9h.01M561.6,94.9h.01M571.4,94.9h.01M581.3,94.9h.01M591.1,94.9h.01M601.0,94.9h.01M610.8,94.9h.01M620.7,94.9h.01M630.5,94.9h.01M640.4,94.9h.01M650.2,94.9h.01M660.1,94.9h.01M669.9,94.9h.01M679.8,94.9h.01M689.6,94.9h.01M699.5,94.9h.01M709.3,94.9h.01M719.2,94.9h.01M729.0,94.9h.01M738.9,94.9h.01M748.7,94.9h.01M758.6,94.9h.01M768.4,94.9h.01M192.2,99.9h.01M221.7,99.9h.01M231.6,99.9h.01M468.0,99.9h.01M477.8,99.9h.01M487.7,99.9h.01M556.6,99.9h.01M566.5,99.9h.01M576.3,99.9h.01M586.2,99.9h.01M605.9,99.9h.01M615.7,99.9h.01M625.6,99.9h.01M635.4,99.9h.01M645.3,99.9h.01M655.1,99.9h.01M665.0,99.9h.01M674.8,99.9h.01M684.7,99.9h.01M694.5,99.9h.01M704.4,99.9h.01M714.2,99.9h.01M724.1,99.9h.01M733.9,99.9h.01M743.8,99.9h.01M753.6,99.9h.01M763.5,99.9h.01M773.3,99.9h.01M187.3,104.8h.01M463.1,104.8h.01M472.9,104.8h.01M482.8,104.8h.01M561.6,104.8h.01M571.4,104.8h.01M581.3,104.8h.01M610.8,104.8h.01M620.7,104.8h.01M630.5,104.8h.01M640.4,104.8h.01M650.2,104.8h.01M660.1,104.8h.01M669.9,104.8h.01M679.8,104.8h.01M689.6,104.8h.01M699.5,104.8h.01M709.3,104.8h.01M719.2,104.8h.01M729.0,104.8h.01M738.9,104.8h.01M748.7,104.8h.01M758.6,104.8h.01M768.4,104.8h.01M192.2,109.8h.01M202.0,109.8h.01M438.4,109.8h.01M448.3,109.8h.01M458.1,109.8h.01M468.0,109.8h.01M477.8,109.8h.01M487.7,109.8h.01M527.1,109.8h.01M536.9,109.8h.01M546.8,109.8h.01M566.5,109.8h.01M576.3,109.8h.01M586.2,109.8h.01M605.9,109.8h.01M615.7,109.8h.01M625.6,109.8h.01M635.4,109.8h.01M645.3,109.8h.01M655.1,109.8h.01M665.0,109.8h.01M674.8,109.8h.01M684.7,109.8h.01M694.5,109.8h.01M704.4,109.8h.01M714.2,109.8h.01M724.1,109.8h.01M733.9,109.8h.01M743.8,109.8h.01M753.6,109.8h.01M763.5,109.8h.01M197.1,114.7h.01M207.0,114.7h.01M433.5,114.7h.01M443.4,114.7h.01M453.2,114.7h.01M472.9,114.7h.01M482.8,114.7h.01M502.5,114.7h.01M512.3,114.7h.01M522.2,114.7h.01M532.0,114.7h.01M541.9,114.7h.01M571.4,114.7h.01M581.3,114.7h.01M591.1,114.7h.01M660.1,114.7h.01M669.9,114.7h.01M679.8,114.7h.01M689.6,114.7h.01M699.5,114.7h.01M709.3,114.7h.01M719.2,114.7h.01M729.0,114.7h.01M738.9,114.7h.01M748.7,114.7h.01M758.6,114.7h.01M768.4,114.7h.01M192.2,119.7h.01M202.0,119.7h.01M428.6,119.7h.01M438.4,119.7h.01M448.3,119.7h.01M458.1,119.7h.01M477.8,119.7h.01M487.7,119.7h.01M497.5,119.7h.01M507.4,119.7h.01M517.2,119.7h.01M527.1,119.7h.01M536.9,119.7h.01M546.8,119.7h.01M566.5,119.7h.01M576.3,119.7h.01M586.2,119.7h.01M655.1,119.7h.01M665.0,119.7h.01M674.8,119.7h.01M684.7,119.7h.01M704.4,119.7h.01M714.2,119.7h.01M724.1,119.7h.01M733.9,119.7h.01M743.8,119.7h.01M753.6,119.7h.01M197.1,124.6h.01M207.0,124.6h.01M433.5,124.6h.01M443.4,124.6h.01M453.2,124.6h.01M482.8,124.6h.01M492.6,124.6h.01M502.5,124.6h.01M512.3,124.6h.01M522.2,124.6h.01M532.0,124.6h.01M541.9,124.6h.01M551.7,124.6h.01M571.4,124.6h.01M581.3,124.6h.01M591.1,124.6h.01M660.1,124.6h.01M669.9,124.6h.01M679.8,124.6h.01M709.3,124.6h.01M719.2,124.6h.01M729.0,124.6h.01M738.9,124.6h.01M202.0,129.6h.01M211.9,129.6h.01M487.7,129.6h.01M497.5,129.6h.01M507.4,129.6h.01M517.2,129.6h.01M527.1,129.6h.01M536.9,129.6h.01M546.8,129.6h.01M576.3,129.6h.01M586.2,129.6h.01M665.0,129.6h.01M674.8,129.6h.01M433.5,134.5h.01M443.4,134.5h.01M453.2,134.5h.01M492.6,134.5h.01M502.5,134.5h.01M512.3,134.5h.01M522.2,134.5h.01M532.0,134.5h.01M541.9,134.5h.01M551.7,134.5h.01M581.3,134.5h.01M591.1,134.5h.01M428.6,139.5h.01M438.4,139.5h.01M448.3,139.5h.01M458.1,139.5h.01M487.7,139.5h.01M497.5,139.5h.01M507.4,139.5h.01M517.2,139.5h.01M527.1,139.5h.01M536.9,139.5h.01M546.8,139.5h.01M556.6,139.5h.01M433.5,144.4h.01M443.4,144.4h.01M453.2,144.4h.01M482.8,144.4h.01M492.6,144.4h.01M502.5,144.4h.01M512.3,144.4h.01M522.2,144.4h.01M532.0,144.4h.01M541.9,144.4h.01M551.7,144.4h.01M561.6,144.4h.01M428.6,149.4h.01M438.4,149.4h.01M448.3,149.4h.01M458.1,149.4h.01M487.7,149.4h.01M497.5,149.4h.01M507.4,149.4h.01M536.9,149.4h.01M546.8,149.4h.01M556.6,149.4h.01M566.5,149.4h.01M665.0,149.4h.01M433.5,154.3h.01M443.4,154.3h.01M453.2,154.3h.01M482.8,154.3h.01M492.6,154.3h.01M502.5,154.3h.01M522.2,154.3h.01M532.0,154.3h.01M541.9,154.3h.01M551.7,154.3h.01M561.6,154.3h.01M571.4,154.3h.01M290.7,159.3h.01M300.5,159.3h.01M477.8,159.3h.01M487.7,159.3h.01M497.5,159.3h.01M517.2,159.3h.01M527.1,159.3h.01M536.9,159.3h.01M546.8,159.3h.01M556.6,159.3h.01M566.5,159.3h.01M576.3,159.3h.01M586.2,159.3h.01M275.9,164.2h.01M285.8,164.2h.01M295.6,164.2h.01M305.5,164.2h.01M482.8,164.2h.01M492.6,164.2h.01M502.5,164.2h.01M512.3,164.2h.01M522.2,164.2h.01M532.0,164.2h.01M541.9,164.2h.01M551.7,164.2h.01M561.6,164.2h.01M571.4,164.2h.01M581.3,164.2h.01M271.0,169.2h.01M280.8,169.2h.01M290.7,169.2h.01M300.5,169.2h.01M310.4,169.2h.01M507.4,169.2h.01M517.2,169.2h.01M527.1,169.2h.01M536.9,169.2h.01M546.8,169.2h.01M556.6,169.2h.01M266.1,174.1h.01M275.9,174.1h.01M285.8,174.1h.01M295.6,174.1h.01M502.5,174.1h.01M512.3,174.1h.01M522.2,174.1h.01M532.0,174.1h.01M541.9,174.1h.01M551.7,174.1h.01M561.6,174.1h.01M261.1,179.1h.01M271.0,179.1h.01M280.8,179.1h.01M290.7,179.1h.01M300.5,179.1h.01M507.4,179.1h.01M517.2,179.1h.01M527.1,179.1h.01M536.9,179.1h.01M546.8,179.1h.01M556.6,179.1h.01M266.1,184.0h.01M275.9,184.0h.01M285.8,184.0h.01M295.6,184.0h.01M502.5,184.0h.01M522.2,184.0h.01M532.0,184.0h.01M541.9,184.0h.01M551.7,184.0h.01M561.6,184.0h.01M261.1,189.0h.01M271.0,189.0h.01M280.8,189.0h.01M290.7,189.0h.01M300.5,189.0h.01M527.1,189.0h.01M536.9,189.0h.01M546.8,189.0h.01M556.6,189.0h.01M256.2,193.9h.01M266.1,193.9h.01M275.9,193.9h.01M285.8,193.9h.01M295.6,193.9h.01M335.0,193.9h.01M344.9,193.9h.01M354.7,193.9h.01M522.2,193.9h.01M532.0,193.9h.01M541.9,193.9h.01M551.7,193.9h.01M561.6,193.9h.01M261.1,198.9h.01M271.0,198.9h.01M280.8,198.9h.01M290.7,198.9h.01M339.9,198.9h.01M349.8,198.9h.01M359.6,198.9h.01M527.1,198.9h.01M536.9,198.9h.01M546.8,198.9h.01M556.6,198.9h.01M266.1,203.8h.01M275.9,203.8h.01M285.8,203.8h.01M295.6,203.8h.01M305.5,203.8h.01M344.9,203.8h.01M354.7,203.8h.01M364.6,203.8h.01M522.2,203.8h.01M532.0,203.8h.01M541.9,203.8h.01M551.7,203.8h.01M561.6,203.8h.01M271.0,208.8h.01M280.8,208.8h.01M290.7,208.8h.01M300.5,208.8h.01M310.4,208.8h.01M339.9,208.8h.01M349.8,208.8h.01M359.6,208.8h.01M527.1,208.8h.01M536.9,208.8h.01M546.8,208.8h.01M556.6,208.8h.01M275.9,213.7h.01M285.8,213.7h.01M295.6,213.7h.01M305.5,213.7h.01M315.3,213.7h.01M344.9,213.7h.01M354.7,213.7h.01M522.2,213.7h.01M532.0,213.7h.01M541.9,213.7h.01M551.7,213.7h.01M561.6,213.7h.01M280.8,218.7h.01M290.7,218.7h.01M300.5,218.7h.01M310.4,218.7h.01M349.8,218.7h.01M517.2,218.7h.01M527.1,218.7h.01M536.9,218.7h.01M546.8,218.7h.01M556.6,218.7h.01M802.9,218.7h.01M285.8,223.6h.01M295.6,223.6h.01M305.5,223.6h.01M315.3,223.6h.01M512.3,223.6h.01M522.2,223.6h.01M532.0,223.6h.01M541.9,223.6h.01M551.7,223.6h.01M788.1,223.6h.01M798.0,223.6h.01M807.8,223.6h.01M290.7,228.6h.01M300.5,228.6h.01M310.4,228.6h.01M320.2,228.6h.01M507.4,228.6h.01M517.2,228.6h.01M527.1,228.6h.01M536.9,228.6h.01M546.8,228.6h.01M783.2,228.6h.01M793.0,228.6h.01M802.9,228.6h.01M285.8,233.5h.01M295.6,233.5h.01M305.5,233.5h.01M315.3,233.5h.01M325.2,233.5h.01M344.9,233.5h.01M512.3,233.5h.01M522.2,233.5h.01M532.0,233.5h.01M541.9,233.5h.01M768.4,233.5h.01M778.3,233.5h.01M788.1,233.5h.01M798.0,233.5h.01M807.8,233.5h.01M290.7,238.5h.01M300.5,238.5h.01M310.4,238.5h.01M320.2,238.5h.01M330.1,238.5h.01M339.9,238.5h.01M349.8,238.5h.01M507.4,238.5h.01M517.2,238.5h.01M527.1,238.5h.01M536.9,238.5h.01M546.8,238.5h.01M763.5,238.5h.01M773.3,238.5h.01M783.2,238.5h.01M793.0,238.5h.01M802.9,238.5h.01M285.8,243.4h.01M295.6,243.4h.01M305.5,243.4h.01M315.3,243.4h.01M325.2,243.4h.01M335.0,243.4h.01M512.3,243.4h.01M522.2,243.4h.01M532.0,243.4h.01M541.9,243.4h.01M758.6,243.4h.01M768.4,243.4h.01M778.3,243.4h.01M788.1,243.4h.01M798.0,243.4h.01M807.8,243.4h.01M817.7,243.4h.01M827.5,243.4h.01M837.4,243.4h.01M847.2,243.4h.01M290.7,248.4h.01M300.5,248.4h.01M310.4,248.4h.01M320.2,248.4h.01M330.1,248.4h.01M507.4,248.4h.01M517.2,248.4h.01M527.1,248.4h.01M536.9,248.4h.01M546.8,248.4h.01M763.5,248.4h.01M773.3,248.4h.01M783.2,248.4h.01M793.0,248.4h.01M802.9,248.4h.01M812.7,248.4h.01M822.6,248.4h.01M832.4,248.4h.01M842.3,248.4h.01M852.1,248.4h.01M285.8,253.3h.01M295.6,253.3h.01M305.5,253.3h.01M315.3,253.3h.01M325.2,253.3h.01M512.3,253.3h.01M522.2,253.3h.01M532.0,253.3h.01M541.9,253.3h.01M768.4,253.3h.01M778.3,253.3h.01M788.1,253.3h.01M798.0,253.3h.01M807.8,253.3h.01M817.7,253.3h.01M827.5,253.3h.01M837.4,253.3h.01M847.2,253.3h.01M280.8,258.3h.01M290.7,258.3h.01M300.5,258.3h.01M310.4,258.3h.01M320.2,258.3h.01M330.1,258.3h.01M517.2,258.3h.01M527.1,258.3h.01M763.5,258.3h.01M773.3,258.3h.01M783.2,258.3h.01M793.0,258.3h.01M802.9,258.3h.01M812.7,258.3h.01M822.6,258.3h.01M832.4,258.3h.01M842.3,258.3h.01M852.1,258.3h.01M285.8,263.2h.01M295.6,263.2h.01M305.5,263.2h.01M315.3,263.2h.01M325.2,263.2h.01M817.7,263.2h.01M827.5,263.2h.01M837.4,263.2h.01M847.2,263.2h.01M280.8,268.2h.01M290.7,268.2h.01M300.5,268.2h.01M310.4,268.2h.01M320.2,268.2h.01M822.6,268.2h.01M832.4,268.2h.01M842.3,268.2h.01M285.8,273.1h.01M295.6,273.1h.01M305.5,273.1h.01M315.3,273.1h.01M827.5,273.1h.01M837.4,273.1h.01M847.2,273.1h.01M280.8,278.1h.01M290.7,278.1h.01M300.5,278.1h.01M310.4,278.1h.01M275.9,283.0h.01M285.8,283.0h.01M295.6,283.0h.01M280.8,288.0h.01M290.7,288.0h.01M275.9,292.9h.01M285.8,292.9h.01M280.8,297.9h.01M275.9,302.8h.01M285.8,302.8h.01M271.0,307.8h.01M280.8,307.8h.01M275.9,312.7h.01M280.8,317.7h.01" fill="none" stroke="#111" stroke-width="3.4" stroke-linecap="round"/>
</g>
<use href="#landp" fill="none" stroke="#111" stroke-width="1.25" stroke-linejoin="round"/>
<use href="#waterp" fill="#fff" stroke="#111" stroke-width="1.25" stroke-linejoin="round"/>
<use href="#lakes" fill="#111" fill-opacity="0.45" stroke="#111" stroke-width="1.3" stroke-linejoin="round" stroke-linecap="round"/>
<use href="#lakes2" fill="none" stroke="#111" stroke-width="1.3" stroke-linejoin="round" stroke-linecap="round"/>
</g>
<rect x="0" y="0" width="926.64" height="334.62" fill="none" stroke="#111" stroke-width="1.4"/>
<path d="M-11.8,25.74H0M-11.8,102.96H0M-11.8,180.18H0M-11.8,257.40H0M-11.8,334.62H0M0.00,334.62v12M154.44,334.62v12M308.88,334.62v12M463.32,334.62v12M617.76,334.62v12M772.20,334.62v12M926.64,334.62v12" stroke="#111" stroke-width="1.4" fill="none"/>
</g>
<text x="0.7" y="646.2" font-size="26.8" textLength="72.5" lengthAdjust="spacingAndGlyphs">60° N</text>
<text x="1.2" y="723.4" font-size="26.8" textLength="72" lengthAdjust="spacingAndGlyphs">30° N</text>
<text x="45.3" y="800.6" font-size="26.8" textLength="29.5" lengthAdjust="spacingAndGlyphs">0°</text>
<text x="3.2" y="877.9" font-size="26.8" textLength="71" lengthAdjust="spacingAndGlyphs">30° S</text>
<text x="3.2" y="955.1" font-size="26.8" textLength="71" lengthAdjust="spacingAndGlyphs">60° S</text>
<text x="68.8" y="991.7" font-size="26.8" textLength="59" lengthAdjust="spacingAndGlyphs">180°</text>
<text x="211.2" y="991.7" font-size="26.8" textLength="88" lengthAdjust="spacingAndGlyphs">120° W</text>
<text x="371.6" y="991.7" font-size="26.8" textLength="78.5" lengthAdjust="spacingAndGlyphs">60° W</text>
<text x="551.7" y="991.7" font-size="26.8" textLength="29.5" lengthAdjust="spacingAndGlyphs">0°</text>
<text x="686.4" y="991.7" font-size="26.8" textLength="69.5" lengthAdjust="spacingAndGlyphs">60° E</text>
<text x="833.4" y="991.7" font-size="26.8" textLength="80.5" lengthAdjust="spacingAndGlyphs">120° E</text>
<text x="997.8" y="991.7" font-size="26.8" textLength="59" lengthAdjust="spacingAndGlyphs">180°</text>
<text x="0.2" y="610.8" font-size="38" font-weight="bold" fill="#000" stroke="#000" stroke-width="1.2">b</text>
<rect x="123.70" y="1073.8" width="43.75" height="27.9" fill="#254e9a"/>
<rect x="167.45" y="1073.8" width="43.75" height="27.9" fill="#2b62af"/>
<rect x="211.20" y="1073.8" width="43.75" height="27.9" fill="#3a7bbf"/>
<rect x="254.95" y="1073.8" width="43.75" height="27.9" fill="#4c94cf"/>
<rect x="298.70" y="1073.8" width="43.75" height="27.9" fill="#62a9db"/>
<rect x="342.45" y="1073.8" width="43.75" height="27.9" fill="#7abde6"/>
<rect x="386.20" y="1073.8" width="43.75" height="27.9" fill="#93d0f1"/>
<rect x="429.95" y="1073.8" width="43.75" height="27.9" fill="#a8dbf5"/>
<rect x="473.70" y="1073.8" width="43.75" height="27.9" fill="#bee5f7"/>
<rect x="517.45" y="1073.8" width="43.75" height="27.9" fill="#d2edf8"/>
<rect x="561.20" y="1073.8" width="43.75" height="27.9" fill="#fef2c0"/>
<rect x="604.95" y="1073.8" width="43.75" height="27.9" fill="#fce79a"/>
<rect x="648.70" y="1073.8" width="43.75" height="27.9" fill="#fdd57b"/>
<rect x="692.45" y="1073.8" width="43.75" height="27.9" fill="#fdc05a"/>
<rect x="736.20" y="1073.8" width="43.75" height="27.9" fill="#fdab3b"/>
<rect x="779.95" y="1073.8" width="43.75" height="27.9" fill="#fb9634"/>
<rect x="823.70" y="1073.8" width="43.75" height="27.9" fill="#f77f30"/>
<rect x="867.45" y="1073.8" width="43.75" height="27.9" fill="#f0672c"/>
<rect x="911.20" y="1073.8" width="43.75" height="27.9" fill="#e54f2a"/>
<rect x="954.95" y="1073.8" width="43.75" height="27.9" fill="#d8302a"/>
<path d="M167.45,1073.8v27.9M211.20,1073.8v27.9M254.95,1073.8v27.9M298.70,1073.8v27.9M342.45,1073.8v27.9M386.20,1073.8v27.9M429.95,1073.8v27.9M473.70,1073.8v27.9M517.45,1073.8v27.9M561.20,1073.8v27.9M604.95,1073.8v27.9M648.70,1073.8v27.9M692.45,1073.8v27.9M736.20,1073.8v27.9M779.95,1073.8v27.9M823.70,1073.8v27.9M867.45,1073.8v27.9M911.20,1073.8v27.9M954.95,1073.8v27.9" stroke="#111" stroke-width="1.1" fill="none"/>
<rect x="123.7" y="1073.8" width="875.0" height="27.9" fill="none" stroke="#111" stroke-width="1.4"/>
<text x="196.2" y="1134.9" font-size="26.8" textLength="30" lengthAdjust="spacingAndGlyphs">−4</text>
<text x="283.9" y="1134.9" font-size="26.8" textLength="29.5" lengthAdjust="spacingAndGlyphs">−3</text>
<text x="371.4" y="1134.9" font-size="26.8" textLength="29.5" lengthAdjust="spacingAndGlyphs">−2</text>
<text x="461.2" y="1134.9" font-size="26.8" textLength="25" lengthAdjust="spacingAndGlyphs">−1</text>
<text x="552.5" y="1134.9" font-size="26.8" textLength="17.5" lengthAdjust="spacingAndGlyphs">0</text>
<text x="642.7" y="1134.9" font-size="26.8" textLength="12" lengthAdjust="spacingAndGlyphs">1</text>
<text x="728.2" y="1134.9" font-size="26.8" textLength="16" lengthAdjust="spacingAndGlyphs">2</text>
<text x="815.5" y="1134.9" font-size="26.8" textLength="16.5" lengthAdjust="spacingAndGlyphs">3</text>
<text x="902.5" y="1134.9" font-size="26.8" textLength="17.5" lengthAdjust="spacingAndGlyphs">4</text>
<text x="434" y="1054.1" font-size="26.8" textLength="302.20000000000005" lengthAdjust="spacingAndGlyphs">Frequency (per decade)</text>
<g transform="translate(92.6,1196.5)">
<g clip-path="url(#box)">
<g clip-path="url(#land)">
<g filter="url(#cm)">
<rect x="-30" y="-30" width="987" height="395" fill="rgb(106,106,106)"/>
<path fill="rgb(159,159,159)" d="M419.4,115.0 L441.9,96.2 L461.9,90.5 L489.4,91.2 L509.4,102.5 L549.4,105.0 L559.4,117.5 L574.4,145.0 L589.4,157.5 L579.4,167.5 L564.4,160.0 L544.4,147.5 L514.4,147.5 L504.4,160.0 L486.9,167.5 L459.4,162.5 L441.9,167.5 L424.4,147.5Z"/>
<ellipse cx="79.4" cy="15.0" rx="32.5" ry="11.2" fill="rgb(83,83,83)"/>
<ellipse cx="94.4" cy="11.2" rx="6.2" ry="7.5" fill="rgb(153,153,153)"/>
<ellipse cx="49.4" cy="5.0" rx="7.5" ry="3.0" fill="rgb(153,153,153)"/>
<ellipse cx="144.4" cy="10.0" rx="7.5" ry="10.0" fill="rgb(172,172,172)"/>
<ellipse cx="148.2" cy="22.5" rx="3.0" ry="2.5" fill="rgb(217,217,217)"/>
<ellipse cx="184.4" cy="11.2" rx="20.0" ry="5.0" fill="rgb(159,159,159)"/>
<ellipse cx="214.4" cy="22.5" rx="5.0" ry="6.2" fill="rgb(147,147,147)"/>
<ellipse cx="196.9" cy="42.5" rx="75.0" ry="25.0" fill="rgb(57,57,57)"/>
<ellipse cx="179.4" cy="25.0" rx="15.0" ry="6.2" fill="rgb(26,26,26)"/>
<ellipse cx="224.4" cy="50.0" rx="37.5" ry="12.5" fill="rgb(19,19,19)"/>
<ellipse cx="246.9" cy="60.0" rx="22.5" ry="10.0" fill="rgb(19,19,19)"/>
<ellipse cx="289.4" cy="40.0" rx="12.5" ry="7.5" fill="rgb(26,26,26)"/>
<ellipse cx="174.4" cy="82.5" rx="25.0" ry="17.5" fill="rgb(198,198,198)"/>
<ellipse cx="156.9" cy="72.5" rx="12.5" ry="11.2" fill="rgb(242,242,242)"/>
<ellipse cx="178.2" cy="85.0" rx="7.5" ry="6.2" fill="rgb(217,217,217)"/>
<ellipse cx="206.9" cy="92.5" rx="10.0" ry="10.0" fill="rgb(178,178,178)"/>
<ellipse cx="205.7" cy="77.5" rx="5.5" ry="7.0" fill="rgb(236,236,236)"/>
<ellipse cx="199.4" cy="122.5" rx="12.5" ry="12.5" fill="rgb(76,76,76)"/>
<ellipse cx="191.9" cy="110.0" rx="10.0" ry="7.5" fill="rgb(45,45,45)"/>
<ellipse cx="234.4" cy="92.5" rx="20.0" ry="10.0" fill="rgb(76,76,76)"/>
<ellipse cx="254.4" cy="80.0" rx="7.5" ry="5.0" fill="rgb(153,153,153)"/>
<ellipse cx="226.9" cy="80.0" rx="3.8" ry="2.5" fill="rgb(147,147,147)"/>
<ellipse cx="269.4" cy="26.2" rx="5.0" ry="3.8" fill="rgb(153,153,153)"/>
<ellipse cx="280.6" cy="7.5" rx="5.0" ry="5.0" fill="rgb(38,38,38)"/>
<ellipse cx="239.4" cy="142.5" rx="5.0" ry="2.0" fill="rgb(178,178,178)"/>
<ellipse cx="299.4" cy="202.5" rx="27.5" ry="35.0" fill="rgb(178,178,178)"/>
<ellipse cx="291.9" cy="177.5" rx="8.8" ry="11.2" fill="rgb(204,204,204)"/>
<ellipse cx="291.9" cy="176.2" rx="3.8" ry="5.0" fill="rgb(223,223,223)"/>
<ellipse cx="296.9" cy="210.0" rx="20.0" ry="13.8" fill="rgb(242,242,242)" transform="rotate(35 296.9 210.0)"/>
<ellipse cx="308.1" cy="225.0" rx="12.5" ry="11.2" fill="rgb(242,242,242)"/>
<ellipse cx="316.9" cy="185.0" rx="15.0" ry="6.2" fill="rgb(159,159,159)"/>
<ellipse cx="339.4" cy="198.8" rx="6.2" ry="7.5" fill="rgb(178,178,178)"/>
<ellipse cx="319.4" cy="202.5" rx="12.5" ry="7.5" fill="rgb(102,102,102)"/>
<ellipse cx="261.9" cy="190.0" rx="7.5" ry="10.0" fill="rgb(45,45,45)"/>
<ellipse cx="349.4" cy="215.0" rx="12.5" ry="10.0" fill="rgb(83,83,83)"/>
<ellipse cx="359.4" cy="200.0" rx="10.0" ry="7.5" fill="rgb(51,51,51)"/>
<ellipse cx="349.4" cy="232.5" rx="10.0" ry="6.2" fill="rgb(185,185,185)"/>
<ellipse cx="311.9" cy="247.5" rx="17.5" ry="10.0" fill="rgb(83,83,83)"/>
<ellipse cx="311.9" cy="270.0" rx="10.0" ry="7.5" fill="rgb(32,32,32)"/>
<ellipse cx="289.4" cy="265.0" rx="11.2" ry="30.0" fill="rgb(10,10,10)"/>
<ellipse cx="281.9" cy="297.5" rx="10.0" ry="22.5" fill="rgb(10,10,10)"/>
<ellipse cx="591.9" cy="22.5" rx="62.5" ry="17.5" fill="rgb(70,70,70)"/>
<ellipse cx="569.4" cy="30.0" rx="10.0" ry="6.2" fill="rgb(45,45,45)"/>
<ellipse cx="661.9" cy="20.0" rx="10.0" ry="15.0" fill="rgb(26,26,26)"/>
<ellipse cx="629.4" cy="12.5" rx="10.0" ry="7.5" fill="rgb(51,51,51)"/>
<ellipse cx="529.4" cy="12.5" rx="15.0" ry="10.0" fill="rgb(70,70,70)"/>
<ellipse cx="474.4" cy="58.8" rx="12.5" ry="6.2" fill="rgb(153,153,153)"/>
<ellipse cx="514.4" cy="55.0" rx="32.5" ry="12.5" fill="rgb(191,191,191)"/>
<ellipse cx="518.1" cy="63.8" rx="6.2" ry="5.5" fill="rgb(223,223,223)"/>
<ellipse cx="449.4" cy="75.0" rx="10.0" ry="7.5" fill="rgb(191,191,191)"/>
<ellipse cx="449.4" cy="75.0" rx="6.2" ry="6.2" fill="rgb(230,230,230)"/>
<ellipse cx="486.9" cy="22.5" rx="5.0" ry="3.0" fill="rgb(159,159,159)"/>
<ellipse cx="458.1" cy="43.8" rx="2.5" ry="2.5" fill="rgb(178,178,178)"/>
<ellipse cx="551.9" cy="77.5" rx="3.0" ry="3.0" fill="rgb(191,191,191)"/>
<ellipse cx="629.4" cy="45.0" rx="37.5" ry="7.5" fill="rgb(159,159,159)"/>
<ellipse cx="634.4" cy="65.0" rx="45.0" ry="22.5" fill="rgb(198,198,198)"/>
<ellipse cx="634.4" cy="70.0" rx="30.0" ry="12.5" fill="rgb(236,236,236)"/>
<ellipse cx="584.4" cy="82.5" rx="10.0" ry="12.5" fill="rgb(204,204,204)"/>
<ellipse cx="624.4" cy="102.5" rx="25.0" ry="8.8" fill="rgb(51,51,51)"/>
<ellipse cx="664.4" cy="100.0" rx="6.2" ry="10.0" fill="rgb(32,32,32)"/>
<ellipse cx="601.9" cy="122.5" rx="10.0" ry="10.0" fill="rgb(96,96,96)"/>
<ellipse cx="579.4" cy="112.5" rx="20.0" ry="25.0" fill="rgb(191,191,191)" transform="rotate(-20 579.4 112.5)"/>
<ellipse cx="571.9" cy="103.8" rx="12.5" ry="10.0" fill="rgb(242,242,242)"/>
<ellipse cx="584.4" cy="120.0" rx="8.8" ry="11.2" fill="rgb(236,236,236)"/>
<ellipse cx="661.9" cy="127.5" rx="7.5" ry="15.0" fill="rgb(191,191,191)"/>
<ellipse cx="479.4" cy="110.0" rx="20.0" ry="16.2" fill="rgb(198,198,198)"/>
<ellipse cx="471.9" cy="96.2" rx="12.0" ry="7.5" fill="rgb(242,242,242)"/>
<ellipse cx="524.4" cy="125.0" rx="37.5" ry="17.5" fill="rgb(198,198,198)"/>
<ellipse cx="539.4" cy="110.0" rx="7.5" ry="6.2" fill="rgb(210,210,210)"/>
<ellipse cx="509.4" cy="137.5" rx="15.0" ry="6.2" fill="rgb(210,210,210)"/>
<ellipse cx="509.4" cy="107.5" rx="10.0" ry="6.2" fill="rgb(108,108,108)"/>
<ellipse cx="436.9" cy="120.0" rx="12.5" ry="8.8" fill="rgb(32,32,32)"/>
<ellipse cx="466.9" cy="137.5" rx="15.0" ry="15.0" fill="rgb(153,153,153)"/>
<ellipse cx="454.4" cy="157.5" rx="15.0" ry="5.0" fill="rgb(147,147,147)"/>
<ellipse cx="441.9" cy="143.8" rx="11.2" ry="7.0" fill="rgb(210,210,210)"/>
<ellipse cx="489.4" cy="157.5" rx="12.5" ry="8.8" fill="rgb(191,191,191)"/>
<ellipse cx="576.9" cy="160.0" rx="12.5" ry="6.2" fill="rgb(185,185,185)"/>
<ellipse cx="564.4" cy="150.0" rx="7.5" ry="7.5" fill="rgb(204,204,204)"/>
<ellipse cx="534.4" cy="177.5" rx="30.0" ry="27.5" fill="rgb(64,64,64)"/>
<ellipse cx="543.1" cy="165.0" rx="11.2" ry="12.5" fill="rgb(19,19,19)"/>
<ellipse cx="504.4" cy="195.0" rx="7.5" ry="12.5" fill="rgb(153,153,153)"/>
<ellipse cx="551.9" cy="197.5" rx="6.2" ry="7.5" fill="rgb(159,159,159)"/>
<ellipse cx="529.4" cy="202.5" rx="30.0" ry="50.0" fill="rgb(83,83,83)"/>
<ellipse cx="544.4" cy="165.0" rx="11.2" ry="11.2" fill="rgb(19,19,19)"/>
<ellipse cx="504.4" cy="193.8" rx="7.5" ry="7.5" fill="rgb(153,153,153)"/>
<ellipse cx="514.4" cy="171.2" rx="3.8" ry="3.0" fill="rgb(147,147,147)"/>
<ellipse cx="553.1" cy="198.8" rx="4.5" ry="6.2" fill="rgb(153,153,153)"/>
<ellipse cx="524.4" cy="245.0" rx="13.8" ry="8.8" fill="rgb(26,26,26)"/>
<ellipse cx="539.4" cy="245.0" rx="5.0" ry="6.2" fill="rgb(38,38,38)"/>
<ellipse cx="519.4" cy="261.2" rx="11.2" ry="4.5" fill="rgb(242,242,242)"/>
<ellipse cx="508.1" cy="252.5" rx="3.0" ry="6.2" fill="rgb(204,204,204)"/>
<ellipse cx="571.9" cy="158.8" rx="12.5" ry="5.0" fill="rgb(191,191,191)"/>
<ellipse cx="490.6" cy="160.0" rx="11.2" ry="6.2" fill="rgb(198,198,198)"/>
<ellipse cx="586.9" cy="221.2" rx="3.0" ry="3.8" fill="rgb(45,45,45)"/>
<ellipse cx="581.9" cy="237.5" rx="2.0" ry="2.0" fill="rgb(166,166,166)"/>
<ellipse cx="679.4" cy="22.5" rx="95.0" ry="25.0" fill="rgb(57,57,57)"/>
<ellipse cx="699.4" cy="20.0" rx="45.0" ry="20.0" fill="rgb(19,19,19)"/>
<ellipse cx="619.4" cy="25.0" rx="20.0" ry="15.0" fill="rgb(51,51,51)"/>
<ellipse cx="816.9" cy="22.5" rx="42.5" ry="22.5" fill="rgb(96,96,96)"/>
<ellipse cx="791.9" cy="40.0" rx="12.5" ry="7.5" fill="rgb(147,147,147)"/>
<ellipse cx="821.9" cy="55.0" rx="10.0" ry="5.0" fill="rgb(147,147,147)"/>
<ellipse cx="814.4" cy="12.5" rx="6.2" ry="5.0" fill="rgb(64,64,64)"/>
<ellipse cx="636.9" cy="65.0" rx="45.0" ry="25.0" fill="rgb(191,191,191)"/>
<ellipse cx="631.9" cy="67.5" rx="27.5" ry="13.8" fill="rgb(236,236,236)"/>
<ellipse cx="641.9" cy="47.5" rx="10.0" ry="7.5" fill="rgb(210,210,210)"/>
<ellipse cx="729.4" cy="65.0" rx="47.5" ry="22.5" fill="rgb(198,198,198)"/>
<ellipse cx="734.4" cy="60.0" rx="27.5" ry="12.5" fill="rgb(236,236,236)"/>
<ellipse cx="729.4" cy="97.5" rx="45.0" ry="27.5" fill="rgb(198,198,198)"/>
<ellipse cx="734.4" cy="102.5" rx="10.0" ry="20.0" fill="rgb(230,230,230)"/>
<ellipse cx="629.4" cy="102.5" rx="25.0" ry="10.0" fill="rgb(76,76,76)"/>
<ellipse cx="649.4" cy="105.0" rx="15.0" ry="7.5" fill="rgb(51,51,51)"/>
<ellipse cx="669.4" cy="97.5" rx="17.5" ry="7.5" fill="rgb(26,26,26)" transform="rotate(-35 669.4 97.5)"/>
<ellipse cx="671.9" cy="122.5" rx="20.0" ry="8.8" fill="rgb(185,185,185)"/>
<ellipse cx="661.9" cy="140.0" rx="6.2" ry="10.0" fill="rgb(153,153,153)"/>
<ellipse cx="663.1" cy="150.0" rx="3.8" ry="5.0" fill="rgb(89,89,89)"/>
<ellipse cx="714.4" cy="132.5" rx="7.5" ry="7.5" fill="rgb(115,115,115)"/>
<ellipse cx="729.4" cy="140.0" rx="10.0" ry="10.0" fill="rgb(159,159,159)"/>
<ellipse cx="786.9" cy="57.5" rx="12.5" ry="8.8" fill="rgb(102,102,102)"/>
<ellipse cx="794.4" cy="75.0" rx="10.0" ry="7.5" fill="rgb(147,147,147)"/>
<ellipse cx="791.9" cy="86.2" rx="2.5" ry="2.5" fill="rgb(178,178,178)"/>
<ellipse cx="759.4" cy="175.0" rx="10.0" ry="7.5" fill="rgb(185,185,185)"/>
<ellipse cx="759.4" cy="175.0" rx="6.2" ry="5.0" fill="rgb(230,230,230)"/>
<ellipse cx="724.4" cy="180.0" rx="3.0" ry="5.0" fill="rgb(178,178,178)"/>
<ellipse cx="824.4" cy="195.0" rx="10.0" ry="4.5" fill="rgb(178,178,178)"/>
<ellipse cx="824.4" cy="195.0" rx="6.2" ry="3.8" fill="rgb(223,223,223)"/>
<ellipse cx="806.9" cy="245.0" rx="52.5" ry="32.5" fill="rgb(178,178,178)"/>
<ellipse cx="781.9" cy="247.5" rx="15.0" ry="11.2" fill="rgb(223,223,223)"/>
<ellipse cx="831.9" cy="257.5" rx="15.0" ry="13.8" fill="rgb(230,230,230)"/>
<ellipse cx="804.4" cy="225.0" rx="15.0" ry="7.5" fill="rgb(153,153,153)"/>
<ellipse cx="819.4" cy="228.8" rx="10.0" ry="5.0" fill="rgb(115,115,115)"/>
<ellipse cx="841.9" cy="242.5" rx="3.8" ry="6.2" fill="rgb(121,121,121)"/>
<ellipse cx="794.4" cy="255.0" rx="5.0" ry="2.0" fill="rgb(102,102,102)"/>
<path fill="rgb(163,163,163)" d="M279.4,167.5 L291.9,160.0 L304.4,165.0 L308.1,180.0 L321.9,178.8 L329.4,185.0 L324.4,192.5 L309.4,195.0 L321.9,205.0 L329.4,217.5 L329.4,232.5 L319.4,241.2 L304.4,242.5 L294.4,237.5 L289.4,225.0 L280.6,218.8 L277.4,206.2 L280.6,193.8 L283.1,181.2Z"/>
<path fill="rgb(198,198,198)" d="M277.1,200.0 L277.1,210.5 L277.2,210.9 L277.3,211.4 L277.5,211.8 L277.8,212.1 L285.3,219.6 L285.6,219.8 L286.0,220.0 L286.3,220.2 L293.7,222.1 L292.7,227.0 L292.7,227.5 L292.7,228.0 L292.8,228.4 L296.1,235.9 L296.3,236.3 L296.6,236.6 L296.9,236.9 L297.3,237.1 L304.8,240.1 L305.3,240.2 L305.8,240.2 L306.3,240.2 L316.3,237.2 L316.7,237.0 L317.1,236.7 L317.4,236.4 L323.6,228.9 L323.9,228.6 L324.0,228.2 L324.1,227.8 L324.1,227.4 L323.6,218.6 L323.6,218.2 L323.4,217.8 L323.2,217.5 L316.2,207.5 L316.0,207.2 L315.8,207.0 L305.8,199.5 L305.3,199.2 L296.5,195.4 L296.0,195.3 L287.2,194.0 L286.8,194.0 L286.3,194.1 L285.9,194.2 L278.4,198.0 L278.0,198.2 L277.7,198.5 L277.5,198.8 L277.3,199.2 L277.2,199.6Z"/>
<path fill="rgb(198,198,198)" d="M284.9,171.2 L291.9,165.5 L300.1,169.5 L302.4,180.0 L299.4,190.0 L295.6,197.0 L287.4,197.0 L284.9,185.0Z"/>
<path fill="rgb(223,223,223)" d="M288.1,172.5 L295.6,171.2 L297.4,181.2 L290.6,183.8Z"/>
<path fill="rgb(254,254,254)" d="M279.4,200.0 L286.9,196.2 L295.6,197.5 L304.4,201.2 L314.4,208.8 L321.4,218.8 L321.9,227.5 L315.6,235.0 L305.6,238.0 L298.1,235.0 L294.9,227.5 L296.4,220.5 L286.9,218.0 L279.4,210.5Z"/>
<ellipse cx="318.1" cy="185.5" rx="11.2" ry="4.5" fill="rgb(172,172,172)"/>
<ellipse cx="339.4" cy="198.8" rx="5.5" ry="7.0" fill="rgb(178,178,178)"/>
<path fill="rgb(64,64,64)" d="M304.4,242.5 L324.4,240.0 L336.9,247.5 L329.4,262.5 L319.4,272.5 L314.4,262.5 L304.4,257.5Z"/>
<path fill="rgb(10,10,10)" d="M286.9,227.5 L294.4,232.5 L296.9,240.0 L304.4,245.0 L304.4,257.5 L314.4,262.5 L316.9,272.5 L309.4,277.5 L299.4,282.5 L294.4,297.5 L289.4,312.5 L284.4,322.5 L274.4,320.0 L270.6,302.5 L274.4,285.0 L279.4,272.5 L281.9,252.5 L284.4,237.5Z"/>
<path fill="rgb(198,198,198)" d="M144.4,60.0 L164.4,53.8 L176.9,60.0 L189.4,72.5 L194.4,85.0 L186.9,97.5 L169.4,97.5 L156.9,90.0 L146.9,80.0Z"/>
<path fill="rgb(242,242,242)" d="M146.9,65.0 L159.4,61.2 L169.4,66.2 L170.7,77.5 L164.4,83.8 L154.4,83.8 L148.2,77.5Z"/>
<path fill="rgb(254,254,254)" d="M198.2,68.8 L210.7,67.5 L213.9,81.2 L209.4,88.8 L199.4,85.0Z"/>
<path fill="rgb(19,19,19)" d="M166.9,20.0 L184.4,18.8 L194.4,25.0 L199.4,35.0 L209.4,40.0 L234.4,42.5 L251.9,47.5 L266.9,50.0 L269.4,60.0 L259.4,70.0 L244.4,70.0 L231.9,62.5 L214.4,62.5 L201.9,60.0 L194.4,47.5 L184.4,40.0 L174.4,30.0Z"/>
<path fill="rgb(4,4,4)" d="M654.4,5.0 L744.4,3.8 L749.4,17.5 L739.4,32.5 L724.4,40.0 L704.4,37.5 L689.4,42.5 L674.4,37.5 L659.4,27.5 L651.9,15.0Z"/>
<path fill="rgb(238,238,238)" d="M604.4,57.5 L619.4,55.0 L634.4,47.5 L644.4,42.5 L650.6,47.5 L646.9,57.5 L666.9,60.0 L674.4,67.5 L669.4,75.0 L654.4,77.5 L644.4,85.0 L629.4,86.2 L614.4,81.2 L604.4,81.2Z"/>
<path fill="rgb(238,238,238)" d="M704.4,51.2 L721.9,47.5 L744.4,51.2 L764.4,52.5 L766.9,62.5 L759.4,70.0 L744.4,72.5 L724.4,68.8 L706.9,62.5Z"/>
<path fill="rgb(230,230,230)" d="M724.4,72.5 L739.4,80.0 L744.4,97.5 L739.4,115.0 L729.4,120.0 L724.4,107.5 L726.9,92.5 L721.9,82.5Z"/>
<path fill="rgb(26,26,26)" d="M649.4,105.0 L661.9,97.5 L674.4,85.0 L684.4,80.0 L686.9,87.5 L679.4,97.5 L666.9,107.5 L654.4,110.0Z"/>
<path fill="rgb(238,238,238)" d="M604.4,70.0 L616.9,60.0 L629.4,56.2 L644.4,47.5 L651.9,48.8 L650.6,58.8 L668.4,57.5 L668.4,81.2 L654.4,83.8 L644.4,86.2 L629.4,85.0 L616.9,81.2 L606.9,76.2Z"/>
<path fill="rgb(23,23,23)" d="M534.4,155.0 L546.9,152.5 L554.4,162.5 L554.4,175.0 L544.4,180.0 L534.4,177.5 L530.6,167.5Z"/>
<ellipse cx="350.9" cy="12.7" rx="26.0" ry="16.0" fill="rgb(51,51,51)"/>
<ellipse cx="898.9" cy="12.7" rx="32.0" ry="10.0" fill="rgb(51,51,51)"/>
<ellipse cx="913.9" cy="8.7" rx="14.0" ry="8.0" fill="rgb(26,26,26)"/>
</g>
<g fill="#fff" filter="url(#wb)">
<ellipse cx="488.1" cy="16.2" rx="8.8" ry="3.5" transform="rotate(-30 488.1 16.2)"/>
<ellipse cx="504.4" cy="18.8" rx="4.5" ry="8.8"/>
<ellipse cx="513.1" cy="31.2" rx="5.5" ry="8.8"/>
<ellipse cx="544.4" cy="12.5" rx="7.5" ry="2.5"/>
<ellipse cx="869.4" cy="32.8" rx="7.0" ry="13.0" transform="rotate(25 869.4 32.8)"/>
<ellipse cx="871.4" cy="47.8" rx="4.0" ry="8.0" transform="rotate(10 871.4 47.8)"/>
</g>
<path d="M59.2,5.8h.01M69.1,5.8h.01M78.9,5.8h.01M88.8,5.8h.01M98.6,5.8h.01M275.9,5.8h.01M335.0,5.8h.01M344.9,5.8h.01M354.7,5.8h.01M364.6,5.8h.01M512.3,5.8h.01M522.2,5.8h.01M532.0,5.8h.01M541.9,5.8h.01M610.8,5.8h.01M620.7,5.8h.01M630.5,5.8h.01M640.4,5.8h.01M650.2,5.8h.01M660.1,5.8h.01M669.9,5.8h.01M679.8,5.8h.01M689.6,5.8h.01M699.5,5.8h.01M709.3,5.8h.01M719.2,5.8h.01M729.0,5.8h.01M738.9,5.8h.01M748.7,5.8h.01M758.6,5.8h.01M768.4,5.8h.01M778.3,5.8h.01M857.1,5.8h.01M866.9,5.8h.01M876.8,5.8h.01M886.6,5.8h.01M896.5,5.8h.01M906.3,5.8h.01M916.2,5.8h.01M64.1,10.8h.01M74.0,10.8h.01M83.8,10.8h.01M93.7,10.8h.01M103.5,10.8h.01M113.4,10.8h.01M123.2,10.8h.01M211.9,10.8h.01M221.7,10.8h.01M231.6,10.8h.01M280.8,10.8h.01M339.9,10.8h.01M349.8,10.8h.01M359.6,10.8h.01M507.4,10.8h.01M517.2,10.8h.01M536.9,10.8h.01M546.8,10.8h.01M605.9,10.8h.01M615.7,10.8h.01M625.6,10.8h.01M635.4,10.8h.01M645.3,10.8h.01M655.1,10.8h.01M665.0,10.8h.01M674.8,10.8h.01M684.7,10.8h.01M694.5,10.8h.01M704.4,10.8h.01M714.2,10.8h.01M724.1,10.8h.01M733.9,10.8h.01M743.8,10.8h.01M753.6,10.8h.01M763.5,10.8h.01M773.3,10.8h.01M812.7,10.8h.01M822.6,10.8h.01M852.1,10.8h.01M862.0,10.8h.01M871.8,10.8h.01M881.7,10.8h.01M891.5,10.8h.01M901.4,10.8h.01M911.2,10.8h.01M921.1,10.8h.01M59.2,15.7h.01M69.1,15.7h.01M78.9,15.7h.01M88.8,15.7h.01M98.6,15.7h.01M108.5,15.7h.01M118.3,15.7h.01M344.9,15.7h.01M354.7,15.7h.01M512.3,15.7h.01M532.0,15.7h.01M541.9,15.7h.01M610.8,15.7h.01M620.7,15.7h.01M630.5,15.7h.01M640.4,15.7h.01M650.2,15.7h.01M660.1,15.7h.01M669.9,15.7h.01M679.8,15.7h.01M689.6,15.7h.01M699.5,15.7h.01M709.3,15.7h.01M719.2,15.7h.01M729.0,15.7h.01M738.9,15.7h.01M748.7,15.7h.01M758.6,15.7h.01M768.4,15.7h.01M807.8,15.7h.01M817.7,15.7h.01M827.5,15.7h.01M857.1,15.7h.01M866.9,15.7h.01M876.8,15.7h.01M886.6,15.7h.01M896.5,15.7h.01M906.3,15.7h.01M916.2,15.7h.01M64.1,20.7h.01M74.0,20.7h.01M83.8,20.7h.01M93.7,20.7h.01M103.5,20.7h.01M113.4,20.7h.01M123.2,20.7h.01M162.6,20.7h.01M172.5,20.7h.01M349.8,20.7h.01M527.1,20.7h.01M536.9,20.7h.01M546.8,20.7h.01M576.3,20.7h.01M586.2,20.7h.01M596.0,20.7h.01M605.9,20.7h.01M615.7,20.7h.01M625.6,20.7h.01M635.4,20.7h.01M645.3,20.7h.01M655.1,20.7h.01M665.0,20.7h.01M674.8,20.7h.01M684.7,20.7h.01M694.5,20.7h.01M704.4,20.7h.01M714.2,20.7h.01M724.1,20.7h.01M733.9,20.7h.01M743.8,20.7h.01M753.6,20.7h.01M763.5,20.7h.01M812.7,20.7h.01M822.6,20.7h.01M891.5,20.7h.01M901.4,20.7h.01M118.3,25.6h.01M128.2,25.6h.01M138.0,25.6h.01M147.9,25.6h.01M157.7,25.6h.01M167.6,25.6h.01M177.4,25.6h.01M187.3,25.6h.01M197.1,25.6h.01M541.9,25.6h.01M551.7,25.6h.01M561.6,25.6h.01M571.4,25.6h.01M581.3,25.6h.01M591.1,25.6h.01M601.0,25.6h.01M610.8,25.6h.01M620.7,25.6h.01M630.5,25.6h.01M640.4,25.6h.01M650.2,25.6h.01M660.1,25.6h.01M669.9,25.6h.01M679.8,25.6h.01M689.6,25.6h.01M699.5,25.6h.01M709.3,25.6h.01M719.2,25.6h.01M729.0,25.6h.01M738.9,25.6h.01M748.7,25.6h.01M758.6,25.6h.01M133.1,30.6h.01M142.9,30.6h.01M152.8,30.6h.01M162.6,30.6h.01M172.5,30.6h.01M182.3,30.6h.01M192.2,30.6h.01M202.0,30.6h.01M536.9,30.6h.01M546.8,30.6h.01M556.6,30.6h.01M566.5,30.6h.01M576.3,30.6h.01M586.2,30.6h.01M596.0,30.6h.01M605.9,30.6h.01M615.7,30.6h.01M625.6,30.6h.01M635.4,30.6h.01M645.3,30.6h.01M655.1,30.6h.01M665.0,30.6h.01M674.8,30.6h.01M684.7,30.6h.01M694.5,30.6h.01M704.4,30.6h.01M714.2,30.6h.01M724.1,30.6h.01M733.9,30.6h.01M743.8,30.6h.01M753.6,30.6h.01M763.5,30.6h.01M138.0,35.5h.01M147.9,35.5h.01M157.7,35.5h.01M167.6,35.5h.01M177.4,35.5h.01M187.3,35.5h.01M197.1,35.5h.01M207.0,35.5h.01M216.8,35.5h.01M226.7,35.5h.01M275.9,35.5h.01M285.8,35.5h.01M295.6,35.5h.01M541.9,35.5h.01M551.7,35.5h.01M561.6,35.5h.01M571.4,35.5h.01M581.3,35.5h.01M591.1,35.5h.01M601.0,35.5h.01M610.8,35.5h.01M620.7,35.5h.01M630.5,35.5h.01M640.4,35.5h.01M650.2,35.5h.01M660.1,35.5h.01M669.9,35.5h.01M679.8,35.5h.01M689.6,35.5h.01M699.5,35.5h.01M709.3,35.5h.01M719.2,35.5h.01M729.0,35.5h.01M738.9,35.5h.01M748.7,35.5h.01M798.0,35.5h.01M807.8,35.5h.01M133.1,40.5h.01M142.9,40.5h.01M152.8,40.5h.01M162.6,40.5h.01M172.5,40.5h.01M182.3,40.5h.01M192.2,40.5h.01M202.0,40.5h.01M211.9,40.5h.01M221.7,40.5h.01M231.6,40.5h.01M241.4,40.5h.01M261.1,40.5h.01M271.0,40.5h.01M280.8,40.5h.01M290.7,40.5h.01M546.8,40.5h.01M556.6,40.5h.01M566.5,40.5h.01M576.3,40.5h.01M586.2,40.5h.01M596.0,40.5h.01M605.9,40.5h.01M615.7,40.5h.01M625.6,40.5h.01M684.7,40.5h.01M694.5,40.5h.01M704.4,40.5h.01M714.2,40.5h.01M724.1,40.5h.01M733.9,40.5h.01M743.8,40.5h.01M802.9,40.5h.01M138.0,45.4h.01M147.9,45.4h.01M157.7,45.4h.01M167.6,45.4h.01M177.4,45.4h.01M187.3,45.4h.01M197.1,45.4h.01M207.0,45.4h.01M216.8,45.4h.01M226.7,45.4h.01M236.5,45.4h.01M246.4,45.4h.01M266.1,45.4h.01M275.9,45.4h.01M285.8,45.4h.01M295.6,45.4h.01M482.8,45.4h.01M492.6,45.4h.01M502.5,45.4h.01M512.3,45.4h.01M522.2,45.4h.01M532.0,45.4h.01M541.9,45.4h.01M561.6,45.4h.01M571.4,45.4h.01M581.3,45.4h.01M591.1,45.4h.01M620.7,45.4h.01M630.5,45.4h.01M640.4,45.4h.01M650.2,45.4h.01M660.1,45.4h.01M689.6,45.4h.01M699.5,45.4h.01M709.3,45.4h.01M719.2,45.4h.01M729.0,45.4h.01M142.9,50.4h.01M152.8,50.4h.01M162.6,50.4h.01M172.5,50.4h.01M182.3,50.4h.01M192.2,50.4h.01M202.0,50.4h.01M211.9,50.4h.01M221.7,50.4h.01M231.6,50.4h.01M241.4,50.4h.01M251.3,50.4h.01M261.1,50.4h.01M271.0,50.4h.01M280.8,50.4h.01M290.7,50.4h.01M477.8,50.4h.01M487.7,50.4h.01M497.5,50.4h.01M507.4,50.4h.01M517.2,50.4h.01M527.1,50.4h.01M536.9,50.4h.01M546.8,50.4h.01M566.5,50.4h.01M605.9,50.4h.01M615.7,50.4h.01M625.6,50.4h.01M635.4,50.4h.01M645.3,50.4h.01M655.1,50.4h.01M665.0,50.4h.01M704.4,50.4h.01M714.2,50.4h.01M724.1,50.4h.01M733.9,50.4h.01M743.8,50.4h.01M753.6,50.4h.01M763.5,50.4h.01M157.7,55.3h.01M167.6,55.3h.01M177.4,55.3h.01M187.3,55.3h.01M197.1,55.3h.01M207.0,55.3h.01M216.8,55.3h.01M226.7,55.3h.01M236.5,55.3h.01M246.4,55.3h.01M256.2,55.3h.01M266.1,55.3h.01M275.9,55.3h.01M482.8,55.3h.01M492.6,55.3h.01M502.5,55.3h.01M512.3,55.3h.01M522.2,55.3h.01M532.0,55.3h.01M541.9,55.3h.01M551.7,55.3h.01M601.0,55.3h.01M610.8,55.3h.01M620.7,55.3h.01M630.5,55.3h.01M640.4,55.3h.01M650.2,55.3h.01M660.1,55.3h.01M699.5,55.3h.01M709.3,55.3h.01M719.2,55.3h.01M729.0,55.3h.01M738.9,55.3h.01M748.7,55.3h.01M758.6,55.3h.01M152.8,60.3h.01M162.6,60.3h.01M172.5,60.3h.01M182.3,60.3h.01M192.2,60.3h.01M202.0,60.3h.01M211.9,60.3h.01M221.7,60.3h.01M231.6,60.3h.01M241.4,60.3h.01M251.3,60.3h.01M261.1,60.3h.01M271.0,60.3h.01M280.8,60.3h.01M290.7,60.3h.01M487.7,60.3h.01M497.5,60.3h.01M507.4,60.3h.01M517.2,60.3h.01M527.1,60.3h.01M536.9,60.3h.01M546.8,60.3h.01M605.9,60.3h.01M615.7,60.3h.01M625.6,60.3h.01M635.4,60.3h.01M645.3,60.3h.01M655.1,60.3h.01M665.0,60.3h.01M674.8,60.3h.01M684.7,60.3h.01M694.5,60.3h.01M704.4,60.3h.01M714.2,60.3h.01M724.1,60.3h.01M733.9,60.3h.01M743.8,60.3h.01M753.6,60.3h.01M763.5,60.3h.01M147.9,65.2h.01M157.7,65.2h.01M167.6,65.2h.01M177.4,65.2h.01M187.3,65.2h.01M197.1,65.2h.01M207.0,65.2h.01M216.8,65.2h.01M226.7,65.2h.01M236.5,65.2h.01M246.4,65.2h.01M256.2,65.2h.01M266.1,65.2h.01M275.9,65.2h.01M285.8,65.2h.01M492.6,65.2h.01M512.3,65.2h.01M522.2,65.2h.01M532.0,65.2h.01M601.0,65.2h.01M610.8,65.2h.01M620.7,65.2h.01M630.5,65.2h.01M640.4,65.2h.01M650.2,65.2h.01M660.1,65.2h.01M669.9,65.2h.01M679.8,65.2h.01M689.6,65.2h.01M699.5,65.2h.01M709.3,65.2h.01M719.2,65.2h.01M729.0,65.2h.01M738.9,65.2h.01M748.7,65.2h.01M758.6,65.2h.01M768.4,65.2h.01M152.8,70.2h.01M162.6,70.2h.01M172.5,70.2h.01M182.3,70.2h.01M192.2,70.2h.01M202.0,70.2h.01M211.9,70.2h.01M221.7,70.2h.01M231.6,70.2h.01M241.4,70.2h.01M251.3,70.2h.01M261.1,70.2h.01M271.0,70.2h.01M448.3,70.2h.01M458.1,70.2h.01M517.2,70.2h.01M527.1,70.2h.01M605.9,70.2h.01M615.7,70.2h.01M625.6,70.2h.01M635.4,70.2h.01M645.3,70.2h.01M655.1,70.2h.01M665.0,70.2h.01M674.8,70.2h.01M684.7,70.2h.01M694.5,70.2h.01M704.4,70.2h.01M714.2,70.2h.01M724.1,70.2h.01M733.9,70.2h.01M743.8,70.2h.01M753.6,70.2h.01M763.5,70.2h.01M147.9,75.1h.01M157.7,75.1h.01M167.6,75.1h.01M177.4,75.1h.01M187.3,75.1h.01M197.1,75.1h.01M207.0,75.1h.01M216.8,75.1h.01M226.7,75.1h.01M236.5,75.1h.01M246.4,75.1h.01M256.2,75.1h.01M443.4,75.1h.01M453.2,75.1h.01M581.3,75.1h.01M601.0,75.1h.01M610.8,75.1h.01M620.7,75.1h.01M630.5,75.1h.01M640.4,75.1h.01M650.2,75.1h.01M660.1,75.1h.01M669.9,75.1h.01M679.8,75.1h.01M689.6,75.1h.01M699.5,75.1h.01M709.3,75.1h.01M719.2,75.1h.01M729.0,75.1h.01M738.9,75.1h.01M748.7,75.1h.01M758.6,75.1h.01M768.4,75.1h.01M152.8,80.1h.01M162.6,80.1h.01M172.5,80.1h.01M182.3,80.1h.01M192.2,80.1h.01M202.0,80.1h.01M211.9,80.1h.01M221.7,80.1h.01M231.6,80.1h.01M241.4,80.1h.01M251.3,80.1h.01M448.3,80.1h.01M458.1,80.1h.01M576.3,80.1h.01M586.2,80.1h.01M605.9,80.1h.01M615.7,80.1h.01M625.6,80.1h.01M635.4,80.1h.01M645.3,80.1h.01M655.1,80.1h.01M665.0,80.1h.01M674.8,80.1h.01M684.7,80.1h.01M694.5,80.1h.01M704.4,80.1h.01M714.2,80.1h.01M724.1,80.1h.01M733.9,80.1h.01M743.8,80.1h.01M753.6,80.1h.01M763.5,80.1h.01M157.7,85.0h.01M167.6,85.0h.01M177.4,85.0h.01M187.3,85.0h.01M197.1,85.0h.01M207.0,85.0h.01M216.8,85.0h.01M226.7,85.0h.01M236.5,85.0h.01M246.4,85.0h.01M571.4,85.0h.01M581.3,85.0h.01M591.1,85.0h.01M610.8,85.0h.01M620.7,85.0h.01M630.5,85.0h.01M640.4,85.0h.01M650.2,85.0h.01M660.1,85.0h.01M669.9,85.0h.01M679.8,85.0h.01M689.6,85.0h.01M699.5,85.0h.01M709.3,85.0h.01M719.2,85.0h.01M729.0,85.0h.01M738.9,85.0h.01M748.7,85.0h.01M758.6,85.0h.01M162.6,90.0h.01M172.5,90.0h.01M182.3,90.0h.01M192.2,90.0h.01M202.0,90.0h.01M211.9,90.0h.01M221.7,90.0h.01M231.6,90.0h.01M241.4,90.0h.01M566.5,90.0h.01M576.3,90.0h.01M586.2,90.0h.01M605.9,90.0h.01M615.7,90.0h.01M625.6,90.0h.01M635.4,90.0h.01M645.3,90.0h.01M655.1,90.0h.01M665.0,90.0h.01M674.8,90.0h.01M684.7,90.0h.01M694.5,90.0h.01M704.4,90.0h.01M714.2,90.0h.01M724.1,90.0h.01M733.9,90.0h.01M743.8,90.0h.01M753.6,90.0h.01M763.5,90.0h.01M177.4,94.9h.01M187.3,94.9h.01M197.1,94.9h.01M207.0,94.9h.01M216.8,94.9h.01M226.7,94.9h.01M236.5,94.9h.01M463.1,94.9h.01M472.9,94.9h.01M482.8,94.9h.01M561.6,94.9h.01M571.4,94.9h.01M581.3,94.9h.01M591.1,94.9h.01M610.8,94.9h.01M620.7,94.9h.01M630.5,94.9h.01M640.4,94.9h.01M650.2,94.9h.01M660.1,94.9h.01M669.9,94.9h.01M679.8,94.9h.01M689.6,94.9h.01M699.5,94.9h.01M709.3,94.9h.01M719.2,94.9h.01M729.0,94.9h.01M738.9,94.9h.01M748.7,94.9h.01M758.6,94.9h.01M768.4,94.9h.01M182.3,99.9h.01M192.2,99.9h.01M202.0,99.9h.01M211.9,99.9h.01M221.7,99.9h.01M231.6,99.9h.01M241.4,99.9h.01M468.0,99.9h.01M477.8,99.9h.01M487.7,99.9h.01M556.6,99.9h.01M566.5,99.9h.01M576.3,99.9h.01M586.2,99.9h.01M605.9,99.9h.01M615.7,99.9h.01M625.6,99.9h.01M635.4,99.9h.01M645.3,99.9h.01M655.1,99.9h.01M665.0,99.9h.01M674.8,99.9h.01M684.7,99.9h.01M694.5,99.9h.01M704.4,99.9h.01M714.2,99.9h.01M724.1,99.9h.01M733.9,99.9h.01M743.8,99.9h.01M753.6,99.9h.01M763.5,99.9h.01M773.3,99.9h.01M187.3,104.8h.01M197.1,104.8h.01M207.0,104.8h.01M463.1,104.8h.01M472.9,104.8h.01M482.8,104.8h.01M561.6,104.8h.01M571.4,104.8h.01M581.3,104.8h.01M610.8,104.8h.01M620.7,104.8h.01M630.5,104.8h.01M640.4,104.8h.01M650.2,104.8h.01M660.1,104.8h.01M669.9,104.8h.01M679.8,104.8h.01M689.6,104.8h.01M699.5,104.8h.01M709.3,104.8h.01M719.2,104.8h.01M729.0,104.8h.01M738.9,104.8h.01M748.7,104.8h.01M758.6,104.8h.01M768.4,104.8h.01M192.2,109.8h.01M202.0,109.8h.01M211.9,109.8h.01M438.4,109.8h.01M448.3,109.8h.01M458.1,109.8h.01M468.0,109.8h.01M477.8,109.8h.01M487.7,109.8h.01M527.1,109.8h.01M536.9,109.8h.01M546.8,109.8h.01M566.5,109.8h.01M576.3,109.8h.01M586.2,109.8h.01M605.9,109.8h.01M615.7,109.8h.01M625.6,109.8h.01M635.4,109.8h.01M645.3,109.8h.01M655.1,109.8h.01M665.0,109.8h.01M674.8,109.8h.01M684.7,109.8h.01M694.5,109.8h.01M704.4,109.8h.01M714.2,109.8h.01M724.1,109.8h.01M733.9,109.8h.01M743.8,109.8h.01M753.6,109.8h.01M763.5,109.8h.01M197.1,114.7h.01M207.0,114.7h.01M433.5,114.7h.01M443.4,114.7h.01M453.2,114.7h.01M472.9,114.7h.01M482.8,114.7h.01M502.5,114.7h.01M512.3,114.7h.01M522.2,114.7h.01M532.0,114.7h.01M541.9,114.7h.01M571.4,114.7h.01M581.3,114.7h.01M591.1,114.7h.01M660.1,114.7h.01M669.9,114.7h.01M679.8,114.7h.01M689.6,114.7h.01M699.5,114.7h.01M709.3,114.7h.01M719.2,114.7h.01M729.0,114.7h.01M738.9,114.7h.01M748.7,114.7h.01M758.6,114.7h.01M768.4,114.7h.01M202.0,119.7h.01M428.6,119.7h.01M438.4,119.7h.01M448.3,119.7h.01M458.1,119.7h.01M477.8,119.7h.01M487.7,119.7h.01M497.5,119.7h.01M507.4,119.7h.01M517.2,119.7h.01M527.1,119.7h.01M536.9,119.7h.01M546.8,119.7h.01M576.3,119.7h.01M586.2,119.7h.01M596.0,119.7h.01M655.1,119.7h.01M665.0,119.7h.01M674.8,119.7h.01M684.7,119.7h.01M704.4,119.7h.01M714.2,119.7h.01M724.1,119.7h.01M733.9,119.7h.01M743.8,119.7h.01M753.6,119.7h.01M197.1,124.6h.01M207.0,124.6h.01M433.5,124.6h.01M443.4,124.6h.01M453.2,124.6h.01M482.8,124.6h.01M492.6,124.6h.01M502.5,124.6h.01M512.3,124.6h.01M522.2,124.6h.01M532.0,124.6h.01M541.9,124.6h.01M551.7,124.6h.01M571.4,124.6h.01M581.3,124.6h.01M591.1,124.6h.01M660.1,124.6h.01M669.9,124.6h.01M679.8,124.6h.01M709.3,124.6h.01M719.2,124.6h.01M729.0,124.6h.01M738.9,124.6h.01M202.0,129.6h.01M211.9,129.6h.01M487.7,129.6h.01M497.5,129.6h.01M507.4,129.6h.01M517.2,129.6h.01M527.1,129.6h.01M536.9,129.6h.01M546.8,129.6h.01M576.3,129.6h.01M586.2,129.6h.01M665.0,129.6h.01M674.8,129.6h.01M423.7,134.5h.01M433.5,134.5h.01M443.4,134.5h.01M453.2,134.5h.01M463.1,134.5h.01M492.6,134.5h.01M502.5,134.5h.01M512.3,134.5h.01M522.2,134.5h.01M532.0,134.5h.01M541.9,134.5h.01M551.7,134.5h.01M581.3,134.5h.01M591.1,134.5h.01M428.6,139.5h.01M438.4,139.5h.01M448.3,139.5h.01M458.1,139.5h.01M487.7,139.5h.01M497.5,139.5h.01M507.4,139.5h.01M517.2,139.5h.01M527.1,139.5h.01M536.9,139.5h.01M546.8,139.5h.01M556.6,139.5h.01M433.5,144.4h.01M443.4,144.4h.01M453.2,144.4h.01M463.1,144.4h.01M482.8,144.4h.01M492.6,144.4h.01M502.5,144.4h.01M512.3,144.4h.01M522.2,144.4h.01M532.0,144.4h.01M541.9,144.4h.01M551.7,144.4h.01M561.6,144.4h.01M428.6,149.4h.01M438.4,149.4h.01M448.3,149.4h.01M458.1,149.4h.01M487.7,149.4h.01M497.5,149.4h.01M507.4,149.4h.01M536.9,149.4h.01M546.8,149.4h.01M556.6,149.4h.01M566.5,149.4h.01M433.5,154.3h.01M443.4,154.3h.01M453.2,154.3h.01M463.1,154.3h.01M482.8,154.3h.01M492.6,154.3h.01M502.5,154.3h.01M522.2,154.3h.01M532.0,154.3h.01M541.9,154.3h.01M551.7,154.3h.01M561.6,154.3h.01M571.4,154.3h.01M290.7,159.3h.01M300.5,159.3h.01M487.7,159.3h.01M497.5,159.3h.01M507.4,159.3h.01M517.2,159.3h.01M527.1,159.3h.01M536.9,159.3h.01M546.8,159.3h.01M556.6,159.3h.01M566.5,159.3h.01M576.3,159.3h.01M586.2,159.3h.01M275.9,164.2h.01M285.8,164.2h.01M295.6,164.2h.01M305.5,164.2h.01M482.8,164.2h.01M492.6,164.2h.01M502.5,164.2h.01M512.3,164.2h.01M522.2,164.2h.01M532.0,164.2h.01M541.9,164.2h.01M551.7,164.2h.01M561.6,164.2h.01M571.4,164.2h.01M581.3,164.2h.01M271.0,169.2h.01M280.8,169.2h.01M290.7,169.2h.01M300.5,169.2h.01M310.4,169.2h.01M320.2,169.2h.01M497.5,169.2h.01M507.4,169.2h.01M517.2,169.2h.01M527.1,169.2h.01M536.9,169.2h.01M546.8,169.2h.01M556.6,169.2h.01M266.1,174.1h.01M275.9,174.1h.01M285.8,174.1h.01M295.6,174.1h.01M305.5,174.1h.01M315.3,174.1h.01M325.2,174.1h.01M502.5,174.1h.01M512.3,174.1h.01M522.2,174.1h.01M532.0,174.1h.01M541.9,174.1h.01M551.7,174.1h.01M561.6,174.1h.01M261.1,179.1h.01M271.0,179.1h.01M280.8,179.1h.01M290.7,179.1h.01M300.5,179.1h.01M310.4,179.1h.01M320.2,179.1h.01M330.1,179.1h.01M497.5,179.1h.01M507.4,179.1h.01M517.2,179.1h.01M527.1,179.1h.01M536.9,179.1h.01M546.8,179.1h.01M556.6,179.1h.01M566.5,179.1h.01M266.1,184.0h.01M275.9,184.0h.01M285.8,184.0h.01M295.6,184.0h.01M315.3,184.0h.01M325.2,184.0h.01M335.0,184.0h.01M512.3,184.0h.01M522.2,184.0h.01M532.0,184.0h.01M541.9,184.0h.01M551.7,184.0h.01M561.6,184.0h.01M261.1,189.0h.01M271.0,189.0h.01M280.8,189.0h.01M290.7,189.0h.01M300.5,189.0h.01M330.1,189.0h.01M339.9,189.0h.01M517.2,189.0h.01M527.1,189.0h.01M536.9,189.0h.01M546.8,189.0h.01M556.6,189.0h.01M256.2,193.9h.01M266.1,193.9h.01M275.9,193.9h.01M285.8,193.9h.01M295.6,193.9h.01M335.0,193.9h.01M522.2,193.9h.01M532.0,193.9h.01M541.9,193.9h.01M551.7,193.9h.01M561.6,193.9h.01M261.1,198.9h.01M271.0,198.9h.01M280.8,198.9h.01M290.7,198.9h.01M300.5,198.9h.01M339.9,198.9h.01M349.8,198.9h.01M359.6,198.9h.01M527.1,198.9h.01M536.9,198.9h.01M546.8,198.9h.01M556.6,198.9h.01M266.1,203.8h.01M275.9,203.8h.01M285.8,203.8h.01M295.6,203.8h.01M305.5,203.8h.01M335.0,203.8h.01M344.9,203.8h.01M354.7,203.8h.01M364.6,203.8h.01M522.2,203.8h.01M532.0,203.8h.01M541.9,203.8h.01M551.7,203.8h.01M561.6,203.8h.01M271.0,208.8h.01M280.8,208.8h.01M290.7,208.8h.01M300.5,208.8h.01M310.4,208.8h.01M339.9,208.8h.01M349.8,208.8h.01M359.6,208.8h.01M527.1,208.8h.01M536.9,208.8h.01M546.8,208.8h.01M556.6,208.8h.01M275.9,213.7h.01M285.8,213.7h.01M295.6,213.7h.01M305.5,213.7h.01M315.3,213.7h.01M344.9,213.7h.01M354.7,213.7h.01M522.2,213.7h.01M532.0,213.7h.01M541.9,213.7h.01M551.7,213.7h.01M561.6,213.7h.01M280.8,218.7h.01M290.7,218.7h.01M300.5,218.7h.01M310.4,218.7h.01M320.2,218.7h.01M349.8,218.7h.01M517.2,218.7h.01M527.1,218.7h.01M536.9,218.7h.01M546.8,218.7h.01M556.6,218.7h.01M802.9,218.7h.01M285.8,223.6h.01M295.6,223.6h.01M305.5,223.6h.01M315.3,223.6h.01M512.3,223.6h.01M522.2,223.6h.01M532.0,223.6h.01M541.9,223.6h.01M551.7,223.6h.01M788.1,223.6h.01M798.0,223.6h.01M807.8,223.6h.01M300.5,228.6h.01M310.4,228.6h.01M320.2,228.6h.01M497.5,228.6h.01M507.4,228.6h.01M517.2,228.6h.01M527.1,228.6h.01M536.9,228.6h.01M546.8,228.6h.01M783.2,228.6h.01M793.0,228.6h.01M802.9,228.6h.01M295.6,233.5h.01M305.5,233.5h.01M315.3,233.5h.01M325.2,233.5h.01M344.9,233.5h.01M354.7,233.5h.01M502.5,233.5h.01M512.3,233.5h.01M522.2,233.5h.01M532.0,233.5h.01M541.9,233.5h.01M551.7,233.5h.01M768.4,233.5h.01M778.3,233.5h.01M788.1,233.5h.01M798.0,233.5h.01M807.8,233.5h.01M290.7,238.5h.01M300.5,238.5h.01M310.4,238.5h.01M320.2,238.5h.01M330.1,238.5h.01M339.9,238.5h.01M349.8,238.5h.01M507.4,238.5h.01M517.2,238.5h.01M527.1,238.5h.01M536.9,238.5h.01M546.8,238.5h.01M763.5,238.5h.01M773.3,238.5h.01M783.2,238.5h.01M793.0,238.5h.01M802.9,238.5h.01M285.8,243.4h.01M295.6,243.4h.01M305.5,243.4h.01M315.3,243.4h.01M325.2,243.4h.01M335.0,243.4h.01M512.3,243.4h.01M522.2,243.4h.01M532.0,243.4h.01M541.9,243.4h.01M768.4,243.4h.01M778.3,243.4h.01M788.1,243.4h.01M798.0,243.4h.01M807.8,243.4h.01M817.7,243.4h.01M827.5,243.4h.01M837.4,243.4h.01M847.2,243.4h.01M290.7,248.4h.01M300.5,248.4h.01M310.4,248.4h.01M320.2,248.4h.01M330.1,248.4h.01M507.4,248.4h.01M517.2,248.4h.01M527.1,248.4h.01M536.9,248.4h.01M546.8,248.4h.01M763.5,248.4h.01M773.3,248.4h.01M783.2,248.4h.01M793.0,248.4h.01M802.9,248.4h.01M812.7,248.4h.01M822.6,248.4h.01M832.4,248.4h.01M842.3,248.4h.01M852.1,248.4h.01M285.8,253.3h.01M295.6,253.3h.01M305.5,253.3h.01M315.3,253.3h.01M325.2,253.3h.01M335.0,253.3h.01M512.3,253.3h.01M522.2,253.3h.01M532.0,253.3h.01M541.9,253.3h.01M768.4,253.3h.01M778.3,253.3h.01M788.1,253.3h.01M798.0,253.3h.01M807.8,253.3h.01M817.7,253.3h.01M827.5,253.3h.01M837.4,253.3h.01M847.2,253.3h.01M290.7,258.3h.01M300.5,258.3h.01M310.4,258.3h.01M320.2,258.3h.01M330.1,258.3h.01M517.2,258.3h.01M527.1,258.3h.01M536.9,258.3h.01M763.5,258.3h.01M773.3,258.3h.01M783.2,258.3h.01M793.0,258.3h.01M802.9,258.3h.01M812.7,258.3h.01M822.6,258.3h.01M832.4,258.3h.01M842.3,258.3h.01M852.1,258.3h.01M285.8,263.2h.01M295.6,263.2h.01M305.5,263.2h.01M315.3,263.2h.01M325.2,263.2h.01M522.2,263.2h.01M817.7,263.2h.01M827.5,263.2h.01M837.4,263.2h.01M847.2,263.2h.01M280.8,268.2h.01M290.7,268.2h.01M300.5,268.2h.01M310.4,268.2h.01M320.2,268.2h.01M822.6,268.2h.01M832.4,268.2h.01M842.3,268.2h.01M285.8,273.1h.01M295.6,273.1h.01M305.5,273.1h.01M315.3,273.1h.01M827.5,273.1h.01M837.4,273.1h.01M280.8,278.1h.01M290.7,278.1h.01M300.5,278.1h.01M310.4,278.1h.01M275.9,283.0h.01M285.8,283.0h.01M295.6,283.0h.01M280.8,288.0h.01M290.7,288.0h.01M275.9,292.9h.01M285.8,292.9h.01M280.8,297.9h.01M275.9,302.8h.01M285.8,302.8h.01M280.8,307.8h.01M275.9,312.7h.01M280.8,317.7h.01" fill="none" stroke="#111" stroke-width="3.4" stroke-linecap="round"/>
</g>
<use href="#landp" fill="none" stroke="#111" stroke-width="1.25" stroke-linejoin="round"/>
<use href="#waterp" fill="#fff" stroke="#111" stroke-width="1.25" stroke-linejoin="round"/>
<use href="#lakes" fill="#111" fill-opacity="0.45" stroke="#111" stroke-width="1.3" stroke-linejoin="round" stroke-linecap="round"/>
<use href="#lakes2" fill="none" stroke="#111" stroke-width="1.3" stroke-linejoin="round" stroke-linecap="round"/>
</g>
<rect x="0" y="0" width="926.64" height="334.62" fill="none" stroke="#111" stroke-width="1.4"/>
<path d="M-11.8,25.74H0M-11.8,102.96H0M-11.8,180.18H0M-11.8,257.40H0M-11.8,334.62H0M0.00,334.62v12M154.44,334.62v12M308.88,334.62v12M463.32,334.62v12M617.76,334.62v12M772.20,334.62v12M926.64,334.62v12" stroke="#111" stroke-width="1.4" fill="none"/>
</g>
<text x="0.7" y="1230.4" font-size="26.8" textLength="72.5" lengthAdjust="spacingAndGlyphs">60° N</text>
<text x="1.2" y="1307.7" font-size="26.8" textLength="72" lengthAdjust="spacingAndGlyphs">30° N</text>
<text x="45.3" y="1384.9" font-size="26.8" textLength="29.5" lengthAdjust="spacingAndGlyphs">0°</text>
<text x="3.2" y="1462.1" font-size="26.8" textLength="71" lengthAdjust="spacingAndGlyphs">30° S</text>
<text x="3.2" y="1539.3" font-size="26.8" textLength="71" lengthAdjust="spacingAndGlyphs">60° S</text>
<text x="63.1" y="1579.5" font-size="26.8" textLength="59" lengthAdjust="spacingAndGlyphs">180°</text>
<text x="203.0" y="1579.5" font-size="26.8" textLength="88" lengthAdjust="spacingAndGlyphs">120° W</text>
<text x="362.2" y="1579.5" font-size="26.8" textLength="78.5" lengthAdjust="spacingAndGlyphs">60° W</text>
<text x="541.2" y="1579.5" font-size="26.8" textLength="29.5" lengthAdjust="spacingAndGlyphs">0°</text>
<text x="675.6" y="1579.5" font-size="26.8" textLength="69.5" lengthAdjust="spacingAndGlyphs">60° E</text>
<text x="824.5" y="1579.5" font-size="26.8" textLength="80.5" lengthAdjust="spacingAndGlyphs">120° E</text>
<text x="989.7" y="1579.5" font-size="26.8" textLength="59" lengthAdjust="spacingAndGlyphs">180°</text>
<text x="0.2" y="1187" font-size="38" font-weight="bold" fill="#000" stroke="#000" stroke-width="1.2">c</text>
<rect x="118.75" y="1657.8" width="43.75" height="27.9" fill="#254e9a"/>
<rect x="162.50" y="1657.8" width="43.75" height="27.9" fill="#2b62af"/>
<rect x="206.25" y="1657.8" width="43.75" height="27.9" fill="#3a7bbf"/>
<rect x="250.00" y="1657.8" width="43.75" height="27.9" fill="#4c94cf"/>
<rect x="293.75" y="1657.8" width="43.75" height="27.9" fill="#62a9db"/>
<rect x="337.50" y="1657.8" width="43.75" height="27.9" fill="#7abde6"/>
<rect x="381.25" y="1657.8" width="43.75" height="27.9" fill="#93d0f1"/>
<rect x="425.00" y="1657.8" width="43.75" height="27.9" fill="#a8dbf5"/>
<rect x="468.75" y="1657.8" width="43.75" height="27.9" fill="#bee5f7"/>
<rect x="512.50" y="1657.8" width="43.75" height="27.9" fill="#d2edf8"/>
<rect x="556.25" y="1657.8" width="43.75" height="27.9" fill="#fef2c0"/>
<rect x="600.00" y="1657.8" width="43.75" height="27.9" fill="#fce79a"/>
<rect x="643.75" y="1657.8" width="43.75" height="27.9" fill="#fdd57b"/>
<rect x="687.50" y="1657.8" width="43.75" height="27.9" fill="#fdc05a"/>
<rect x="731.25" y="1657.8" width="43.75" height="27.9" fill="#fdab3b"/>
<rect x="775.00" y="1657.8" width="43.75" height="27.9" fill="#fb9634"/>
<rect x="818.75" y="1657.8" width="43.75" height="27.9" fill="#f77f30"/>
<rect x="862.50" y="1657.8" width="43.75" height="27.9" fill="#f0672c"/>
<rect x="906.25" y="1657.8" width="43.75" height="27.9" fill="#e54f2a"/>
<rect x="950.00" y="1657.8" width="43.75" height="27.9" fill="#d8302a"/>
<path d="M162.50,1657.8v27.9M206.25,1657.8v27.9M250.00,1657.8v27.9M293.75,1657.8v27.9M337.50,1657.8v27.9M381.25,1657.8v27.9M425.00,1657.8v27.9M468.75,1657.8v27.9M512.50,1657.8v27.9M556.25,1657.8v27.9M600.00,1657.8v27.9M643.75,1657.8v27.9M687.50,1657.8v27.9M731.25,1657.8v27.9M775.00,1657.8v27.9M818.75,1657.8v27.9M862.50,1657.8v27.9M906.25,1657.8v27.9M950.00,1657.8v27.9" stroke="#111" stroke-width="1.1" fill="none"/>
<rect x="118.75" y="1657.8" width="875.0" height="27.9" fill="none" stroke="#111" stroke-width="1.4"/>
<text x="185.8" y="1718.9" font-size="26.8" textLength="41" lengthAdjust="spacingAndGlyphs">−16</text>
<text x="273.2" y="1718.9" font-size="26.8" textLength="41" lengthAdjust="spacingAndGlyphs">−12</text>
<text x="366.0" y="1718.9" font-size="26.8" textLength="30.5" lengthAdjust="spacingAndGlyphs">−8</text>
<text x="453.8" y="1718.9" font-size="26.8" textLength="30" lengthAdjust="spacingAndGlyphs">−4</text>
<text x="547.5" y="1718.9" font-size="26.8" textLength="17.5" lengthAdjust="spacingAndGlyphs">0</text>
<text x="635.0" y="1718.9" font-size="26.8" textLength="17.5" lengthAdjust="spacingAndGlyphs">4</text>
<text x="722.8" y="1718.9" font-size="26.8" textLength="17" lengthAdjust="spacingAndGlyphs">8</text>
<text x="805.0" y="1718.9" font-size="26.8" textLength="27.5" lengthAdjust="spacingAndGlyphs">12</text>
<text x="892.2" y="1718.9" font-size="26.8" textLength="28" lengthAdjust="spacingAndGlyphs">16</text>
<text x="386.5" y="1641.5" font-size="26.8" textLength="380.0" lengthAdjust="spacingAndGlyphs">Total intensity (°C per decade)</text>
</svg></body></html>
